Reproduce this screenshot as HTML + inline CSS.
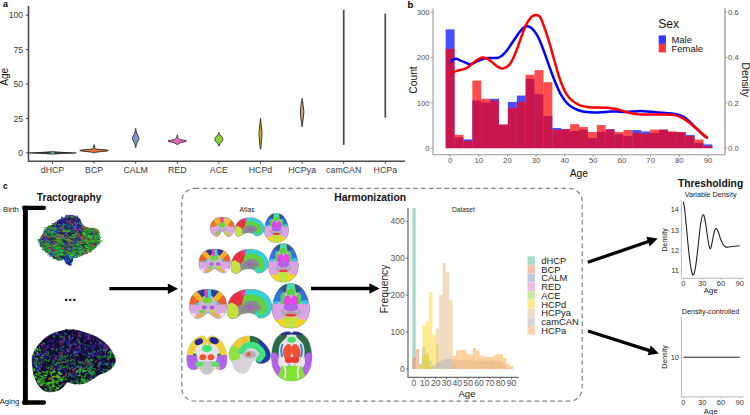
<!DOCTYPE html>
<html><head><meta charset="utf-8"><title>Figure</title>
<style>
html,body{margin:0;padding:0;background:#fff;}
body{width:750px;height:415px;overflow:hidden;}
svg{display:block;}
svg text{font-family:"Liberation Sans",sans-serif;}
</style></head><body>
<svg width="750" height="415" viewBox="0 0 750 415">
<rect width="750" height="415" fill="#ffffff"/>
<g id="panelA">
<text x="3.00" y="7.40" font-size="8.80" text-anchor="start" font-weight="bold" fill="#000" >a</text>
<path d="M28.5,6.0 V161.2 H405.0" fill="none" stroke="#4a4a4a" stroke-width="1.6"/>
<line x1="25.9" x2="28.5" y1="152.90" y2="152.90" stroke="#333" stroke-width="0.9"/>
<text x="23.20" y="156.00" font-size="8.70" text-anchor="end" font-weight="normal" fill="#3a3a3a" >0</text>
<line x1="25.9" x2="28.5" y1="118.47" y2="118.47" stroke="#333" stroke-width="0.9"/>
<text x="23.20" y="121.57" font-size="8.70" text-anchor="end" font-weight="normal" fill="#3a3a3a" >25</text>
<line x1="25.9" x2="28.5" y1="84.05" y2="84.05" stroke="#333" stroke-width="0.9"/>
<text x="23.20" y="87.15" font-size="8.70" text-anchor="end" font-weight="normal" fill="#3a3a3a" >50</text>
<line x1="25.9" x2="28.5" y1="49.62" y2="49.62" stroke="#333" stroke-width="0.9"/>
<text x="23.20" y="52.72" font-size="8.70" text-anchor="end" font-weight="normal" fill="#3a3a3a" >75</text>
<line x1="25.9" x2="28.5" y1="15.20" y2="15.20" stroke="#333" stroke-width="0.9"/>
<text x="23.20" y="18.30" font-size="8.70" text-anchor="end" font-weight="normal" fill="#3a3a3a" >100</text>
<text x="8.30" y="76.90" font-size="10.00" text-anchor="middle" font-weight="normal" fill="#111" transform="rotate(-90 8.30 76.90)" >Age</text>
<line x1="52.50" x2="52.50" y1="161.2" y2="163.8" stroke="#333" stroke-width="0.9"/>
<text x="52.50" y="173.00" font-size="8.80" text-anchor="middle" font-weight="normal" fill="#3a3a3a" >dHCP</text>
<line x1="94.10" x2="94.10" y1="161.2" y2="163.8" stroke="#333" stroke-width="0.9"/>
<text x="94.10" y="173.00" font-size="8.80" text-anchor="middle" font-weight="normal" fill="#3a3a3a" >BCP</text>
<line x1="135.70" x2="135.70" y1="161.2" y2="163.8" stroke="#333" stroke-width="0.9"/>
<text x="135.70" y="173.00" font-size="8.80" text-anchor="middle" font-weight="normal" fill="#3a3a3a" >CALM</text>
<line x1="177.30" x2="177.30" y1="161.2" y2="163.8" stroke="#333" stroke-width="0.9"/>
<text x="177.30" y="173.00" font-size="8.80" text-anchor="middle" font-weight="normal" fill="#3a3a3a" >RED</text>
<line x1="218.90" x2="218.90" y1="161.2" y2="163.8" stroke="#333" stroke-width="0.9"/>
<text x="218.90" y="173.00" font-size="8.80" text-anchor="middle" font-weight="normal" fill="#3a3a3a" >ACE</text>
<line x1="260.50" x2="260.50" y1="161.2" y2="163.8" stroke="#333" stroke-width="0.9"/>
<text x="260.50" y="173.00" font-size="8.80" text-anchor="middle" font-weight="normal" fill="#3a3a3a" >HCPd</text>
<line x1="302.10" x2="302.10" y1="161.2" y2="163.8" stroke="#333" stroke-width="0.9"/>
<text x="302.10" y="173.00" font-size="8.80" text-anchor="middle" font-weight="normal" fill="#3a3a3a" >HCPya</text>
<line x1="343.70" x2="343.70" y1="161.2" y2="163.8" stroke="#333" stroke-width="0.9"/>
<text x="343.70" y="173.00" font-size="8.80" text-anchor="middle" font-weight="normal" fill="#3a3a3a" >camCAN</text>
<line x1="385.30" x2="385.30" y1="161.2" y2="163.8" stroke="#333" stroke-width="0.9"/>
<text x="385.30" y="173.00" font-size="8.80" text-anchor="middle" font-weight="normal" fill="#3a3a3a" >HCPa</text>
<path d="M52.40,151.90 C51.08,151.98 48.45,152.23 44.50,152.40 C40.55,152.57 28.70,152.73 28.70,152.90 C28.70,153.07 40.55,153.23 44.50,153.40 C48.45,153.57 51.08,153.82 52.40,153.90 L52.60,153.90 C53.92,153.82 56.55,153.57 60.50,153.40 C64.45,153.23 76.30,153.07 76.30,152.90 C76.30,152.73 64.45,152.57 60.50,152.40 C56.55,152.23 53.92,151.98 52.60,151.90 Z" fill="#3c4a46" stroke="#333" stroke-width="1.30" stroke-linejoin="round"/>
<ellipse cx="52.5" cy="152.9" rx="2.2" ry="0.9" fill="#5fb79c"/>
<path d="M94.00,144.70 C93.92,145.13 93.82,146.58 93.50,147.30 C93.18,148.02 94.20,148.53 92.10,149.00 C90.00,149.47 82.70,149.77 80.90,150.10 C79.10,150.43 79.67,150.68 81.30,151.00 C82.93,151.32 88.58,151.68 90.70,152.00 C92.82,152.32 93.45,152.75 94.00,152.90 L94.20,152.90 C94.75,152.75 95.38,152.32 97.50,152.00 C99.62,151.68 105.27,151.32 106.90,151.00 C108.53,150.68 109.10,150.43 107.30,150.10 C105.50,149.77 98.20,149.47 96.10,149.00 C94.00,148.53 95.02,148.02 94.70,147.30 C94.38,146.58 94.28,145.13 94.20,144.70 Z" fill="#f0703c" stroke="#333" stroke-width="1.00" stroke-linejoin="round"/>
<path d="M135.60,128.40 C135.52,129.00 135.45,130.82 135.10,132.00 C134.75,133.18 133.95,134.47 133.50,135.50 C133.05,136.53 132.42,137.28 132.40,138.20 C132.38,139.12 132.98,140.03 133.40,141.00 C133.82,141.97 134.53,142.90 134.90,144.00 C135.27,145.10 135.48,147.00 135.60,147.60 L135.80,147.60 C135.92,147.00 136.13,145.10 136.50,144.00 C136.87,142.90 137.58,141.97 138.00,141.00 C138.42,140.03 139.02,139.12 139.00,138.20 C138.98,137.28 138.35,136.53 137.90,135.50 C137.45,134.47 136.65,133.18 136.30,132.00 C135.95,130.82 135.88,129.00 135.80,128.40 Z" fill="#7d94ce" stroke="#333" stroke-width="0.95" stroke-linejoin="round"/>
<path d="M177.20,134.90 C177.12,135.33 177.18,136.72 176.70,137.50 C176.22,138.28 175.67,139.07 174.30,139.60 C172.93,140.13 169.37,140.37 168.50,140.70 C167.63,141.03 168.13,141.25 169.10,141.60 C170.07,141.95 172.95,142.28 174.30,142.80 C175.65,143.32 176.72,144.38 177.20,144.70 L177.40,144.70 C177.88,144.38 178.95,143.32 180.30,142.80 C181.65,142.28 184.53,141.95 185.50,141.60 C186.47,141.25 186.97,141.03 186.10,140.70 C185.23,140.37 181.67,140.13 180.30,139.60 C178.93,139.07 178.38,138.28 177.90,137.50 C177.42,136.72 177.48,135.33 177.40,134.90 Z" fill="#e66bbb" stroke="#333" stroke-width="0.95" stroke-linejoin="round"/>
<path d="M218.80,132.50 C218.62,132.92 218.28,134.17 217.70,135.00 C217.12,135.83 215.75,136.75 215.30,137.50 C214.85,138.25 214.90,138.82 215.00,139.50 C215.10,140.18 215.42,140.88 215.90,141.60 C216.38,142.32 217.42,143.05 217.90,143.80 C218.38,144.55 218.65,145.72 218.80,146.10 L219.00,146.10 C219.15,145.72 219.42,144.55 219.90,143.80 C220.38,143.05 221.42,142.32 221.90,141.60 C222.38,140.88 222.70,140.18 222.80,139.50 C222.90,138.82 222.95,138.25 222.50,137.50 C222.05,136.75 220.68,135.83 220.10,135.00 C219.52,134.17 219.18,132.92 219.00,132.50 Z" fill="#8dd030" stroke="#333" stroke-width="0.95" stroke-linejoin="round"/>
<path d="M260.40,118.40 C260.32,119.33 260.07,122.23 259.90,124.00 C259.73,125.77 259.55,127.40 259.40,129.00 C259.25,130.60 259.02,131.93 259.00,133.60 C258.98,135.27 259.17,137.27 259.30,139.00 C259.43,140.73 259.62,142.30 259.80,144.00 C259.98,145.70 260.30,148.33 260.40,149.20 L260.60,149.20 C260.70,148.33 261.02,145.70 261.20,144.00 C261.38,142.30 261.57,140.73 261.70,139.00 C261.83,137.27 262.02,135.27 262.00,133.60 C261.98,131.93 261.75,130.60 261.60,129.00 C261.45,127.40 261.27,125.77 261.10,124.00 C260.93,122.23 260.68,119.33 260.60,118.40 Z" fill="#d8b025" stroke="#333" stroke-width="1.00" stroke-linejoin="round"/>
<path d="M302.00,98.40 C301.90,99.17 301.62,101.40 301.40,103.00 C301.18,104.60 300.87,106.50 300.70,108.00 C300.53,109.50 300.40,110.67 300.40,112.00 C300.40,113.33 300.55,114.50 300.70,116.00 C300.85,117.50 301.08,119.23 301.30,121.00 C301.52,122.77 301.88,125.67 302.00,126.60 L302.20,126.60 C302.32,125.67 302.68,122.77 302.90,121.00 C303.12,119.23 303.35,117.50 303.50,116.00 C303.65,114.50 303.80,113.33 303.80,112.00 C303.80,110.67 303.67,109.50 303.50,108.00 C303.33,106.50 303.02,104.60 302.80,103.00 C302.58,101.40 302.30,99.17 302.20,98.40 Z" fill="#d4a878" stroke="#333" stroke-width="1.00" stroke-linejoin="round"/>
<line x1="343.70" x2="343.70" y1="9.8" y2="144.9" stroke="#484848" stroke-width="1.7"/>
<line x1="385.30" x2="385.30" y1="13.7" y2="117.6" stroke="#484848" stroke-width="1.7"/>
</g>
<g id="panelB">
<text x="407.60" y="8.20" font-size="9.60" text-anchor="start" font-weight="bold" fill="#000" >b</text>
<path d="M433.0,8.4 V154.7 H725.0" fill="none" stroke="#9a9a9a" stroke-width="1.1"/>
<path d="M725.0,154.7 V8.4" fill="none" stroke="#6a6a6a" stroke-width="0.9"/>
<line x1="430.8" x2="433.0" y1="148.20" y2="148.20" stroke="#8a8a8a" stroke-width="0.8"/>
<text x="429.60" y="150.90" font-size="7.70" text-anchor="end" font-weight="normal" fill="#505050" >0</text>
<line x1="430.8" x2="433.0" y1="102.83" y2="102.83" stroke="#8a8a8a" stroke-width="0.8"/>
<text x="429.60" y="105.53" font-size="7.70" text-anchor="end" font-weight="normal" fill="#505050" >100</text>
<line x1="430.8" x2="433.0" y1="57.46" y2="57.46" stroke="#8a8a8a" stroke-width="0.8"/>
<text x="429.60" y="60.16" font-size="7.70" text-anchor="end" font-weight="normal" fill="#505050" >200</text>
<line x1="430.8" x2="433.0" y1="12.09" y2="12.09" stroke="#8a8a8a" stroke-width="0.8"/>
<text x="429.60" y="14.79" font-size="7.70" text-anchor="end" font-weight="normal" fill="#505050" >300</text>
<line x1="725.0" x2="727.2" y1="148.20" y2="148.20" stroke="#8a8a8a" stroke-width="0.8"/>
<text x="728.00" y="150.90" font-size="7.70" text-anchor="start" font-weight="normal" fill="#505050" >0.0</text>
<line x1="725.0" x2="727.2" y1="102.80" y2="102.80" stroke="#8a8a8a" stroke-width="0.8"/>
<text x="728.00" y="105.50" font-size="7.70" text-anchor="start" font-weight="normal" fill="#505050" >0.2</text>
<line x1="725.0" x2="727.2" y1="57.40" y2="57.40" stroke="#8a8a8a" stroke-width="0.8"/>
<text x="728.00" y="60.10" font-size="7.70" text-anchor="start" font-weight="normal" fill="#505050" >0.4</text>
<line x1="725.0" x2="727.2" y1="12.00" y2="12.00" stroke="#8a8a8a" stroke-width="0.8"/>
<text x="728.00" y="14.70" font-size="7.70" text-anchor="start" font-weight="normal" fill="#505050" >0.6</text>
<line x1="450.10" x2="450.10" y1="154.7" y2="156.9" stroke="#8a8a8a" stroke-width="0.8"/>
<text x="450.10" y="163.20" font-size="7.70" text-anchor="middle" font-weight="normal" fill="#505050" >0</text>
<line x1="478.75" x2="478.75" y1="154.7" y2="156.9" stroke="#8a8a8a" stroke-width="0.8"/>
<text x="478.75" y="163.20" font-size="7.70" text-anchor="middle" font-weight="normal" fill="#505050" >10</text>
<line x1="507.40" x2="507.40" y1="154.7" y2="156.9" stroke="#8a8a8a" stroke-width="0.8"/>
<text x="507.40" y="163.20" font-size="7.70" text-anchor="middle" font-weight="normal" fill="#505050" >20</text>
<line x1="536.05" x2="536.05" y1="154.7" y2="156.9" stroke="#8a8a8a" stroke-width="0.8"/>
<text x="536.05" y="163.20" font-size="7.70" text-anchor="middle" font-weight="normal" fill="#505050" >30</text>
<line x1="564.70" x2="564.70" y1="154.7" y2="156.9" stroke="#8a8a8a" stroke-width="0.8"/>
<text x="564.70" y="163.20" font-size="7.70" text-anchor="middle" font-weight="normal" fill="#505050" >40</text>
<line x1="593.35" x2="593.35" y1="154.7" y2="156.9" stroke="#8a8a8a" stroke-width="0.8"/>
<text x="593.35" y="163.20" font-size="7.70" text-anchor="middle" font-weight="normal" fill="#505050" >50</text>
<line x1="622.00" x2="622.00" y1="154.7" y2="156.9" stroke="#8a8a8a" stroke-width="0.8"/>
<text x="622.00" y="163.20" font-size="7.70" text-anchor="middle" font-weight="normal" fill="#505050" >60</text>
<line x1="650.65" x2="650.65" y1="154.7" y2="156.9" stroke="#8a8a8a" stroke-width="0.8"/>
<text x="650.65" y="163.20" font-size="7.70" text-anchor="middle" font-weight="normal" fill="#505050" >70</text>
<line x1="679.30" x2="679.30" y1="154.7" y2="156.9" stroke="#8a8a8a" stroke-width="0.8"/>
<text x="679.30" y="163.20" font-size="7.70" text-anchor="middle" font-weight="normal" fill="#505050" >80</text>
<line x1="707.95" x2="707.95" y1="154.7" y2="156.9" stroke="#8a8a8a" stroke-width="0.8"/>
<text x="707.95" y="163.20" font-size="7.70" text-anchor="middle" font-weight="normal" fill="#505050" >90</text>
<text x="416.60" y="80.00" font-size="10.30" text-anchor="middle" font-weight="normal" fill="#111" transform="rotate(-90 416.60 80.00)" >Count</text>
<text x="742.00" y="79.70" font-size="10.30" text-anchor="middle" font-weight="normal" fill="#111" transform="rotate(90 742.00 79.70)" >Density</text>
<text x="578.80" y="177.00" font-size="10.30" text-anchor="middle" font-weight="normal" fill="#111" >Age</text>
<g fill="#0000ff" fill-opacity="0.7">
<rect x="445.66" y="29.33" width="8.89" height="118.87"/>
<rect x="454.55" y="137.31" width="8.89" height="10.89"/>
<rect x="463.44" y="139.35" width="8.89" height="8.85"/>
<rect x="472.33" y="100.56" width="8.89" height="47.64"/>
<rect x="481.22" y="102.38" width="8.89" height="45.82"/>
<rect x="490.11" y="98.75" width="8.89" height="49.45"/>
<rect x="499.00" y="124.61" width="8.89" height="23.59"/>
<rect x="507.89" y="101.92" width="8.89" height="46.28"/>
<rect x="516.78" y="95.57" width="8.89" height="52.63"/>
<rect x="525.66" y="78.78" width="8.89" height="69.42"/>
<rect x="534.56" y="94.21" width="8.89" height="53.99"/>
<rect x="543.45" y="115.99" width="8.89" height="32.21"/>
<rect x="552.34" y="127.96" width="8.89" height="20.24"/>
<rect x="561.23" y="129.14" width="8.89" height="19.06"/>
<rect x="570.12" y="130.96" width="8.89" height="17.24"/>
<rect x="579.00" y="129.60" width="8.89" height="18.60"/>
<rect x="587.89" y="137.99" width="8.89" height="10.21"/>
<rect x="596.79" y="132.00" width="8.89" height="16.20"/>
<rect x="605.68" y="129.14" width="8.89" height="19.06"/>
<rect x="614.57" y="134.14" width="8.89" height="14.06"/>
<rect x="623.46" y="135.95" width="8.89" height="12.25"/>
<rect x="632.35" y="130.05" width="8.89" height="18.15"/>
<rect x="641.24" y="131.41" width="8.89" height="16.79"/>
<rect x="650.12" y="133.00" width="8.89" height="15.20"/>
<rect x="659.02" y="129.60" width="8.89" height="18.60"/>
<rect x="667.90" y="132.00" width="8.89" height="16.20"/>
<rect x="676.80" y="132.32" width="8.89" height="15.88"/>
<rect x="685.69" y="135.04" width="8.89" height="13.16"/>
<rect x="694.58" y="142.98" width="8.89" height="5.22"/>
<rect x="703.47" y="144.39" width="8.89" height="3.81"/>
</g>
<g fill="#ff0000" fill-opacity="0.7">
<rect x="445.66" y="48.84" width="8.89" height="99.36"/>
<rect x="454.55" y="134.82" width="8.89" height="13.38"/>
<rect x="463.44" y="141.12" width="8.89" height="7.08"/>
<rect x="472.33" y="80.60" width="8.89" height="67.60"/>
<rect x="481.22" y="98.75" width="8.89" height="49.45"/>
<rect x="490.11" y="100.56" width="8.89" height="47.64"/>
<rect x="499.00" y="124.61" width="8.89" height="23.59"/>
<rect x="507.89" y="107.82" width="8.89" height="40.38"/>
<rect x="516.78" y="101.92" width="8.89" height="46.28"/>
<rect x="525.66" y="74.70" width="8.89" height="73.50"/>
<rect x="534.56" y="70.16" width="8.89" height="78.04"/>
<rect x="543.45" y="82.19" width="8.89" height="66.01"/>
<rect x="552.34" y="129.73" width="8.89" height="18.47"/>
<rect x="561.23" y="129.14" width="8.89" height="19.06"/>
<rect x="570.12" y="124.15" width="8.89" height="24.05"/>
<rect x="579.00" y="127.01" width="8.89" height="21.19"/>
<rect x="587.89" y="132.00" width="8.89" height="16.20"/>
<rect x="596.79" y="125.06" width="8.89" height="23.14"/>
<rect x="605.68" y="129.60" width="8.89" height="18.60"/>
<rect x="614.57" y="132.00" width="8.89" height="16.20"/>
<rect x="623.46" y="130.05" width="8.89" height="18.15"/>
<rect x="632.35" y="133.00" width="8.89" height="15.20"/>
<rect x="641.24" y="133.68" width="8.89" height="14.52"/>
<rect x="650.12" y="129.60" width="8.89" height="18.60"/>
<rect x="659.02" y="129.60" width="8.89" height="18.60"/>
<rect x="667.90" y="131.41" width="8.89" height="16.79"/>
<rect x="676.80" y="132.00" width="8.89" height="16.20"/>
<rect x="685.69" y="135.95" width="8.89" height="12.25"/>
<rect x="694.58" y="139.58" width="8.89" height="8.62"/>
<rect x="703.47" y="146.02" width="8.89" height="2.18"/>
</g>
<path d="M450.50,62.40 C450.92,61.97 452.03,60.40 453.00,59.80 C453.97,59.20 454.80,58.57 456.30,58.80 C457.80,59.03 459.75,60.30 462.00,61.20 C464.25,62.10 467.47,64.07 469.80,64.20 C472.13,64.33 473.73,62.90 476.00,62.00 C478.27,61.10 480.90,59.47 483.40,58.80 C485.90,58.13 488.58,58.15 491.00,58.00 C493.42,57.85 495.98,58.35 497.90,57.90 C499.82,57.45 501.00,56.52 502.50,55.30 C504.00,54.08 505.32,52.65 506.90,50.60 C508.48,48.55 510.18,45.70 512.00,43.00 C513.82,40.30 516.05,36.80 517.80,34.40 C519.55,32.00 521.00,29.97 522.50,28.60 C524.00,27.23 525.47,26.40 526.80,26.20 C528.13,26.00 529.30,26.65 530.50,27.40 C531.70,28.15 532.75,29.13 534.00,30.70 C535.25,32.27 536.58,34.00 538.00,36.80 C539.42,39.60 540.98,43.60 542.50,47.50 C544.02,51.40 545.60,56.03 547.10,60.20 C548.60,64.37 550.00,68.48 551.50,72.50 C553.00,76.52 554.60,80.75 556.10,84.30 C557.60,87.85 558.98,91.03 560.50,93.80 C562.02,96.57 563.70,98.97 565.20,100.90 C566.70,102.83 568.00,104.15 569.50,105.40 C571.00,106.65 572.45,107.50 574.20,108.40 C575.95,109.30 577.98,110.20 580.00,110.80 C582.02,111.40 583.97,111.72 586.30,112.00 C588.63,112.28 591.50,112.45 594.00,112.50 C596.50,112.55 598.63,112.45 601.30,112.30 C603.97,112.15 607.38,111.72 610.00,111.60 C612.62,111.48 614.58,111.53 617.00,111.60 C619.42,111.67 622.00,112.02 624.50,112.00 C627.00,111.98 629.30,111.65 632.00,111.50 C634.70,111.35 638.03,111.10 640.70,111.10 C643.37,111.10 645.58,111.32 648.00,111.50 C650.42,111.68 652.70,112.00 655.20,112.20 C657.70,112.40 660.28,112.48 663.00,112.70 C665.72,112.92 669.17,113.22 671.50,113.50 C673.83,113.78 675.20,113.95 677.00,114.40 C678.80,114.85 680.80,115.53 682.30,116.20 C683.80,116.87 684.78,117.50 686.00,118.40 C687.22,119.30 688.27,120.33 689.60,121.60 C690.93,122.87 692.50,124.50 694.00,126.00 C695.50,127.50 697.10,129.15 698.60,130.60 C700.10,132.05 701.50,133.43 703.00,134.70 C704.50,135.97 706.83,137.62 707.60,138.20" fill="none" stroke="#0000ff" stroke-width="2.5" stroke-linecap="butt" stroke-linejoin="round"/>
<path d="M450.50,74.10 C451.08,73.72 452.75,72.40 454.00,71.80 C455.25,71.20 456.58,70.88 458.00,70.50 C459.42,70.12 461.00,69.95 462.50,69.50 C464.00,69.05 465.50,68.62 467.00,67.80 C468.50,66.98 469.97,65.80 471.50,64.60 C473.03,63.40 474.87,61.62 476.20,60.60 C477.53,59.58 478.45,59.02 479.50,58.50 C480.55,57.98 481.50,57.58 482.50,57.50 C483.50,57.42 484.45,57.63 485.50,58.00 C486.55,58.37 487.50,58.82 488.80,59.70 C490.10,60.58 491.78,62.10 493.30,63.30 C494.82,64.50 496.68,66.10 497.90,66.90 C499.12,67.70 499.70,67.85 500.60,68.10 C501.50,68.35 502.23,68.62 503.30,68.40 C504.37,68.18 505.80,67.65 507.00,66.80 C508.20,65.95 509.33,65.02 510.50,63.30 C511.67,61.58 512.78,59.22 514.00,56.50 C515.22,53.78 516.55,50.33 517.80,47.00 C519.05,43.67 520.30,39.82 521.50,36.50 C522.70,33.18 523.95,29.55 525.00,27.10 C526.05,24.65 526.90,23.30 527.80,21.80 C528.70,20.30 529.53,19.10 530.40,18.10 C531.27,17.10 532.10,16.32 533.00,15.80 C533.90,15.28 534.88,15.02 535.80,15.00 C536.72,14.98 537.72,15.27 538.50,15.70 C539.28,16.13 539.82,16.45 540.50,17.60 C541.18,18.75 541.68,20.20 542.60,22.60 C543.52,25.00 544.75,28.23 546.00,32.00 C547.25,35.77 548.80,40.78 550.10,45.20 C551.40,49.62 552.53,53.98 553.80,58.50 C555.07,63.02 556.45,68.22 557.70,72.30 C558.95,76.38 560.05,79.73 561.30,83.00 C562.55,86.27 563.92,89.48 565.20,91.90 C566.48,94.32 567.75,96.00 569.00,97.50 C570.25,99.00 571.48,99.90 572.70,100.90 C573.92,101.90 575.05,102.75 576.30,103.50 C577.55,104.25 578.58,104.85 580.20,105.40 C581.82,105.95 583.98,106.45 586.00,106.80 C588.02,107.15 589.97,107.37 592.30,107.50 C594.63,107.63 597.50,107.55 600.00,107.60 C602.50,107.65 605.13,107.63 607.30,107.80 C609.47,107.97 611.05,108.27 613.00,108.60 C614.95,108.93 617.17,109.35 619.00,109.80 C620.83,110.25 622.50,110.85 624.00,111.30 C625.50,111.75 626.33,112.10 628.00,112.50 C629.67,112.90 631.88,113.38 634.00,113.70 C636.12,114.02 638.37,114.28 640.70,114.40 C643.03,114.52 645.58,114.40 648.00,114.40 C650.42,114.40 652.70,114.40 655.20,114.40 C657.70,114.40 660.28,114.35 663.00,114.40 C665.72,114.45 669.25,114.50 671.50,114.70 C673.75,114.90 675.00,115.20 676.50,115.60 C678.00,116.00 679.25,116.53 680.50,117.10 C681.75,117.67 682.78,118.25 684.00,119.00 C685.22,119.75 686.47,120.60 687.80,121.60 C689.13,122.60 690.50,123.80 692.00,125.00 C693.50,126.20 695.13,127.38 696.80,128.80 C698.47,130.22 700.20,131.93 702.00,133.50 C703.80,135.07 706.67,137.42 707.60,138.20" fill="none" stroke="#ff0000" stroke-width="2.5" stroke-linecap="butt" stroke-linejoin="round"/>
<text x="658.20" y="28.40" font-size="12.20" text-anchor="start" font-weight="normal" fill="#111" >Sex</text>
<rect x="658.7" y="35.4" width="7.2" height="8.5" fill="#0000ff" fill-opacity="0.8"/>
<rect x="658.7" y="43.9" width="7.2" height="8.5" fill="#ff0000" fill-opacity="0.8"/>
<text x="671.40" y="43.00" font-size="9.50" text-anchor="start" font-weight="normal" fill="#111" >Male</text>
<text x="671.40" y="51.80" font-size="9.50" text-anchor="start" font-weight="normal" fill="#111" >Female</text>
</g>
<defs>
<filter id="blurT" x="-5%" y="-5%" width="110%" height="110%"><feGaussianBlur stdDeviation="0.5"/></filter>
<filter id="blurT2" x="-5%" y="-5%" width="110%" height="110%"><feGaussianBlur stdDeviation="0.55"/></filter>
<filter id="blurA" x="-5%" y="-5%" width="110%" height="110%"><feGaussianBlur stdDeviation="0.6"/></filter>
</defs>
<g id="panelC">
<text x="3.00" y="188.60" font-size="8.50" text-anchor="start" font-weight="bold" fill="#000" >c</text>
<text x="69.10" y="200.50" font-size="10.20" text-anchor="middle" font-weight="bold" fill="#111" >Tractography</text>
<text x="334.20" y="200.60" font-size="10.35" text-anchor="start" font-weight="bold" fill="#111" >Harmonization</text>
<text x="710.60" y="187.30" font-size="10.30" text-anchor="middle" font-weight="bold" fill="#111" >Thresholding</text>
<text x="3.00" y="212.40" font-size="7.70" text-anchor="start" font-weight="normal" fill="#222" >Birth</text>
<text x="-0.30" y="404.00" font-size="7.70" text-anchor="start" font-weight="normal" fill="#222" >Aging</text>
<path d="M25.4,205.65 V404.7" fill="none" stroke="#000" stroke-width="4.9"/>
<path d="M24,207.8 H43.9 M24,402.5 H43.9" fill="none" stroke="#000" stroke-width="4.3" stroke-linecap="round"/>
<text x="70.20" y="301.30" font-size="15.00" text-anchor="middle" font-weight="bold" fill="#111" >...</text>
<defs><marker id="ah" viewBox="0 0 10 10" refX="2" refY="5" markerWidth="3.4" markerHeight="3.4" orient="auto"><path d="M0,0 L10,5 L0,10 Z" fill="#000"/></marker></defs>
<line x1="109.40" y1="288.70" x2="168.30" y2="288.70" stroke="#000" stroke-width="3.3"/>
<path d="M178.00,288.70 L167.80,293.90 L167.80,283.50 Z" fill="#000"/>
<line x1="311.00" y1="288.50" x2="369.90" y2="288.50" stroke="#000" stroke-width="3.3"/>
<path d="M379.60,288.50 L369.40,293.70 L369.40,283.30 Z" fill="#000"/>
<line x1="587.80" y1="262.30" x2="648.42" y2="241.54" stroke="#000" stroke-width="3.3"/>
<path d="M657.60,238.40 L649.63,246.62 L646.27,236.78 Z" fill="#000"/>
<line x1="588.00" y1="331.00" x2="649.65" y2="350.57" stroke="#000" stroke-width="3.3"/>
<path d="M658.90,353.50 L647.60,355.37 L650.75,345.46 Z" fill="#000"/>
<rect x="181.8" y="188.4" width="400.4" height="212.8" rx="13" ry="13" fill="none" stroke="#848484" stroke-width="1.25" stroke-dasharray="4.6 3.2"/>
<text x="247.10" y="212.40" font-size="6.80" text-anchor="middle" font-weight="normal" fill="#222" >Atlas</text>
<text x="463.40" y="212.40" font-size="6.60" text-anchor="middle" font-weight="normal" fill="#222" >Dataset</text>
<g filter="url(#blurT)">
<path d="M72.09,216.45 C73.97,216.40 75.19,216.57 76.55,217.19 C77.91,217.81 79.40,218.80 80.27,220.16 C81.14,221.52 80.64,224.05 81.75,225.37 C82.87,226.68 84.85,227.42 86.96,228.04 C89.06,228.66 92.53,228.29 94.39,229.08 C96.25,229.88 97.24,231.31 98.11,232.80 C98.98,234.29 99.47,236.27 99.60,238.00 C99.72,239.74 99.60,241.72 98.85,243.21 C98.11,244.69 96.37,245.76 95.14,246.92 C93.90,248.09 93.28,249.05 91.42,250.19 C89.56,251.33 86.46,252.67 83.98,253.76 C81.51,254.85 78.38,255.99 76.55,256.73 C74.72,257.48 73.83,257.23 72.98,258.22 C72.14,259.21 72.26,261.62 71.50,262.68 C70.73,263.75 69.37,264.61 68.37,264.61 C67.38,264.61 66.07,263.60 65.55,262.68 C65.03,261.76 66.14,259.71 65.25,259.11 C64.36,258.52 62.03,259.26 60.20,259.11 C58.36,258.96 55.79,258.87 54.25,258.22 C52.71,257.58 52.34,256.39 50.98,255.25 C49.62,254.11 47.51,252.77 46.07,251.38 C44.64,250.00 43.35,248.53 42.36,246.92 C41.37,245.31 40.28,243.45 40.13,241.72 C39.98,239.98 40.75,238.13 41.47,236.52 C42.18,234.91 43.55,233.54 44.44,232.06 C45.33,230.57 45.58,228.74 46.82,227.60 C48.06,226.46 50.26,225.96 51.87,225.22 C53.48,224.47 55.19,224.03 56.48,223.14 C57.77,222.24 58.14,220.81 59.60,219.86 C61.06,218.92 63.17,218.06 65.25,217.49 C67.33,216.92 70.21,216.49 72.09,216.45Z" fill="#1a3040" stroke="#1a3040" stroke-width="0.6" stroke-linejoin="round"/>
<path d="M57.4,222.3l3.1,1.0M69.6,220.3l-2.7,1.4M68.1,223.0l0.1,4.0M73.2,219.9l1.4,1.7M74.9,221.7l-2.5,1.4M63.6,224.6l-2.3,1.5M68.3,219.6l-0.6,1.6" stroke="#1a1650" stroke-width="1.1" stroke-linecap="round" fill="none"/>
<path d="M43.4,235.7l1.2,1.3M63.7,252.7l2.3,1.8M61.5,248.6l2.5,1.0M84.3,226.6l1.3,0.1M48.6,254.3l2.4,1.7M68.6,252.4l2.8,3.0M44.4,243.7l1.7,-0.3M77.4,255.7l1.8,0.2M89.0,235.8l1.8,0.2M47.6,233.1l1.6,0.5M62.3,250.5l2.6,1.5M58.6,257.6l3.6,1.1M75.8,251.1l4.3,0.1M41.8,245.5l3.3,2.1M79.5,247.0l2.2,-0.0M93.5,229.3l2.7,1.2M70.1,256.2l2.7,0.8M93.3,241.5l2.8,-0.6M80.4,255.0l3.4,-1.0M44.7,229.3l4.3,-0.2M81.3,227.8l4.4,0.6M85.2,230.7l4.0,-2.0M78.7,244.4l3.4,2.3M38.9,239.8l0.9,0.0M51.4,233.5l1.7,1.1M96.3,233.2l2.8,0.4M50.8,243.6l4.0,1.2M52.0,233.5l2.8,1.0M50.4,236.4l3.7,-2.0M81.6,252.6l1.5,-1.0M62.9,243.2l2.5,0.4M88.2,249.0l4.3,-0.4M72.1,250.2l2.9,-0.7M78.6,251.1l2.2,0.1M39.1,242.4l3.7,-1.1M54.6,250.7l2.0,0.1M94.0,231.3l2.5,-1.0M65.2,254.9l4.1,-2.0M76.7,243.8l2.5,0.1M44.3,243.0l2.2,1.5M84.6,253.4l1.6,-0.0M44.4,230.3l0.9,0.5M49.8,232.1l3.8,1.6M62.4,243.2l4.0,0.8M92.0,231.4l2.0,0.8M90.1,236.3l2.2,0.7M96.5,243.0l2.3,0.9M87.7,251.4l2.9,-0.8M51.1,232.0l1.8,0.8M92.4,241.4l2.8,-0.1M60.5,248.4l3.9,1.5M91.8,242.5l2.8,0.3M73.7,244.3l3.3,0.0M93.8,233.2l2.1,-1.7M47.4,243.3l2.6,3.2M85.9,251.9l4.2,-0.1M88.8,236.0l2.5,0.5M87.7,246.7l3.9,-1.1M53.8,246.2l2.1,0.4M52.0,245.0l3.3,0.5M42.7,248.5l4.0,0.1M49.0,246.0l2.2,0.7M45.3,242.2l2.3,-0.7M93.4,241.1l2.0,-0.0M79.5,251.1l3.1,-1.1M71.6,256.4l2.3,-0.7M65.9,248.2l2.6,0.1" stroke="#35c535" stroke-width="0.7" stroke-linecap="round" fill="none"/>
<path d="M77.2,244.8l1.7,-0.1M90.9,230.5l3.1,-1.3M70.9,253.7l2.1,1.7M43.3,233.1l3.3,1.0M43.7,231.6l2.6,1.8M77.3,255.8l4.3,-0.1M83.7,248.5l4.1,-1.4M64.5,254.4l3.0,-1.0M50.9,253.1l3.2,1.3M81.9,236.9l2.4,1.8M74.9,257.2l2.7,-0.1M56.5,251.8l3.5,-0.3M54.7,247.3l4.2,-0.9M68.7,244.1l4.4,0.7M89.5,241.3l2.1,0.6M96.8,238.7l4.0,-0.1M66.4,243.1l3.7,0.5M78.9,256.5l0.9,0.2M89.4,246.0l3.0,0.1M40.8,235.8l0.7,0.1M54.2,246.1l2.8,-0.2M87.8,227.5l2.6,1.9M89.2,248.4l3.7,-0.5M71.9,255.5l2.2,0.8M64.3,256.0l3.8,-1.4M53.5,248.6l4.1,-1.6M46.0,247.9l4.1,-1.6M84.1,233.0l3.8,1.3M48.2,241.0l2.6,0.7M64.4,245.2l2.3,1.5M64.6,249.3l1.9,0.6M93.4,234.9l2.7,0.0M88.7,240.7l4.2,-0.8M89.2,243.7l2.4,0.4M51.2,247.8l2.8,-1.5M72.9,252.6l2.2,0.7M56.1,247.6l4.3,-1.3M87.2,228.1l1.4,-0.3M54.8,254.6l2.8,1.2M88.6,245.5l1.8,0.9M48.2,244.0l1.7,1.6M51.9,250.9l2.4,3.0M42.8,243.9l3.5,2.0M89.3,239.5l2.0,-0.8M83.4,226.3l1.2,0.1M57.0,254.9l1.5,-0.9M70.8,250.4l2.0,0.6M88.0,231.9l3.0,0.9M86.7,241.9l2.0,1.2M91.5,248.7l2.3,0.9M87.1,229.6l1.9,0.0M49.8,252.2l3.1,-0.3M79.5,247.2l3.3,-0.7M79.3,249.5l4.0,-0.1M98.8,243.3l1.3,-0.3M84.6,236.1l3.8,1.2M41.9,240.7l4.1,-1.4M55.0,249.8l3.5,-1.8M80.4,252.6l1.9,0.9M71.6,253.7l3.0,-0.5M46.4,241.4l2.9,1.1M74.3,254.3l3.2,0.3M96.7,229.6l1.5,0.2M74.8,244.9l3.8,0.2M69.5,249.4l4.0,0.8M52.1,254.0l2.3,1.4" stroke="#35c535" stroke-width="0.9" stroke-linecap="round" fill="none"/>
<path d="M75.4,223.4l-2.0,2.6M60.9,220.8l1.5,3.1M60.1,226.5l-3.0,0.9M61.2,221.3l-2.5,2.0M71.3,226.9l1.5,0.9M67.6,218.2l-2.5,2.7M76.5,220.1l3.1,1.4M66.4,222.9l-0.8,2.8" stroke="#2a1fa0" stroke-width="0.9" stroke-linecap="round" fill="none"/>
<path d="M82.1,225.4l0.6,4.2M77.0,224.1l0.2,4.4M82.9,225.2l-3.8,0.9M68.8,216.3l-0.6,1.0M68.9,216.3l-0.2,3.3M58.6,221.3l-0.5,3.2M66.5,215.4l0.8,1.3M61.0,228.7l3.2,-0.6" stroke="#1a1650" stroke-width="1.4" stroke-linecap="round" fill="none"/>
<path d="M57.7,249.7l1.2,1.4M90.1,250.5l1.2,1.1M92.6,234.6l4.5,0.1M62.1,245.1l2.0,-0.5M95.7,246.0l1.2,0.1M85.8,235.7l2.5,1.6M65.4,245.3l2.4,-0.0M45.7,250.8l2.5,0.5M81.1,233.9l4.2,0.2M69.5,256.2l2.4,1.5M81.2,252.4l3.4,0.2M94.0,234.8l3.2,2.4M56.4,259.5l3.4,-0.1M53.0,251.8l4.3,1.2M68.9,243.4l2.4,1.8M44.7,250.7l3.7,-1.5M99.3,243.0l1.0,-0.7M55.3,253.7l2.1,-1.1M81.9,252.3l4.2,1.3M86.4,240.7l3.3,2.6M70.6,255.7l3.1,-1.1" stroke="#1f8a2a" stroke-width="0.7" stroke-linecap="round" fill="none"/>
<path d="M66.7,249.6l3.2,-1.4M83.6,241.1l3.7,-0.9M77.3,243.4l3.4,0.5M81.9,239.4l4.1,-0.1M57.7,259.6l2.7,0.3M54.4,251.2l3.9,0.6M45.4,245.0l4.1,1.5M52.2,254.1l2.0,1.0M71.4,254.1l3.1,0.9M55.6,244.4l2.3,0.1M59.8,250.1l3.8,1.7M93.1,230.7l3.2,-0.6M88.5,241.3l3.7,-0.3M90.8,237.6l4.3,1.2M67.9,255.5l2.1,-0.3M66.6,255.9l2.5,-0.8M54.3,253.9l2.4,0.9M55.3,256.5l2.8,0.2M57.3,253.9l2.5,1.4M48.1,232.8l2.0,-0.1M47.5,231.1l2.7,-1.9M86.0,242.2l2.9,-0.4M94.2,247.2l1.2,0.4M96.6,241.7l1.6,0.3M82.9,252.7l2.5,-0.5M50.8,253.9l4.4,-1.4M81.7,232.8l3.6,0.1M88.5,235.6l3.6,0.3M38.1,240.0l1.5,-0.1M42.0,246.5l2.6,0.6M78.6,253.0l4.2,0.8M93.8,237.8l2.0,-1.0M78.6,243.8l4.0,-0.6M60.6,252.9l3.7,2.1M44.0,234.5l1.7,-0.4M44.8,242.6l1.3,1.4M96.6,243.7l2.1,1.4M57.3,248.4l1.6,0.7M52.3,248.9l4.1,0.3M79.3,246.9l3.4,2.8M88.3,247.7l2.1,-1.3M99.4,237.1l1.0,0.3M59.4,250.5l3.7,0.9M57.5,253.3l2.0,0.5M68.1,255.8l2.7,2.8M92.6,246.0l1.8,-0.1M86.1,246.3l1.5,1.6M48.2,249.2l1.9,-0.2M86.3,240.6l2.8,0.8M65.9,245.4l3.2,0.2M80.4,249.0l4.2,0.4M96.3,240.8l3.3,0.6M100.2,240.8l1.4,0.4M82.7,232.6l2.5,2.5M45.0,237.7l1.9,2.0M74.4,247.8l1.9,0.8M74.2,251.8l2.5,-0.2M49.4,231.5l3.9,1.4M84.4,230.5l4.3,0.5M94.0,234.6l3.1,1.8M44.2,234.5l3.4,1.6M51.1,229.8l3.3,2.1M73.1,247.0l2.5,0.6M65.4,250.8l3.1,1.4M38.9,242.7l3.1,0.3M85.7,249.7l3.2,1.5M68.4,249.1l2.8,-0.5M48.4,231.1l3.1,-1.1M58.3,258.7l1.8,0.6" stroke="#35c535" stroke-width="1.4" stroke-linecap="round" fill="none"/>
<path d="M51.4,228.6l1.7,2.2M63.7,252.2l3.0,3.4M51.2,226.1l0.7,3.9M81.6,250.9l0.7,3.4M40.5,241.5l0.4,4.2M69.1,245.0l-0.2,2.1M43.0,244.2l2.0,4.1M49.9,227.9l1.7,2.7M65.2,242.2l0.3,3.9M77.0,246.6l0.0,4.3M45.1,229.7l0.6,1.6" stroke="#2a2ad0" stroke-width="1.4" stroke-linecap="round" fill="none"/>
<path d="M68.7,242.3l-3.9,1.5M42.3,237.2l-1.6,3.5M77.5,236.4l-3.8,1.8M66.0,230.0l4.2,1.7M80.6,242.5l3.0,1.0M60.1,241.1l2.8,0.6" stroke="#c0306a" stroke-width="1.1" stroke-linecap="round" fill="none"/>
<path d="M60.8,226.1l3.2,1.6M60.5,225.7l1.8,1.2M59.7,219.3l0.6,1.0M72.6,216.8l0.6,3.2M57.9,226.1l1.8,1.9M77.8,220.2l-1.3,1.3M79.7,224.7l-2.1,1.8M77.3,226.2l2.1,2.4M65.8,224.0l-3.9,0.8M79.6,220.0l0.6,3.3M74.0,223.4l-1.8,0.2M77.3,223.1l0.4,1.6" stroke="#2a1fa0" stroke-width="0.7" stroke-linecap="round" fill="none"/>
<path d="M74.5,227.3l2.1,2.4M53.4,233.3l3.1,0.9M63.9,234.1l1.6,0.2M77.0,239.3l2.5,0.2M71.0,232.0l2.4,2.4M58.4,237.8l2.1,0.2M79.9,236.5l3.9,0.0M54.4,229.8l2.7,2.1M53.4,229.3l3.4,-1.3M75.8,239.3l2.7,2.3M68.1,240.9l3.7,-0.1M61.6,230.1l2.2,-0.1" stroke="#2fb52f" stroke-width="1.1" stroke-linecap="round" fill="none"/>
<path d="M82.2,240.5l-0.8,1.6M56.7,229.6l-1.2,1.8M57.9,233.8l0.7,2.2M57.7,233.7l-2.4,0.9" stroke="#2a2ac0" stroke-width="1.4" stroke-linecap="round" fill="none"/>
<path d="M61.1,239.0l4.4,1.2M65.1,235.3l3.1,1.9M60.4,233.7l-3.1,2.4M78.9,237.2l-0.3,1.9M54.7,233.9l-1.4,1.9M59.0,230.5l3.5,2.4M57.1,231.4l-1.7,1.2M58.1,239.3l-1.1,2.8M79.1,237.7l0.0,2.7M75.5,237.4l1.9,1.9M63.3,231.4l1.2,3.5M58.9,235.8l-1.6,1.0M80.8,241.0l-4.1,1.9M70.9,227.6l-0.0,4.3M79.8,227.0l2.1,3.7" stroke="#16263e" stroke-width="1.4" stroke-linecap="round" fill="none"/>
<path d="M70.2,222.2l3.1,0.9M73.9,219.6l-0.3,2.8M61.4,221.3l-2.7,2.9M62.0,218.3l-2.6,3.2M75.4,225.5l-1.7,0.8M82.0,222.4l-0.5,1.4M78.1,221.4l1.4,1.5M57.9,220.7l1.9,0.6" stroke="#1a1650" stroke-width="0.7" stroke-linecap="round" fill="none"/>
<path d="M77.1,254.1l-0.2,2.2M47.0,227.1l1.6,1.9M44.5,238.0l1.8,4.1M75.3,246.2l0.1,3.6M44.5,238.7l0.0,2.0M46.7,228.9l1.2,4.0M55.5,247.7l-0.4,1.8M58.4,259.0l0.4,1.1M48.9,234.6l1.5,2.9M79.2,242.8l1.2,4.1M40.9,238.9l0.4,2.8M44.5,248.4l1.7,4.3M47.9,240.6l0.4,2.6M44.1,231.2l1.0,3.2M51.5,234.1l0.6,3.5" stroke="#2a2ad0" stroke-width="0.9" stroke-linecap="round" fill="none"/>
<path d="M79.0,232.6l1.5,0.7M55.7,232.4l-1.4,2.0M52.5,242.0l3.0,-0.2M59.1,228.5l-1.2,3.8M72.8,235.0l1.1,1.6M59.4,237.1l-1.8,-0.2M63.5,232.4l3.0,2.9M68.2,230.5l-2.1,2.3M64.0,231.6l0.8,1.6" stroke="#2a2ac0" stroke-width="0.7" stroke-linecap="round" fill="none"/>
<path d="M97.8,236.3l-1.5,1.7" stroke="#3a3ab0" stroke-width="1.1" stroke-linecap="round" fill="none"/>
<path d="M62.1,238.0l-2.8,0.8M70.6,238.5l1.4,1.7M68.5,236.9l-1.4,1.3" stroke="#2a2ac0" stroke-width="0.9" stroke-linecap="round" fill="none"/>
<path d="M70.6,215.9l1.6,0.4M65.3,217.0l0.8,1.3M71.8,217.8l0.1,1.7M66.6,219.6l0.1,2.7M67.7,220.9l2.8,2.3M60.9,224.4l1.3,1.5M72.8,226.5l3.6,1.2M77.6,226.9l-3.9,2.3M68.6,220.0l-1.2,3.6" stroke="#4a2290" stroke-width="0.9" stroke-linecap="round" fill="none"/>
<path d="M66.4,251.8l3.6,0.3M95.3,243.1l4.4,-0.2M82.9,239.8l3.8,-1.2M41.7,246.5l2.1,-0.5M60.0,259.2l2.3,0.6M87.5,232.5l2.0,2.3M69.6,245.6l3.9,-0.5M42.4,249.3l0.9,0.5M75.3,247.2l4.3,1.3M56.3,253.9l2.7,-0.0M82.0,238.3l4.0,-0.2M40.7,246.6l0.9,-0.1M47.8,251.2l3.7,1.3M52.9,247.6l2.9,0.3M44.7,249.2l2.0,2.2M96.2,235.9l2.6,-0.7M91.0,248.5l3.4,-0.3M87.5,248.9l3.2,1.6M50.0,245.1l1.4,-1.0M92.2,247.4l3.5,-0.2M86.4,231.5l4.0,-1.9M62.6,247.9l3.5,-2.2" stroke="#1f8a2a" stroke-width="1.4" stroke-linecap="round" fill="none"/>
<path d="M73.8,252.0l-0.0,3.4M67.7,255.6l-0.6,2.3M66.0,230.7l1.9,2.6M74.0,231.5l1.2,3.8M64.1,235.5l1.5,1.9M65.9,250.7l-1.7,3.0M39.2,240.0l0.7,0.8M53.8,250.5l2.1,2.0M66.6,244.0l4.1,1.2M66.2,237.7l0.5,1.9" stroke="#5a28a8" stroke-width="0.9" stroke-linecap="round" fill="none"/>
<path d="M68.7,242.6l-3.6,-0.9M62.6,236.1l2.5,0.9M58.3,234.7l-3.1,-1.4M76.3,232.6l-4.4,1.3M66.7,241.4l0.1,3.7M79.6,230.5l-0.1,1.9M76.1,232.6l1.0,3.6M72.8,233.4l0.9,2.8M53.6,225.2l-0.1,4.4M69.9,239.9l1.7,3.7M68.2,230.1l0.6,3.9M62.7,234.0l1.9,2.5M79.0,232.0l2.4,0.4M67.9,240.4l2.7,-0.5" stroke="#16263e" stroke-width="1.1" stroke-linecap="round" fill="none"/>
<path d="M78.7,254.7l3.7,0.5M43.3,246.4l2.1,2.0M62.9,248.5l2.6,0.9M58.8,244.3l-3.4,2.8M41.3,243.8l2.1,0.8" stroke="#7a4a28" stroke-width="1.1" stroke-linecap="round" fill="none"/>
<path d="M64.6,239.8l-2.1,0.1M76.3,232.2l0.1,1.7M60.9,238.9l-4.1,-0.7M58.5,235.0l0.1,2.8" stroke="#c07030" stroke-width="1.4" stroke-linecap="round" fill="none"/>
<path d="M66.2,215.5l-0.0,1.1M62.1,217.3l3.1,2.5M65.8,216.4l0.6,3.8" stroke="#4a2290" stroke-width="0.7" stroke-linecap="round" fill="none"/>
<path d="M49.3,251.5l1.3,3.9M76.0,256.6l0.7,1.1M44.2,239.2l1.0,2.0M44.2,236.0l0.6,2.9M52.2,253.8l1.5,1.8M50.2,255.7l0.1,0.9" stroke="#2a2ad0" stroke-width="1.1" stroke-linecap="round" fill="none"/>
<path d="M71.5,240.3l1.4,2.0M69.8,232.6l-0.6,3.9M59.8,230.7l-1.3,1.3M76.8,233.0l1.6,1.9M54.0,240.6l2.1,0.5M71.2,234.8l-0.8,3.5M65.4,239.8l-3.5,1.4M61.1,235.8l-0.3,2.9M55.4,240.0l1.2,2.9M81.4,234.3l-0.6,2.2M82.3,239.7l-0.5,3.2M55.5,222.3l0.9,1.3M66.1,235.8l0.7,2.2" stroke="#16263e" stroke-width="0.9" stroke-linecap="round" fill="none"/>
<path d="M59.6,242.3l0.6,1.9M69.4,230.0l3.3,0.0M55.6,223.5l-0.5,4.1M63.3,237.4l2.1,1.7M81.9,227.8l-3.3,2.7" stroke="#30a0a0" stroke-width="0.9" stroke-linecap="round" fill="none"/>
<path d="M76.5,241.8l3.1,0.5M74.5,234.9l1.8,0.6M60.4,238.1l3.5,-0.0M63.3,230.0l2.6,-1.1M55.7,242.7l2.6,0.4M55.6,235.0l3.9,-0.7M65.4,239.5l3.5,0.2M76.4,232.9l4.0,1.4M54.2,227.6l3.3,1.2M53.4,224.1l4.5,0.0M65.4,231.5l4.1,0.0M52.1,232.0l3.0,0.6M61.6,236.8l4.4,0.6M77.8,241.1l4.3,-0.0M60.0,239.7l3.7,-0.4M70.3,237.4l4.2,0.5M54.7,237.1l2.7,1.3M56.7,242.1l1.5,1.5M71.8,241.6l4.5,0.7M67.6,239.3l3.7,1.6" stroke="#2fb52f" stroke-width="0.9" stroke-linecap="round" fill="none"/>
<path d="M70.0,264.4l0.5,0.7M72.3,256.9l0.1,4.1M66.6,259.3l0.6,2.0M64.6,257.7l2.0,4.0M69.3,264.0l0.4,0.7M67.4,256.7l0.6,1.6M68.1,261.5l-0.1,1.9M69.7,260.6l-0.5,4.1" stroke="#1a22e0" stroke-width="1.4" stroke-linecap="round" fill="none"/>
<path d="M88.0,235.8l3.8,2.5M91.9,236.0l3.7,2.0M48.2,229.8l4.0,-2.0M80.6,249.9l1.5,0.8M78.8,248.1l2.5,-1.4M44.3,244.4l4.4,-0.8M50.4,245.1l4.4,1.2M99.9,237.6l0.9,-0.1M90.5,249.3l2.3,-0.8M80.1,252.6l2.9,-1.8M48.4,252.8l2.5,0.1M80.8,237.9l4.2,0.2M38.2,239.6l1.3,0.9M43.9,248.1l3.2,-1.4M92.3,238.0l3.4,1.3M59.4,247.4l3.5,1.1M86.1,243.3l3.2,1.3M91.8,240.0l2.0,0.3M72.8,248.3l3.0,-0.3M70.2,250.1l1.7,-0.4M75.3,256.7l3.4,-1.3M96.6,239.9l3.2,1.7M75.7,256.5l3.4,-0.5M91.7,245.8l3.1,0.6M59.1,253.6l3.8,1.6M46.9,248.3l2.4,0.8M46.5,228.4l3.5,-0.9M70.6,256.0l1.5,-0.5M48.6,251.4l2.3,0.3M91.9,228.0l0.7,0.3M39.3,241.6l2.7,-0.8M87.3,250.1l3.4,-1.3M49.9,250.8l2.2,0.1M82.5,251.4l2.8,0.6M47.5,254.6l1.5,-0.0M84.2,228.9l3.2,0.4M94.7,236.7l1.8,0.2M96.2,242.0l3.1,-0.4M40.4,237.3l0.9,0.2M95.6,236.8l4.1,-1.9M89.2,250.0l1.7,1.4M80.2,254.5l1.5,0.5M82.2,234.1l3.1,1.4M58.1,255.7l4.1,-1.2M87.8,237.3l2.6,0.4M50.9,227.1l3.5,2.5M76.1,247.9l3.2,0.7M86.6,253.6l0.9,-0.4M51.1,234.6l2.8,1.5M73.9,252.6l2.4,-1.4M66.9,251.5l3.9,1.5M82.4,252.0l2.5,1.0M60.2,244.2l4.0,0.6M78.6,255.4l1.3,0.7M90.1,231.4l1.7,-1.1M84.6,245.6l1.9,0.0M96.4,229.2l1.0,0.1M85.5,234.9l1.4,1.5M60.3,250.0l1.6,1.2M44.7,229.9l1.4,0.7M92.1,231.9l3.5,-1.3" stroke="#35c535" stroke-width="1.1" stroke-linecap="round" fill="none"/>
<path d="M61.0,238.9l3.0,0.7M64.0,234.9l1.0,2.4M54.3,233.8l-0.3,2.1M57.1,231.2l-2.1,1.2M60.7,233.7l2.4,1.0M68.6,228.3l2.4,3.9M71.9,228.5l-3.5,0.9M62.6,232.2l0.9,3.9M70.9,227.8l-0.2,2.0M70.3,234.8l3.5,1.6M62.4,242.2l-1.4,1.8M81.7,233.8l-2.1,3.9M63.8,240.6l-3.0,2.5M57.0,231.0l0.1,1.9M54.4,241.4l2.4,2.3M78.1,232.5l3.7,-0.0M57.4,221.5l-3.8,2.4" stroke="#16263e" stroke-width="0.7" stroke-linecap="round" fill="none"/>
<path d="M61.1,231.7l3.8,0.0M70.1,236.5l2.2,1.3M67.7,238.9l1.5,4.3M59.6,235.5l0.4,2.0" stroke="#c07030" stroke-width="0.9" stroke-linecap="round" fill="none"/>
<path d="M78.0,251.4l-0.2,2.0M68.7,254.6l-0.7,4.3M64.2,243.0l1.8,3.9M44.9,246.3l0.8,1.9M77.3,246.3l0.8,1.5M58.8,252.1l0.8,4.2M67.0,248.1l0.2,1.7M48.2,232.1l-0.1,1.8M50.2,230.5l0.3,3.0" stroke="#2a2ad0" stroke-width="0.7" stroke-linecap="round" fill="none"/>
<path d="M78.9,250.7l3.6,-0.9M76.3,251.1l4.0,-1.2M40.0,244.4l3.1,-1.1M84.2,236.9l2.1,-0.6M88.5,246.8l3.7,-0.7M58.0,244.9l4.4,-0.4M81.7,226.6l4.0,1.8M95.5,235.5l3.2,1.6M82.6,230.7l2.1,0.5M50.8,252.3l3.5,0.7M52.8,258.3l3.6,0.7M73.6,247.8l4.4,1.1M83.9,253.1l1.5,0.5M45.0,251.0l3.7,-0.3M42.1,243.7l3.7,-0.2M94.6,239.3l3.7,-1.6M77.5,246.9l2.6,0.8M98.0,230.6l0.7,0.5M86.3,237.1l2.1,1.4M79.4,247.9l3.1,-1.1M57.7,246.1l3.8,0.6M87.6,240.7l3.6,-0.2M71.1,251.7l2.0,-0.4M89.2,249.6l3.2,-0.7M57.2,249.2l2.1,1.2M85.7,228.6l2.2,-0.0M72.0,251.2l2.4,-0.2M92.5,232.0l2.9,2.2" stroke="#1f8a2a" stroke-width="1.1" stroke-linecap="round" fill="none"/>
<path d="M65.6,220.9l4.5,0.6" stroke="#b0306a" stroke-width="1.4" stroke-linecap="round" fill="none"/>
<path d="M69.2,215.9l-0.2,1.0M69.9,226.1l-3.1,2.0M77.3,216.3l-0.6,2.4M73.0,215.7l-2.3,-0.3M62.6,219.7l1.9,1.0M79.0,226.4l-3.2,2.7M66.7,225.0l2.1,0.8M67.8,223.6l-0.6,3.1M69.5,225.2l0.3,3.1" stroke="#2a1fa0" stroke-width="1.1" stroke-linecap="round" fill="none"/>
<path d="M72.6,235.0l1.8,0.4M52.8,227.7l2.6,-0.3M63.0,231.3l3.0,-1.8M67.1,230.3l1.8,1.3M70.1,240.7l2.0,0.7M60.6,242.5l1.3,-0.9M66.7,231.0l3.5,-0.1M56.5,240.0l3.8,1.5M74.2,234.6l2.3,-0.6M59.4,235.5l3.6,0.0M59.7,229.5l3.1,-0.9M54.2,240.1l4.6,-0.0M53.1,227.7l2.0,0.0M67.6,239.4l3.5,1.0" stroke="#2fb52f" stroke-width="1.4" stroke-linecap="round" fill="none"/>
<path d="M71.8,248.1l-1.0,3.4M49.8,252.1l2.6,2.2M47.5,228.3l1.7,1.3M75.7,228.3l-1.9,1.6M52.5,243.6l-2.3,1.2M62.8,228.8l-1.3,3.1M46.4,239.4l-1.5,3.2M78.3,229.6l-2.2,2.9M58.1,259.4l0.8,0.9M40.8,240.7l-1.6,-0.2M58.2,228.3l2.7,0.7M65.0,249.1l1.8,0.5M66.6,233.1l-2.8,2.2M75.8,239.3l-0.7,1.9M54.5,226.8l-1.6,2.6" stroke="#5a28a8" stroke-width="1.4" stroke-linecap="round" fill="none"/>
<path d="M78.3,218.2l1.8,2.1M65.7,219.5l-0.8,2.1M67.0,221.7l0.9,3.4M59.1,227.0l1.8,1.9M73.2,216.3l-4.2,-0.2M65.1,227.2l1.1,2.5M78.9,227.3l1.2,1.2M74.7,216.1l1.6,2.6M67.7,225.9l-3.2,-1.2M64.3,223.6l-3.6,-0.3M74.2,223.4l-2.8,1.5M79.7,225.7l-0.1,1.7M75.3,224.9l-1.6,2.9M60.4,220.0l2.4,2.4M68.1,222.0l-1.4,1.1" stroke="#2a1fa0" stroke-width="1.4" stroke-linecap="round" fill="none"/>
<path d="M57.9,235.9l3.8,1.3M62.6,248.6l3.2,1.6M65.0,245.8l2.3,2.2M77.5,239.9l4.2,0.5M49.8,244.0l-0.7,2.2M70.4,248.1l1.7,2.0M67.5,242.4l-2.6,3.5M78.2,255.8l-0.6,1.1M54.4,250.7l1.7,1.0M52.6,223.8l4.3,0.2M53.3,243.2l1.8,1.9M56.8,233.4l0.7,2.2" stroke="#5a28a8" stroke-width="0.7" stroke-linecap="round" fill="none"/>
<path d="M74.9,235.2l2.0,2.1M53.2,254.5l3.4,0.2M45.9,237.7l1.2,1.8M51.2,240.8l1.1,2.5M74.8,242.7l-4.2,0.7M40.0,245.1l1.3,0.9M67.6,245.0l1.5,3.3M52.3,247.1l0.1,4.4M66.8,234.8l-2.1,-0.6M72.4,248.5l-1.8,1.4" stroke="#5a28a8" stroke-width="1.1" stroke-linecap="round" fill="none"/>
<path d="M60.0,224.2l-1.5,0.8M73.0,225.1l1.7,3.1M75.8,226.7l-0.8,2.3M75.8,222.3l0.4,4.0" stroke="#2070b0" stroke-width="1.4" stroke-linecap="round" fill="none"/>
<path d="M93.9,241.7l0.2,3.9M88.1,241.1l-1.8,0.1M93.9,228.3l-0.4,0.8M81.8,225.3l3.4,2.4" stroke="#8a4a28" stroke-width="1.1" stroke-linecap="round" fill="none"/>
<path d="M60.7,228.1l-1.7,1.7M58.3,234.9l-2.1,-0.6" stroke="#c07030" stroke-width="1.1" stroke-linecap="round" fill="none"/>
<path d="M56.5,252.1l1.5,-0.6M95.0,230.6l1.6,1.0M90.3,246.2l4.0,0.9M97.4,242.1l1.9,0.2M85.3,253.3l1.2,0.2M75.6,255.0l2.2,-0.4M69.9,252.3l2.3,0.7M83.2,242.8l3.2,0.7M82.8,228.1l1.8,-0.2M52.3,255.3l2.0,0.1M47.4,248.8l2.1,-0.5M49.4,244.5l3.7,0.6M57.7,249.6l1.7,0.5M77.7,253.3l2.6,0.5M47.2,248.3l3.0,3.1M54.3,254.2l3.2,0.0M88.8,243.3l3.7,-0.2M93.4,231.3l2.8,-0.0M85.4,230.1l4.2,1.3M98.3,232.7l1.5,-0.3" stroke="#1f8a2a" stroke-width="0.9" stroke-linecap="round" fill="none"/>
<path d="M84.5,236.9l-2.2,3.7M93.2,228.9l3.1,0.5M86.5,249.6l-1.8,1.6M87.8,228.0l-2.5,1.0M83.7,253.0l0.9,0.8M96.0,232.2l-2.6,2.1" stroke="#8a4a28" stroke-width="1.4" stroke-linecap="round" fill="none"/>
<path d="M69.4,215.0l0.6,1.1M78.2,222.8l-1.2,1.2M73.7,221.8l-1.9,4.0M62.7,217.8l-0.0,1.2M65.5,224.2l3.3,1.9" stroke="#2070b0" stroke-width="0.9" stroke-linecap="round" fill="none"/>
<path d="M47.0,235.7l3.3,0.2M52.2,240.4l2.0,0.1M38.7,239.0l1.0,0.4M49.6,233.5l3.4,1.0" stroke="#228a2c" stroke-width="1.1" stroke-linecap="round" fill="none"/>
<path d="M64.0,227.6l-0.9,2.7M63.2,234.7l-0.2,2.1M80.1,242.4l2.9,0.7M68.9,237.6l-2.0,3.7M70.1,236.8l-1.1,1.9M83.2,236.4l-4.4,0.6" stroke="#c07030" stroke-width="0.7" stroke-linecap="round" fill="none"/>
<path d="M70.6,226.5l-2.8,1.1M77.1,218.2l-1.7,2.0M72.0,224.0l1.2,3.2M71.6,223.1l-1.9,1.1M64.8,224.3l-1.0,1.6M66.8,217.8l2.3,-1.0" stroke="#2e8b3a" stroke-width="0.9" stroke-linecap="round" fill="none"/>
<path d="M70.0,236.8l3.8,-2.0M55.8,230.6l3.4,-0.8M57.7,231.9l2.4,-0.5M51.5,229.4l4.1,-0.6M65.2,234.2l3.2,1.1M73.1,231.0l3.6,2.1M64.5,238.2l3.1,-1.9M58.1,242.0l2.9,-1.2M53.4,243.0l2.8,-0.1M80.5,230.8l3.2,-0.4M74.3,236.2l2.1,0.6M60.8,242.9l2.0,-0.4M72.9,237.5l1.8,0.7M80.8,241.6l1.9,-1.0M66.9,232.6l3.1,-1.5M69.8,241.7l2.6,-0.7" stroke="#2fb52f" stroke-width="0.7" stroke-linecap="round" fill="none"/>
<path d="M77.2,240.0l-1.1,1.8M81.6,229.6l-1.2,1.5M76.2,242.3l-1.5,2.1M54.4,231.4l3.8,1.0M73.9,229.8l-2.9,0.9M61.5,227.3l-3.3,3.0" stroke="#2a2ac0" stroke-width="1.1" stroke-linecap="round" fill="none"/>
<path d="M78.3,223.0l2.8,2.2M59.5,223.9l-0.8,1.7M71.3,215.7l1.9,1.1M67.7,215.1l-0.2,1.6M68.7,215.2l0.2,0.7" stroke="#2070b0" stroke-width="0.7" stroke-linecap="round" fill="none"/>
<path d="M71.5,223.5l-2.1,0.6M81.3,226.4l2.2,2.7M75.5,223.0l-2.4,0.2M68.7,221.6l-1.0,1.5M74.6,221.3l1.8,4.1M73.9,216.5l-2.6,1.4" stroke="#b0306a" stroke-width="0.9" stroke-linecap="round" fill="none"/>
<path d="M77.2,216.1l0.3,1.3M61.4,227.7l1.5,0.7M60.1,225.1l-0.5,4.5M61.9,216.7l-0.1,1.3M73.5,216.9l3.3,2.9M74.0,221.7l-0.5,4.3" stroke="#4a2290" stroke-width="1.1" stroke-linecap="round" fill="none"/>
<path d="M69.3,264.0l0.0,1.1M68.0,255.8l-0.4,3.8" stroke="#1a22e0" stroke-width="0.9" stroke-linecap="round" fill="none"/>
<path d="M85.6,236.4l-1.1,2.1M84.2,248.7l-2.9,1.1M93.1,231.1l-2.2,1.8" stroke="#3a3ab0" stroke-width="0.9" stroke-linecap="round" fill="none"/>
<path d="M76.9,231.1l1.8,2.4M56.6,241.3l1.6,2.2M67.3,236.8l-2.0,-0.2M50.5,230.5l-0.9,1.4M52.5,235.8l1.4,2.5M46.1,239.9l-1.7,2.6M79.2,228.8l2.7,1.8M55.1,240.6l-0.7,2.8" stroke="#c0306a" stroke-width="0.9" stroke-linecap="round" fill="none"/>
<path d="M79.3,238.1l2.1,0.5M63.4,235.2l-1.0,2.6M52.6,226.9l-1.8,2.9M73.5,239.8l-2.6,1.2" stroke="#c0306a" stroke-width="0.7" stroke-linecap="round" fill="none"/>
<path d="M79.8,222.1l0.2,1.8M62.9,227.2l-3.9,0.8M70.7,216.8l3.1,-0.1M64.1,223.4l-1.6,4.0" stroke="#2e8b3a" stroke-width="1.4" stroke-linecap="round" fill="none"/>
<path d="M82.2,247.4l1.7,1.2" stroke="#c83a4a" stroke-width="0.7" stroke-linecap="round" fill="none"/>
<path d="M52.3,223.9l1.4,0.4M50.9,235.6l4.2,0.6M46.7,232.0l2.4,0.4M49.1,228.3l3.1,0.5M43.2,233.2l1.5,0.5M48.8,226.7l1.4,1.4" stroke="#228a2c" stroke-width="1.4" stroke-linecap="round" fill="none"/>
<path d="M71.7,256.6l-1.0,2.4M65.2,258.9l1.8,2.3" stroke="#2aa030" stroke-width="1.1" stroke-linecap="round" fill="none"/>
<path d="M85.8,227.2l-1.8,2.4M98.5,231.5l-4.5,0.2M83.9,252.1l-0.3,2.1M97.3,239.7l-0.7,3.5M94.8,235.9l-0.9,3.1" stroke="#8a4a28" stroke-width="0.9" stroke-linecap="round" fill="none"/>
<path d="M45.4,240.5l1.8,-0.6M45.3,240.7l3.5,-0.1M44.5,227.4l1.3,0.4M49.3,230.4l1.7,-0.9M52.3,225.9l1.8,0.6M38.8,241.3l3.0,-1.2" stroke="#228a2c" stroke-width="0.7" stroke-linecap="round" fill="none"/>
<path d="M45.5,245.0l3.3,0.4M61.3,248.6l1.6,-0.3M51.0,248.5l-3.7,-0.6M68.8,244.0l0.3,3.2M53.3,249.3l1.7,1.1" stroke="#7a4a28" stroke-width="1.4" stroke-linecap="round" fill="none"/>
<path d="M70.6,263.4l0.8,0.6M68.5,259.5l-0.5,1.8" stroke="#2aa030" stroke-width="0.7" stroke-linecap="round" fill="none"/>
<path d="M67.8,217.8l-1.6,-0.6" stroke="#2070b0" stroke-width="1.1" stroke-linecap="round" fill="none"/>
<path d="M43.5,236.1l3.1,-0.3M47.3,229.7l2.1,0.5M48.9,225.6l0.9,1.1M44.9,229.8l3.0,-0.5M47.8,236.9l4.4,1.0M52.0,232.5l1.9,0.1" stroke="#228a2c" stroke-width="0.9" stroke-linecap="round" fill="none"/>
<path d="M58.9,222.7l2.3,0.8M58.5,222.9l-2.8,3.4M55.9,225.8l2.3,2.4M58.5,226.8l-1.4,1.1M63.6,222.2l1.2,1.6" stroke="#1a1650" stroke-width="0.9" stroke-linecap="round" fill="none"/>
<path d="M48.0,237.4l1.7,0.4M77.7,234.6l2.7,1.8M45.2,234.2l-2.2,2.0M74.1,228.9l2.3,0.5" stroke="#c0306a" stroke-width="1.4" stroke-linecap="round" fill="none"/>
<path d="M65.4,259.5l-0.3,1.4M65.6,258.6l1.8,2.3M70.9,263.8l0.1,1.3" stroke="#1a22e0" stroke-width="0.7" stroke-linecap="round" fill="none"/>
<path d="M85.9,230.5l-1.2,3.9M96.6,242.3l-2.0,1.7" stroke="#8a4a28" stroke-width="0.7" stroke-linecap="round" fill="none"/>
<path d="M61.3,226.5l3.4,-1.2M72.2,219.0l-3.1,3.0M60.7,228.3l2.9,-0.9" stroke="#2e8b3a" stroke-width="0.7" stroke-linecap="round" fill="none"/>
<path d="M71.1,257.4l1.4,0.7" stroke="#2aa030" stroke-width="0.9" stroke-linecap="round" fill="none"/>
<path d="M81.7,236.8l1.5,0.9" stroke="#c83a4a" stroke-width="1.4" stroke-linecap="round" fill="none"/>
<path d="M75.7,241.5l-0.6,4.4M68.4,252.5l-3.5,1.5" stroke="#7a4a28" stroke-width="0.7" stroke-linecap="round" fill="none"/>
<path d="M55.7,232.3l0.4,2.4M63.6,237.9l-3.5,-0.2M73.4,236.5l3.9,0.6M67.0,239.6l-0.2,2.1M69.3,229.6l1.1,1.5" stroke="#30a0a0" stroke-width="0.7" stroke-linecap="round" fill="none"/>
<path d="M91.7,232.9l1.3,1.9M93.4,236.8l-0.3,1.9" stroke="#3a3ab0" stroke-width="1.4" stroke-linecap="round" fill="none"/>
<path d="M56.7,236.6l-1.9,-0.7" stroke="#30a0a0" stroke-width="1.1" stroke-linecap="round" fill="none"/>
<path d="M91.4,250.7l-2.1,1.5M85.3,238.2l2.3,1.5" stroke="#c83a4a" stroke-width="1.1" stroke-linecap="round" fill="none"/>
<path d="M64.6,259.4l0.1,0.8" stroke="#1a22e0" stroke-width="1.1" stroke-linecap="round" fill="none"/>
<path d="M51.2,244.8l1.9,1.6M59.2,257.0l-3.1,-0.6" stroke="#7a4a28" stroke-width="0.9" stroke-linecap="round" fill="none"/>
<path d="M93.4,242.8l-1.2,4.3M87.4,252.9l-2.5,0.5" stroke="#c83a4a" stroke-width="0.9" stroke-linecap="round" fill="none"/>
<path d="M63.7,223.8l-1.1,1.6" stroke="#2e8b3a" stroke-width="1.1" stroke-linecap="round" fill="none"/>
<path d="M71.7,219.8l0.0,2.3M61.6,224.1l-1.3,3.3M57.5,221.1l1.4,0.7" stroke="#4a2290" stroke-width="1.4" stroke-linecap="round" fill="none"/>
<path d="M97.1,241.6l-0.6,4.5" stroke="#3a3ab0" stroke-width="0.7" stroke-linecap="round" fill="none"/>
<path d="M66.0,257.4l0.8,3.7" stroke="#3a3ad0" stroke-width="1.1" stroke-linecap="round" fill="none"/>
<path d="M70.9,263.9l0.4,0.5" stroke="#3a3ad0" stroke-width="0.7" stroke-linecap="round" fill="none"/>
</g>
<g filter="url(#blurT2)">
<path d="M70.10,329.80 C66.77,329.92 62.53,330.53 59.00,331.50 C55.47,332.47 51.98,333.77 48.90,335.60 C45.82,337.43 42.87,339.97 40.50,342.50 C38.13,345.03 36.08,348.13 34.70,350.80 C33.32,353.47 32.53,355.93 32.20,358.50 C31.87,361.07 32.47,363.78 32.70,366.20 C32.93,368.62 33.12,370.75 33.60,373.00 C34.08,375.25 34.62,377.45 35.60,379.70 C36.58,381.95 37.93,384.62 39.50,386.50 C41.07,388.38 42.75,390.15 45.00,391.00 C47.25,391.85 50.42,391.90 53.00,391.60 C55.58,391.30 58.58,390.22 60.50,389.20 C62.42,388.18 63.33,386.70 64.50,385.50 C65.67,384.30 65.75,382.28 67.50,382.00 C69.25,381.72 72.32,383.57 75.00,383.80 C77.68,384.03 81.02,384.00 83.60,383.40 C86.18,382.80 88.25,381.45 90.50,380.20 C92.75,378.95 95.18,377.03 97.10,375.90 C99.02,374.77 100.40,374.08 102.00,373.40 C103.60,372.72 105.07,372.73 106.70,371.80 C108.33,370.87 110.38,369.37 111.80,367.80 C113.22,366.23 114.70,364.20 115.20,362.40 C115.70,360.60 115.25,358.60 114.80,357.00 C114.35,355.40 113.55,354.55 112.50,352.80 C111.45,351.05 110.10,348.43 108.50,346.50 C106.90,344.57 105.07,342.85 102.90,341.20 C100.73,339.55 98.08,337.88 95.50,336.60 C92.92,335.32 90.15,334.47 87.40,333.50 C84.65,332.53 81.88,331.42 79.00,330.80 C76.12,330.18 73.43,329.68 70.10,329.80Z" fill="#121030" stroke="#121030" stroke-width="0.6" stroke-linejoin="round"/>
<path d="M79.3,352.0l-1.9,0.4M43.4,367.8l-1.5,1.2M48.9,344.2l1.1,0.8M49.3,360.7l2.2,0.3M89.7,335.4l0.6,2.1M82.7,363.6l2.0,-0.5M72.3,379.7l1.8,-1.2M59.6,337.6l-0.2,1.3M76.7,339.1l0.6,1.2M84.0,336.4l2.2,0.0M63.6,363.6l1.0,0.9M48.7,351.2l-1.0,0.1M49.5,362.6l1.0,1.0M73.3,341.5l-0.2,1.6M80.6,345.0l1.2,1.7M74.7,381.9l-0.7,1.1M41.7,345.2l0.7,1.3M47.7,360.1l0.2,0.8M43.6,365.3l1.2,-0.1M67.3,330.3l-0.1,0.4M55.5,351.8l-1.3,1.4M46.6,346.4l-0.0,0.9M40.9,358.4l0.9,0.1M57.3,336.5l-1.2,-0.2M94.4,373.6l1.5,-0.4M71.2,342.9l1.9,0.2M67.1,361.2l0.7,-1.0M61.1,349.9l-1.6,1.1M93.4,357.4l1.3,-1.2M96.2,352.4l-1.2,0.4M75.6,340.6l1.4,1.6M73.5,329.9l-0.0,0.4M103.7,352.2l-0.3,1.5M75.6,381.1l0.9,-0.9M73.3,330.1l-0.0,2.0M88.8,353.6l1.9,0.3M87.3,342.2l1.8,1.2M47.1,370.2l1.3,0.8M49.9,348.5l-1.9,1.0M74.0,367.3l0.8,-1.0M90.0,359.1l1.1,-0.8M81.5,338.8l0.6,0.7M85.0,336.5l-1.0,0.6M74.6,361.2l1.3,-0.6M43.2,370.5l1.7,0.4M66.3,349.4l-0.6,0.8M48.3,360.4l-1.2,1.1M65.3,348.7l-1.9,0.1M51.0,343.2l0.9,0.5M81.6,345.9l0.6,2.1M71.5,331.2l1.0,0.4M80.8,332.7l-0.3,1.0M77.5,344.0l2.0,0.1M63.9,337.0l2.0,0.2M50.3,351.8l0.9,1.5M76.9,358.8l1.2,0.3M92.2,347.0l1.0,1.6M50.5,349.3l0.7,0.9M46.2,339.8l0.8,1.9M66.2,356.9l1.8,0.6M54.4,356.0l1.0,0.3M96.6,371.9l0.7,-0.9" stroke="#0e0c28" stroke-width="1.4" stroke-linecap="round" fill="none"/>
<path d="M89.5,370.7l0.7,-0.4M79.4,369.4l1.1,-0.9M85.1,382.5l0.8,-0.7M39.4,349.6l1.0,0.9M107.0,370.9l1.6,-1.2M78.0,375.8l1.8,-0.5M82.0,382.1l1.0,-0.3M77.9,367.1l1.0,-0.8M33.4,353.9l0.9,1.4M109.4,357.8l1.4,-1.5M112.3,365.1l1.6,-0.7M81.0,367.7l0.8,-0.3M85.7,381.6l1.3,-1.7M90.1,367.8l1.4,-0.5M107.3,358.0l0.8,-1.1M76.4,382.0l1.3,-1.7M89.7,379.5l1.7,-1.2M36.3,358.8l0.8,1.8M90.8,366.9l1.4,-0.7M38.6,362.2l0.6,1.4M88.5,371.6l1.1,-0.4M89.6,370.3l1.5,-0.8M107.2,360.1l0.9,-0.3M88.1,380.5l1.8,-0.9M84.3,376.6l1.4,-1.1M85.8,374.1l1.4,-0.4M33.8,369.5l1.0,1.2" stroke="#2fb52f" stroke-width="1.4" stroke-linecap="round" fill="none"/>
<path d="M76.1,354.7l1.9,0.9M60.0,337.2l-0.6,1.4M104.3,345.0l0.4,2.0M102.2,357.8l-1.3,1.4M65.5,334.4l0.6,2.1M61.8,355.3l1.0,0.9M86.5,350.7l-1.6,1.1M61.9,339.9l1.4,0.4M97.8,363.8l1.4,-0.3M66.7,353.1l-1.3,0.6M39.8,365.3l1.5,0.2M66.7,350.8l-1.3,0.7M52.7,348.4l-0.4,1.0M88.1,348.0l-0.8,0.6M89.1,353.6l1.1,0.5M53.5,362.7l1.8,-0.6M52.4,370.5l1.6,-1.4M41.1,369.4l0.0,0.8M57.7,335.8l1.6,1.1M57.0,347.9l0.4,0.9M91.7,346.4l2.0,0.2M79.2,356.2l0.6,1.5M106.2,355.4l-0.6,1.0M99.6,365.3l1.7,-1.0M64.9,348.1l-0.5,1.2M83.0,351.8l-2.1,0.3" stroke="#2a22a0" stroke-width="0.9" stroke-linecap="round" fill="none"/>
<path d="M110.6,357.4l1.9,-0.3M87.6,369.0l1.2,-0.6M111.5,356.8l1.6,-0.3M107.3,366.1l1.0,-1.2M78.0,369.6l1.2,-0.5M110.4,353.7l0.7,-0.4M84.8,366.5l1.1,-0.5" stroke="#1d7a2a" stroke-width="0.9" stroke-linecap="round" fill="none"/>
<path d="M51.1,378.1l1.5,-0.1M56.7,383.1l1.1,0.9M49.5,390.2l1.2,1.0M39.8,380.9l1.8,0.4M51.6,386.7l0.9,0.9M47.0,384.2l1.7,0.8M52.2,372.4l1.0,0.0M55.0,388.4l0.7,0.7M55.2,389.0l1.1,1.1M34.8,373.7l1.3,0.7M51.9,377.4l1.2,0.1M42.2,371.5l1.8,1.1M39.3,384.1l0.9,0.3M57.7,384.6l1.5,1.0M45.2,377.5l0.8,-0.1M58.8,371.0l0.9,0.1M50.2,372.6l0.8,-0.1M34.6,376.5l0.6,0.0M52.5,387.3l1.7,0.4M45.9,383.8l1.1,-0.1M61.5,374.1l1.5,-0.1M47.0,371.2l0.8,0.6M60.3,379.9l1.7,1.3" stroke="#3ad032" stroke-width="1.1" stroke-linecap="round" fill="none"/>
<path d="M93.8,353.5l1.1,1.9M77.9,337.0l-0.8,1.5M88.8,335.3l-0.1,0.9M83.6,343.3l0.2,1.2M92.8,363.5l0.9,-0.3M69.1,350.7l-0.1,1.3M73.6,341.8l1.1,1.0M69.4,335.4l0.5,1.8M96.2,370.0l1.5,-0.2M66.5,353.8l1.0,1.9M106.4,344.7l-1.4,-0.3M93.0,340.0l0.8,-0.2M55.3,350.7l-0.7,0.5M46.6,347.1l-0.3,1.3M51.6,334.5l-0.8,0.9M80.3,346.0l0.2,1.2M92.0,347.6l-0.1,1.7M54.2,338.5l0.3,1.8M79.1,335.9l-1.0,0.5M78.2,339.1l-0.1,1.1M63.1,330.6l-0.1,0.7M67.4,368.2l1.4,-0.7M72.6,370.2l-0.8,1.0M94.3,376.4l-0.6,0.8M84.5,339.8l1.1,0.7M54.8,339.2l-0.4,1.1M69.0,340.4l-0.5,1.8M85.2,345.6l-1.0,0.8M72.4,350.2l1.9,1.0M69.5,347.7l0.7,2.0M86.2,336.7l-0.5,0.6M91.0,352.1l0.6,0.8M51.8,350.6l-0.3,1.1M66.7,370.0l1.3,-0.3M80.0,362.3l1.6,0.8M43.0,349.7l0.7,0.6M97.9,356.5l1.6,0.2" stroke="#2a22a0" stroke-width="1.1" stroke-linecap="round" fill="none"/>
<path d="M56.5,374.9l1.9,0.4M42.5,383.0l2.0,0.7M49.1,378.7l1.1,0.8M52.9,387.2l1.3,0.7M53.5,375.8l1.6,1.0M54.4,380.8l1.4,1.2M57.2,381.1l1.7,0.1M34.7,377.1l1.6,0.2M36.0,374.1l0.9,0.6M41.1,376.0l1.8,1.3M51.8,388.3l1.7,0.1M37.9,380.9l1.1,0.9M40.0,379.7l1.1,0.2M55.7,388.4l1.3,0.0M40.4,383.8l1.4,0.0M38.9,373.1l1.4,0.2M45.4,388.9l1.2,0.9M39.8,378.9l1.4,0.1M55.3,389.9l0.8,0.2" stroke="#3ad032" stroke-width="1.4" stroke-linecap="round" fill="none"/>
<path d="M91.2,360.2l0.8,-0.1M63.4,337.2l-0.9,1.1M93.8,347.0l-0.1,1.4M106.5,363.3l-1.0,0.7M47.6,346.0l1.2,0.4M72.5,344.5l1.4,-0.1M86.4,338.5l-0.9,0.6M62.6,383.7l1.5,0.9M57.4,333.1l-1.6,0.9M101.9,343.9l1.9,0.2M75.4,369.3l0.9,1.2M84.9,341.6l1.6,0.7M46.1,350.6l-1.1,0.9M92.3,352.6l-0.3,1.3M107.9,346.6l-1.1,0.3M98.0,344.5l1.9,-0.1M75.2,369.8l0.9,-0.0M66.8,364.0l1.4,-0.3M79.9,333.5l-0.7,0.8M70.6,348.0l-0.5,1.6M54.9,360.5l1.2,-1.1M83.0,346.7l0.1,0.8M63.6,341.1l-0.4,0.9M79.1,360.4l1.0,1.1M81.7,332.7l-1.4,0.1" stroke="#46228a" stroke-width="1.7" stroke-linecap="round" fill="none"/>
<path d="M100.9,352.5l-0.4,0.8M69.4,343.2l1.3,0.7M93.0,349.9l0.3,0.8M90.0,342.5l1.2,1.8M76.3,344.7l0.5,1.2M58.7,352.6l0.9,0.3" stroke="#384cbc" stroke-width="0.9" stroke-linecap="round" fill="none"/>
<path d="M39.1,353.8l0.7,1.6M110.0,354.6l1.9,-1.0M106.9,364.2l1.2,-1.3M34.7,358.0l1.2,1.5M35.0,357.2l0.4,1.8M91.6,376.0l1.1,-0.1M89.1,377.3l0.7,-0.7M108.3,367.8l1.9,-0.7M112.1,363.4l1.0,-0.6M75.7,376.0l0.9,-1.6M76.6,367.3l0.8,-0.9M86.7,374.3l0.7,-0.9M35.0,360.6l0.6,0.7M38.8,347.0l1.1,1.0M81.0,369.2l0.6,-0.7M80.2,366.9l1.0,-0.7M76.6,379.5l1.3,-0.7M93.0,372.8l1.3,-0.3M38.2,370.1l0.1,1.0M90.5,372.2l1.0,-0.2M80.8,369.9l1.1,-1.4M87.5,380.3l0.9,-0.9" stroke="#2fb52f" stroke-width="0.9" stroke-linecap="round" fill="none"/>
<path d="M76.4,382.6l1.3,-0.9M79.7,367.4l1.4,-1.3M112.3,354.6l0.6,-0.2M107.7,353.1l1.0,-1.2M79.0,373.9l1.5,-1.4M87.8,373.7l1.0,-0.9M109.1,355.9l0.9,-0.6" stroke="#3a3ab0" stroke-width="1.4" stroke-linecap="round" fill="none"/>
<path d="M50.5,355.9l-0.6,1.1M58.7,360.1l1.6,-1.5M98.2,356.9l1.8,-1.2M64.9,360.0l0.9,-0.9M56.4,359.3l1.4,0.9M81.0,362.5l0.9,-0.4M67.0,365.2l1.7,0.9M41.1,366.6l1.1,-0.7M68.4,356.5l1.8,1.2M69.2,368.3l0.7,1.3M65.8,375.7l-1.1,1.5M85.4,360.4l0.9,-1.4M66.4,373.1l-0.1,0.9M66.9,360.7l1.5,-0.3M69.3,372.4l-0.3,1.3M66.3,366.8l1.0,1.6M50.9,368.8l0.7,-0.6" stroke="#2a9a36" stroke-width="1.1" stroke-linecap="round" fill="none"/>
<path d="M76.5,347.7l-0.7,1.5M51.8,352.2l-0.8,0.9M52.8,340.7l-2.1,0.3M60.3,354.4l-0.4,2.0M80.2,333.2l0.8,1.5M53.0,342.8l1.4,1.6M91.8,363.2l0.0,1.0M72.1,362.6l1.1,-0.8M72.8,337.5l-0.5,1.9M52.0,368.5l0.2,1.1M77.4,350.9l2.0,0.7M85.1,349.8l0.6,0.9M62.8,373.1l1.7,-0.6M74.5,353.3l-0.7,2.0M44.5,345.4l-1.3,1.6M64.9,373.1l1.0,-0.1M68.3,361.0l0.8,2.0M71.2,344.5l-1.0,1.3M55.6,358.1l0.4,2.0M76.0,330.4l-0.4,0.2M48.3,344.4l-0.3,1.1M43.2,355.0l-0.3,1.8M75.3,355.9l-0.1,1.2M90.1,337.0l0.8,1.0M82.8,353.4l0.9,0.5M77.7,338.2l0.1,1.5M98.1,353.5l-0.3,0.7M73.7,357.2l1.7,1.3" stroke="#46228a" stroke-width="1.4" stroke-linecap="round" fill="none"/>
<path d="M58.0,369.4l2.0,-0.3M90.4,359.7l1.6,0.9M40.6,357.7l1.7,-0.1M105.4,355.6l-1.3,1.3M75.3,375.4l-0.9,0.7M70.6,360.7l1.8,-0.8M74.7,363.4l-0.1,2.1M51.3,366.0l1.6,-0.1M100.2,363.1l1.3,-1.2M63.0,362.1l2.2,-0.1M75.4,366.9l-0.5,1.5" stroke="#2a9a36" stroke-width="1.7" stroke-linecap="round" fill="none"/>
<path d="M63.8,376.1l1.1,0.6M64.4,333.1l1.9,1.0M63.6,376.7l-0.6,0.5M52.8,361.7l1.2,-0.2M60.1,333.7l-0.5,1.9M79.5,336.5l1.8,0.2M92.4,359.3l-0.0,1.1M61.5,351.2l-0.6,1.4M99.1,369.8l1.0,1.5" stroke="#1a6272" stroke-width="1.4" stroke-linecap="round" fill="none"/>
<path d="M43.0,378.5l1.9,0.5M50.3,384.0l0.8,0.4M37.4,381.6l1.9,-0.2M49.3,371.6l1.4,0.5M56.9,387.5l2.0,-0.2M37.3,372.8l1.6,0.4M53.5,385.0l1.5,1.5M46.5,383.4l1.7,1.2M50.9,373.2l1.2,0.9M47.1,382.8l1.8,1.2M59.7,386.1l1.9,-0.1M45.4,386.1l0.7,0.5M40.7,381.9l0.8,0.3M47.9,383.5l2.0,-0.3M56.1,383.3l1.5,-0.3M53.7,388.5l1.9,0.7M34.8,377.8l0.5,0.2M44.3,372.6l1.4,-0.1" stroke="#3ad032" stroke-width="0.9" stroke-linecap="round" fill="none"/>
<path d="M79.9,352.3l-2.1,-0.4M68.2,330.9l-0.4,1.0M83.5,334.5l1.4,1.2M64.5,374.5l1.5,0.1M69.6,363.9l1.1,0.8M78.1,341.8l-2.1,0.2M80.5,332.3l-0.8,1.4M52.8,348.5l-0.6,1.1M67.1,350.5l-0.8,1.9M74.6,367.2l2.1,0.4M54.9,364.4l-0.5,0.8M94.5,344.8l0.2,1.8M57.2,363.2l1.0,0.1M53.8,341.2l0.6,0.9M90.2,344.7l-0.3,1.1M84.7,336.1l1.6,0.5M76.8,351.7l0.4,0.8M55.0,365.6l1.9,0.1M64.5,337.1l-0.4,0.8M50.4,338.0l-2.1,0.3M106.1,350.3l-1.0,0.6M55.5,334.9l-1.5,0.8M43.0,352.1l-1.0,0.5M63.7,340.8l-0.4,1.0M49.7,341.0l-1.7,1.3M85.6,353.9l0.6,1.4M83.1,361.8l0.8,0.6M90.3,337.4l0.9,0.2M44.3,343.1l0.9,1.6M48.8,347.0l-1.4,1.0M63.0,368.4l1.8,0.9M61.4,342.8l1.7,1.1M90.1,356.1l1.0,0.7M99.4,372.9l0.9,-0.1M55.6,365.0l1.0,-0.0M61.9,357.7l-1.2,1.7M92.0,350.1l0.8,0.1M96.1,354.6l-0.9,0.3M73.8,381.6l-0.5,1.6M56.8,351.5l0.5,2.0M101.6,352.7l0.2,1.2M60.4,347.0l-1.5,0.1M68.5,367.6l1.1,-0.7M68.5,343.3l0.5,0.8M93.3,349.2l-1.0,0.5M84.3,340.3l-0.0,0.9M110.4,349.9l1.1,1.4M40.0,361.8l1.2,0.5" stroke="#2a22a0" stroke-width="1.4" stroke-linecap="round" fill="none"/>
<path d="M95.0,350.9l0.4,0.7M65.7,382.3l0.8,0.0M102.5,349.1l0.3,1.1M61.5,351.4l-2.1,0.1M94.0,342.9l1.3,1.7M60.9,353.4l-1.1,0.8M58.4,336.6l-0.7,1.7M73.9,358.1l1.5,-0.8M71.3,375.2l1.9,1.2M48.8,362.1l0.9,1.1M68.7,368.1l0.6,1.2M58.4,370.5l1.3,0.9M83.3,340.4l-1.2,1.5M58.1,354.9l-0.3,2.0M102.4,362.7l1.0,0.6M67.3,370.3l0.7,0.5M89.3,363.3l1.3,1.1M46.7,343.1l1.1,1.9M81.9,342.9l-0.4,1.4M42.9,343.1l-0.0,1.2M76.2,353.2l0.3,1.3M45.0,354.8l1.0,0.8M59.7,347.4l-1.6,-0.2M59.7,348.6l0.9,-0.1M60.7,364.6l0.9,1.1M67.9,331.6l2.1,-0.0M74.0,375.7l2.1,0.4M42.0,366.1l0.8,0.6M66.7,381.9l1.2,-0.8M67.2,381.2l0.8,0.5M80.5,354.3l1.0,0.5M67.1,330.0l0.3,0.2M45.1,352.7l1.6,0.6M87.5,357.4l-0.6,0.6M53.0,362.2l1.8,-0.6M77.9,350.5l-0.1,2.2M69.4,371.7l-0.9,1.0M80.9,362.9l1.6,-0.4M53.8,355.8l0.9,-0.1M60.5,345.6l-1.1,0.2M94.3,340.3l-0.4,1.0M68.1,381.9l1.8,-0.8M84.2,363.5l1.6,-0.1M75.2,355.4l-0.7,0.7M75.1,337.2l1.5,1.3M50.9,335.5l1.4,1.3M87.4,341.1l-1.9,1.1M91.1,356.0l1.2,0.9M58.4,348.7l1.1,1.7M65.2,368.3l0.6,-0.8M101.3,366.6l0.7,0.7M71.9,351.9l-0.2,2.2M69.9,374.1l2.0,-0.4M72.3,339.9l0.5,0.7M85.0,351.3l-1.0,1.7M59.8,359.6l1.3,-0.7M79.0,355.0l1.6,0.6M63.1,370.3l1.7,1.4M93.9,377.8l0.7,-0.0M55.8,335.0l1.1,0.4M64.3,343.9l0.1,0.8M67.1,349.0l-0.8,0.3M56.3,348.3l-0.4,1.6M47.2,369.2l1.9,-0.9" stroke="#0e0c28" stroke-width="0.9" stroke-linecap="round" fill="none"/>
<path d="M51.4,373.8l0.9,-0.1M45.7,372.3l1.7,0.5M44.5,382.3l0.6,0.6M42.3,380.0l1.4,0.1M42.9,381.1l1.7,0.4M43.1,375.8l0.8,0.4M51.3,382.3l2.1,-0.0M49.8,381.9l1.4,1.4M51.1,377.1l2.0,1.0M40.6,383.4l0.8,0.3M52.2,380.4l1.0,0.9" stroke="#1f8a25" stroke-width="1.4" stroke-linecap="round" fill="none"/>
<path d="M89.1,351.2l2.2,0.4M59.0,334.1l1.4,0.1M71.7,382.1l0.7,-0.9M62.9,349.6l-1.7,0.6M48.2,354.4l0.7,0.9M49.2,363.3l0.8,-0.7M73.2,370.2l1.2,0.2M75.4,382.3l-0.7,1.3M102.2,342.5l1.4,1.3M70.6,371.3l1.4,-0.8M67.1,351.8l-1.6,0.8M74.3,335.9l1.3,0.7M78.6,355.8l0.4,2.1M99.8,345.9l-0.8,0.6M55.1,357.4l1.6,1.0M48.6,350.4l0.3,0.9M56.7,363.7l0.7,0.5M101.0,371.0l-1.0,1.9M102.4,366.2l0.6,-0.6M71.8,381.9l1.3,-0.2M88.8,359.3l-1.2,1.4M45.7,355.4l-0.4,1.4M63.5,360.5l0.9,0.4M86.4,342.9l-0.5,1.0M94.2,363.9l0.7,-0.5M84.0,344.7l-0.8,0.3M75.2,338.5l0.6,0.6M77.8,351.5l0.9,1.0M72.7,333.8l-1.3,0.5M56.8,351.8l0.3,1.7M87.6,354.6l1.3,0.5M66.0,376.6l-0.4,1.4M63.8,378.5l1.1,0.0M90.1,356.0l0.6,1.0M67.9,358.1l1.1,-0.5M78.2,352.0l1.5,1.1M53.4,368.0l0.6,1.9M77.8,356.2l0.2,0.9M76.0,336.4l1.0,1.1M56.2,360.9l1.4,0.7M97.2,367.3l1.2,-0.6M106.7,359.5l0.4,0.9M50.7,352.5l1.5,0.8M61.2,337.6l0.6,0.7M81.6,346.1l0.9,1.0M44.1,344.5l-0.3,1.5M100.6,348.6l0.1,1.7M54.2,348.3l-1.4,1.2M67.2,346.0l1.6,1.1M44.6,349.3l0.7,1.3M78.2,353.4l-1.4,1.0M49.8,337.9l-1.3,0.1M91.7,339.4l1.7,0.0M87.1,337.6l-1.1,0.4M96.6,337.6l0.1,0.7M101.2,371.7l1.1,-1.0M86.9,361.4l1.2,-0.9M63.0,374.6l1.4,-0.1M52.3,365.7l1.6,0.7M58.1,362.9l1.9,-0.1M96.6,365.1l0.4,-0.7M62.4,374.0l1.9,-1.1M75.1,365.4l1.2,0.0M101.9,348.2l2.0,-0.3M76.9,335.9l-1.0,-0.2M105.0,359.5l-0.5,1.1M66.7,330.2l-1.1,-0.0M83.8,357.8l0.5,1.7M54.5,342.4l-1.1,1.3M93.8,356.9l1.8,-0.4M60.2,359.3l0.7,-0.8M74.0,373.8l1.7,-0.8M96.2,351.6l-0.9,0.8M95.4,349.6l0.9,0.7M55.2,350.8l-0.9,0.8" stroke="#0e0c28" stroke-width="1.7" stroke-linecap="round" fill="none"/>
<path d="M92.6,371.9l0.7,-1.2M89.0,379.7l0.9,-0.4M90.4,366.5l0.9,-0.6M85.8,373.1l0.7,-0.6" stroke="#131340" stroke-width="1.1" stroke-linecap="round" fill="none"/>
<path d="M113.4,363.7l0.6,-0.6M89.3,379.9l0.8,-0.1M76.3,367.4l0.8,-1.3" stroke="#3a3ab0" stroke-width="1.7" stroke-linecap="round" fill="none"/>
<path d="M97.9,358.2l1.0,1.6M78.8,349.3l-0.6,1.7M97.9,340.5l1.1,1.3M64.0,357.7l1.0,-0.1M44.8,340.7l-0.9,0.9M76.0,369.5l-1.1,1.0M73.2,339.2l0.5,0.8M53.2,354.6l-0.6,0.6M97.7,350.5l1.8,0.3M102.9,347.9l-0.7,1.4M64.3,373.5l-0.9,0.7M43.5,356.2l-0.2,1.1M90.6,344.1l1.3,-0.1M91.1,349.1l-0.5,0.7M83.1,359.2l1.3,-0.0M48.3,348.7l0.3,1.5M101.3,350.9l1.6,1.0M60.6,341.2l0.5,0.9M83.2,355.4l-1.0,0.5M66.4,356.9l1.7,-0.0M67.9,364.3l1.1,0.7M100.9,368.8l0.9,1.5M46.3,352.2l0.6,1.7M54.3,368.4l1.3,-0.4M75.3,340.7l2.0,0.2M84.5,349.6l1.9,0.9M59.3,345.5l0.4,0.8M72.0,361.1l1.7,-0.3M54.5,344.8l0.5,0.8M52.5,367.5l1.4,-0.4M69.0,372.2l1.6,-0.4M93.8,367.0l1.5,1.6M55.6,338.9l-0.1,1.5M56.3,352.0l0.5,0.8M68.9,355.9l-0.3,1.8M41.3,358.5l1.2,0.8M78.6,348.7l-1.5,1.6M50.3,358.5l1.3,1.4M100.8,359.8l0.6,0.6M80.5,359.7l0.1,1.4M95.2,366.9l1.7,-0.9M92.8,352.2l-1.5,0.4M101.2,349.7l-1.7,-0.0M71.0,333.2l1.0,0.1M103.2,363.3l1.1,-1.0M69.8,356.1l1.2,0.4M71.1,365.6l1.0,-0.2M79.4,360.3l0.9,-0.9M75.1,377.1l0.6,1.3M97.1,349.3l1.1,0.7M70.4,351.6l0.9,1.3M64.6,378.8l0.4,1.5M49.5,353.8l0.4,1.6M98.8,371.8l1.1,-1.0M76.1,361.3l-0.4,0.9M94.1,357.0l0.8,0.9M53.5,365.9l1.9,0.9M77.0,355.9l-0.7,0.9M84.1,334.8l0.8,1.1M73.5,330.4l-0.5,0.7M93.7,342.2l-1.8,0.5M61.0,345.8l-0.9,1.1M97.2,359.9l1.3,-0.3M67.2,370.3l1.2,0.1M53.7,368.0l1.0,-0.2M49.8,354.1l-1.6,0.3" stroke="#0e0c28" stroke-width="1.1" stroke-linecap="round" fill="none"/>
<path d="M73.5,360.4l1.1,0.0M65.2,355.5l-1.4,1.3M60.4,356.7l1.9,-0.1M69.3,374.7l-1.0,1.9M75.5,372.6l0.9,-0.1M64.8,379.1l2.2,0.1M43.2,357.5l-1.1,1.5" stroke="#1f6e2c" stroke-width="1.4" stroke-linecap="round" fill="none"/>
<path d="M93.5,352.1l1.6,-0.5M111.5,350.6l-0.6,0.4M69.3,336.3l-0.4,0.8M79.1,341.1l-0.1,1.9M56.4,349.3l-0.0,1.0M77.1,355.0l0.6,0.9M43.2,343.7l1.1,0.0" stroke="#268236" stroke-width="1.7" stroke-linecap="round" fill="none"/>
<path d="M87.9,369.4l0.6,-1.0M36.9,358.7l0.9,1.4M84.8,380.9l0.8,-0.8M36.1,365.0l-0.1,1.8M36.0,362.4l-0.1,1.4M35.4,349.7l0.1,0.9M38.8,367.3l1.0,1.3M83.1,380.5l1.6,-1.5M76.5,371.8l1.1,-0.8M114.5,357.0l0.1,-0.3M37.2,352.4l0.3,1.6M84.6,371.2l1.5,-0.5M91.7,374.5l1.4,-0.3M80.3,379.2l2.0,-0.4M84.4,382.8l0.9,-0.4M80.2,379.5l1.3,-0.3M37.2,366.1l0.4,1.1M83.0,372.1l0.9,-1.6M110.5,355.5l1.3,-1.2M89.6,373.5l1.8,-1.1M37.0,348.7l0.8,0.9M79.9,383.7l0.2,-0.2M34.3,368.7l1.0,1.6M79.3,372.0l1.2,-1.5M110.5,352.9l0.8,-1.4" stroke="#2fb52f" stroke-width="1.7" stroke-linecap="round" fill="none"/>
<path d="M74.6,344.0l1.1,0.7M46.2,349.4l-1.3,-0.3M74.8,372.1l-0.5,0.7M98.5,368.3l1.3,-0.9M84.4,361.7l-0.0,1.3M59.8,353.8l-1.1,1.4M41.0,362.1l0.8,-0.2" stroke="#9a2658" stroke-width="0.9" stroke-linecap="round" fill="none"/>
<path d="M75.4,372.0l-0.0,1.6M53.1,368.9l1.9,0.6M74.1,359.5l0.8,-0.4M43.9,360.8l-0.6,1.4M55.2,364.2l1.7,-1.2M54.9,356.0l1.7,-0.0M84.3,355.0l-1.6,0.0M41.7,361.2l-0.1,0.9M101.0,371.7l1.6,0.2M52.8,360.1l0.6,-0.7M68.9,343.7l-1.9,1.0M63.6,383.7l1.2,0.6M67.9,353.6l0.6,1.5M75.9,354.4l-0.4,0.7M59.8,348.0l-0.3,1.8" stroke="#1a6272" stroke-width="0.9" stroke-linecap="round" fill="none"/>
<path d="M86.6,360.8l1.8,-0.1M48.0,365.4l0.9,-0.1M90.8,340.0l-1.9,-0.4M75.9,335.6l-0.8,0.5M72.4,342.8l0.9,0.4M63.2,335.9l1.3,0.3M57.2,356.0l-1.6,1.2M64.2,371.1l1.0,-0.4M87.0,334.3l1.1,1.7M96.3,352.2l1.0,1.8M59.8,361.4l1.3,-0.4M100.4,342.1l-1.2,0.3M100.5,369.9l-0.4,1.1M50.8,354.0l0.2,1.1M57.3,341.1l-0.3,1.3M87.9,353.3l0.9,0.7M76.3,361.3l1.6,-0.3M44.3,362.5l-1.4,1.2M54.3,358.1l0.9,-0.5M71.9,363.7l1.0,-0.6M98.0,355.0l0.8,0.4M72.1,337.1l-0.3,1.4M73.1,331.0l-0.9,1.6M87.4,344.7l-0.2,0.9M65.2,338.4l0.3,0.9M70.0,373.6l0.5,1.5M93.0,335.4l-0.7,0.3M72.7,376.2l-0.8,1.3M62.5,343.6l-0.9,1.0M98.8,344.0l-0.4,1.3" stroke="#46228a" stroke-width="0.9" stroke-linecap="round" fill="none"/>
<path d="M59.9,357.8l1.0,0.6M101.1,348.6l-1.0,1.9M85.3,348.0l0.4,1.4M70.8,381.1l1.4,-0.4M60.8,368.5l0.8,-1.0M99.0,363.4l0.7,-1.0M75.1,351.1l-0.1,1.3M87.6,360.8l0.5,1.7M46.8,355.1l1.6,-0.1M99.8,342.7l1.3,0.8M73.7,352.9l1.3,0.0M80.2,362.4l2.2,0.0M103.7,363.9l1.8,-0.6M71.5,367.6l1.1,-0.1M45.8,353.1l-0.8,0.6M104.9,349.7l1.1,0.1" stroke="#1a6272" stroke-width="1.7" stroke-linecap="round" fill="none"/>
<path d="M57.8,362.5l-0.9,1.4M63.1,367.5l1.5,-0.7M103.0,371.5l0.9,0.7M47.7,368.0l1.6,-0.3M50.8,368.7l-0.4,0.7M71.1,382.5l0.2,0.6M102.3,357.3l1.0,-0.9M87.7,359.1l-0.3,1.1M99.4,364.1l-0.4,1.4M54.6,364.6l1.5,0.3M59.9,366.0l1.1,1.1M46.5,359.9l0.0,1.1M98.2,365.7l-0.4,0.8M88.4,361.2l1.1,-0.4" stroke="#2a9a36" stroke-width="1.4" stroke-linecap="round" fill="none"/>
<path d="M99.4,360.1l1.9,-0.8M72.2,334.3l1.9,1.1M98.8,359.7l1.0,-0.4M68.3,358.0l0.2,1.9M59.7,339.6l0.4,0.7M92.0,351.7l-0.3,0.9M88.1,339.2l1.6,0.8M67.7,374.1l1.8,-0.4M91.9,347.0l-0.7,0.5M89.5,335.7l-1.3,-0.2M74.6,354.2l-0.2,1.2M61.6,334.8l-1.3,0.5M79.4,336.7l2.1,-0.2M88.7,334.1l1.1,0.9M80.8,343.2l1.7,1.3M103.2,356.0l0.3,1.8M64.1,351.7l1.8,1.0M105.9,358.7l0.9,0.7M48.7,353.9l-1.6,-0.4M72.0,354.2l-1.7,0.2M51.9,363.9l1.8,-0.2M93.3,335.8l0.4,0.1M61.9,350.3l0.0,1.3M62.3,367.9l1.8,0.7M52.6,368.1l1.4,-0.4M59.5,341.4l0.1,0.9M90.1,355.6l0.2,1.0M97.0,340.3l1.5,0.9M76.6,352.0l0.6,1.4M53.2,344.1l-0.4,2.1M53.5,346.7l0.8,0.6M103.2,343.3l1.3,0.7M73.9,343.4l-0.8,-0.3M60.2,362.4l1.6,-0.6M78.2,331.9l0.6,1.5" stroke="#46228a" stroke-width="1.1" stroke-linecap="round" fill="none"/>
<path d="M87.0,334.1l-1.5,1.2M95.2,342.7l0.5,1.0M81.1,344.3l-1.2,0.6M58.8,370.3l1.1,1.1M101.7,361.5l2.0,-0.4M42.9,344.6l0.8,0.2M44.2,357.7l1.2,-0.2M101.2,349.1l1.8,0.3M103.0,345.4l0.9,1.3M75.1,375.4l1.2,-0.7M94.7,376.9l0.8,-1.2M101.4,363.5l-0.2,1.6M57.7,356.9l1.4,1.2M72.2,374.0l1.3,-1.2M105.1,354.7l1.2,1.4M97.2,338.0l-1.0,0.8M85.9,347.6l0.6,0.9M41.5,353.8l-1.3,-0.2M72.4,375.5l-0.5,1.8M61.5,348.4l-0.8,1.2M99.3,346.2l1.3,0.5M48.9,360.5l1.4,-1.3M75.8,380.3l-0.8,0.9M78.6,346.9l-0.6,1.6M88.6,338.4l0.9,0.2M71.3,337.8l0.0,2.2M54.3,355.0l-0.9,0.9M58.2,366.5l0.5,0.9M104.0,342.7l-0.4,0.7M106.2,349.7l-1.3,-0.2M79.3,351.4l-1.0,1.0M58.4,363.8l1.4,-0.6" stroke="#2a22a0" stroke-width="1.7" stroke-linecap="round" fill="none"/>
<path d="M41.9,361.0l0.7,-0.3M51.8,367.6l0.7,-0.6M72.6,376.5l1.1,0.2M56.3,362.6l1.4,-0.5M53.8,360.3l-1.3,1.5M62.6,357.9l0.7,0.6M44.6,360.1l1.2,-0.5M99.6,357.5l1.5,-1.3" stroke="#1f6e2c" stroke-width="1.1" stroke-linecap="round" fill="none"/>
<path d="M61.6,341.5l-1.4,1.4M51.3,367.7l0.7,1.1M67.7,350.3l1.4,1.1M79.4,346.5l-0.6,1.4M65.2,376.1l1.3,-0.6M41.6,344.6l0.2,1.1M60.7,362.5l-1.1,0.9M66.9,349.6l1.3,1.4M72.6,370.5l1.6,-0.5" stroke="#9a2658" stroke-width="1.7" stroke-linecap="round" fill="none"/>
<path d="M60.8,384.8l0.9,-0.1M49.4,390.4l1.6,1.2M38.1,378.4l1.2,1.0M51.1,373.0l1.0,0.8M54.2,381.9l2.1,0.0M49.2,388.9l0.8,0.1M43.1,378.1l0.8,0.5M45.9,386.3l1.9,0.6M57.6,383.4l0.8,0.2M44.0,377.1l1.1,0.6M40.8,378.3l1.6,0.7M51.1,377.8l2.0,-0.1M53.4,386.0l0.8,0.5" stroke="#1f8a25" stroke-width="1.1" stroke-linecap="round" fill="none"/>
<path d="M87.4,365.7l1.8,-0.6M88.4,370.8l1.0,-0.5M87.6,370.5l0.8,-1.2" stroke="#3a3ab0" stroke-width="0.9" stroke-linecap="round" fill="none"/>
<path d="M51.5,366.1l1.3,0.3M48.4,361.1l1.0,-1.0M52.9,361.8l1.1,-0.7M70.1,375.2l1.2,-0.5M86.1,361.8l1.4,-1.1M95.5,368.8l-1.2,0.9M105.9,364.3l1.1,0.7M89.2,362.3l1.8,0.0M83.5,363.8l1.7,0.1M61.3,365.7l1.2,-0.1M73.3,382.4l1.2,-1.1M78.7,361.9l1.6,1.5M66.2,361.8l1.8,-0.7" stroke="#1f6e2c" stroke-width="1.7" stroke-linecap="round" fill="none"/>
<path d="M53.1,371.0l2.0,0.6M40.9,385.1l1.9,-0.2M51.5,382.5l1.9,0.7M38.9,380.4l1.0,0.5M51.1,374.2l1.0,1.0M58.4,372.6l1.2,-0.2M49.2,387.0l1.1,1.1M52.4,387.4l1.4,0.2M57.1,388.0l1.1,0.5M52.5,384.7l1.0,0.2M48.2,382.8l1.8,0.4M53.1,386.0l1.2,0.5M56.7,376.5l1.6,1.4M45.0,375.2l1.3,0.2M60.5,379.4l2.1,0.3M59.7,373.8l1.5,0.1" stroke="#3ad032" stroke-width="1.7" stroke-linecap="round" fill="none"/>
<path d="M81.3,381.3l0.7,-0.5M110.6,366.8l2.0,-0.4M82.8,368.5l1.3,-0.6M92.6,371.5l1.5,-0.2M85.9,380.8l1.1,-0.6M35.0,363.6l0.8,0.7M110.9,368.5l0.6,-0.1M36.1,359.3l0.4,0.9M81.4,376.6l1.2,-0.2M82.5,370.7l0.8,-1.5M34.7,362.6l0.2,2.1M79.8,375.1l0.8,-0.2M79.8,369.3l0.8,-0.2M108.7,352.8l0.7,-1.3M90.6,367.1l0.6,-1.1M86.1,367.2l1.1,-0.2M38.8,369.2l0.5,1.3M37.1,348.3l-0.1,1.5M36.9,369.6l0.5,0.9" stroke="#2fb52f" stroke-width="1.1" stroke-linecap="round" fill="none"/>
<path d="M105.6,352.6l-1.0,0.1M98.8,340.3l0.8,1.0M93.5,338.3l-0.2,1.4M51.2,348.5l1.4,1.0M69.7,338.8l-0.5,1.8M44.5,354.6l-1.3,1.5M61.1,344.6l-0.3,0.9M65.2,337.8l-1.9,0.9M72.7,369.4l1.7,-0.3M101.2,341.8l0.2,2.0M106.5,347.7l1.5,1.0M91.8,342.9l-1.3,0.1" stroke="#9a2658" stroke-width="1.1" stroke-linecap="round" fill="none"/>
<path d="M84.9,368.6l1.7,-1.3M108.0,363.9l1.9,-0.9M110.4,364.5l0.7,-0.5M87.5,370.3l1.3,-0.9M89.4,365.1l1.2,-0.4" stroke="#3a3ab0" stroke-width="1.1" stroke-linecap="round" fill="none"/>
<path d="M43.4,373.9l0.9,0.8M61.7,378.6l1.6,-0.1M41.6,378.6l1.3,0.7M58.2,378.7l1.8,0.5M45.1,385.2l1.6,1.0M58.5,377.1l1.7,1.2M48.3,384.6l1.0,0.8M42.1,382.1l1.6,1.0M45.3,385.4l1.4,-0.1M58.7,379.9l0.9,0.8M58.5,378.9l1.0,-0.1" stroke="#1f8a25" stroke-width="0.9" stroke-linecap="round" fill="none"/>
<path d="M110.9,355.0l1.4,-0.5M82.2,368.5l0.8,-1.3M113.2,361.5l0.9,-1.0M91.9,374.9l0.9,-1.1M109.8,363.2l1.6,-0.8M88.7,373.5l0.8,-0.4M85.2,375.0l1.4,-0.6" stroke="#131340" stroke-width="0.9" stroke-linecap="round" fill="none"/>
<path d="M79.3,342.5l1.2,0.4M61.5,347.2l1.9,-0.5M61.8,359.6l1.2,-1.1M104.8,369.6l1.2,-0.0M84.2,344.7l1.4,-0.2M94.3,372.6l0.8,1.9M102.3,369.8l1.4,-0.8M80.7,361.0l0.1,0.9" stroke="#1a6272" stroke-width="1.1" stroke-linecap="round" fill="none"/>
<path d="M108.3,359.4l0.6,-1.0M77.5,383.1l0.7,-0.6M80.5,383.2l0.9,-1.4M89.0,369.7l0.8,-0.7M93.2,374.3l1.5,-1.3" stroke="#1d7a2a" stroke-width="1.7" stroke-linecap="round" fill="none"/>
<path d="M111.9,355.8l0.5,-0.9M75.2,376.8l1.5,-0.6M85.6,380.3l0.9,-1.4M82.6,376.0l0.7,-0.8M110.5,367.1l0.8,-0.3" stroke="#131340" stroke-width="1.4" stroke-linecap="round" fill="none"/>
<path d="M37.2,363.5l0.4,1.6M33.0,355.7l0.4,0.7M39.0,344.2l0.5,0.5" stroke="#5a239a" stroke-width="0.9" stroke-linecap="round" fill="none"/>
<path d="M58.6,375.8l1.6,1.3M42.4,385.5l1.0,0.2" stroke="#c83a3a" stroke-width="0.9" stroke-linecap="round" fill="none"/>
<path d="M90.3,369.0l0.9,-1.5M113.1,356.0l1.0,-0.2M90.8,366.6l1.9,-0.2M91.8,368.8l1.8,-0.6M86.0,366.4l0.8,-0.9M91.8,365.3l1.7,-0.7M84.3,374.9l1.7,-0.6M91.8,374.9l1.5,-1.6M88.1,368.3l1.7,-1.0M81.5,377.0l1.0,-0.9M79.4,383.7l1.8,-0.6M108.4,355.5l1.1,-0.2" stroke="#1d7a2a" stroke-width="1.1" stroke-linecap="round" fill="none"/>
<path d="M55.7,380.1l2.0,0.1M40.4,380.6l1.3,-0.1M50.9,384.0l2.1,0.0M33.9,374.1l0.3,0.3M45.3,381.9l0.9,0.8M60.5,388.0l1.2,-0.2" stroke="#0e2612" stroke-width="1.1" stroke-linecap="round" fill="none"/>
<path d="M88.9,355.8l-1.0,1.0M106.2,365.1l0.9,-0.6M74.3,378.0l2.0,-0.5M58.6,362.1l0.5,2.0M45.2,367.2l1.5,-0.4M65.9,366.5l1.3,-0.1M97.8,358.3l1.6,-0.6M48.7,369.5l-0.8,1.1M39.9,363.9l1.8,-0.5M62.2,357.1l2.1,-0.3" stroke="#1f6e2c" stroke-width="0.9" stroke-linecap="round" fill="none"/>
<path d="M90.0,363.0l-0.4,2.0M74.2,362.7l0.3,1.0M71.5,363.2l0.7,1.3M90.9,360.4l2.1,-0.5M69.0,368.0l1.5,1.0M87.9,356.5l1.4,0.4M65.8,356.4l1.9,-0.4M96.5,356.8l1.2,-1.0M64.6,357.6l1.5,-0.3M59.7,359.7l1.9,0.8M64.8,379.4l1.5,-0.4M62.0,363.5l1.3,-1.6M98.7,358.3l1.0,-0.7" stroke="#2a9a36" stroke-width="0.9" stroke-linecap="round" fill="none"/>
<path d="M47.1,387.4l1.2,0.5M56.6,373.3l1.7,1.2M42.6,372.7l1.9,0.8M45.6,381.3l0.9,-0.1M50.8,376.0l1.6,0.4M44.5,387.4l1.5,0.2M46.8,388.4l1.2,0.1" stroke="#0e2612" stroke-width="0.9" stroke-linecap="round" fill="none"/>
<path d="M35.3,352.0l0.9,1.3M33.5,356.4l0.5,0.9M36.2,369.9l0.6,1.5" stroke="#2a22b8" stroke-width="1.1" stroke-linecap="round" fill="none"/>
<path d="M95.2,362.2l1.1,-1.5M47.8,336.4l-0.7,0.7M77.9,338.9l-0.8,1.2M87.7,337.8l0.9,0.1M105.5,345.4l-1.1,1.1M53.9,368.3l1.1,-0.1M88.9,337.0l-1.5,1.0M80.3,335.6l-2.1,0.2M88.4,362.9l-1.0,1.4M69.4,372.7l1.1,0.6M54.7,358.3l1.7,-0.7M62.3,352.8l0.1,0.9" stroke="#9a2658" stroke-width="1.4" stroke-linecap="round" fill="none"/>
<path d="M50.4,380.1l0.9,0.5M56.8,384.6l1.2,1.0M54.5,379.4l1.7,-0.1M52.3,379.2l2.0,0.4M51.5,387.8l0.8,0.8M38.5,383.1l1.6,0.5M43.4,384.4l0.9,0.6" stroke="#0e2612" stroke-width="1.4" stroke-linecap="round" fill="none"/>
<path d="M53.5,376.0l1.6,0.9M57.7,388.5l0.8,-0.1M51.0,389.3l1.4,0.7" stroke="#8aa020" stroke-width="0.9" stroke-linecap="round" fill="none"/>
<path d="M111.8,359.6l0.8,-1.3M108.9,368.7l1.4,-1.1M78.4,380.4l0.7,-0.7M79.0,379.3l1.3,-0.6M88.7,378.7l1.1,-0.9" stroke="#131340" stroke-width="1.7" stroke-linecap="round" fill="none"/>
<path d="M32.6,357.2l0.3,0.3M37.7,365.8l0.9,1.9M36.3,354.5l1.5,1.3" stroke="#5a239a" stroke-width="1.7" stroke-linecap="round" fill="none"/>
<path d="M53.6,335.4l1.1,1.8M63.2,349.9l-1.2,0.5M63.9,346.2l-0.8,0.9M53.1,336.4l1.7,0.4M71.7,344.9l-1.4,1.3M41.7,341.9l-0.7,0.6M71.3,355.2l-0.9,0.7M75.6,343.8l-0.1,1.2" stroke="#268236" stroke-width="1.1" stroke-linecap="round" fill="none"/>
<path d="M50.6,378.5l1.0,0.0M37.4,372.3l1.0,0.3M56.5,381.8l1.0,0.4" stroke="#8aa020" stroke-width="1.1" stroke-linecap="round" fill="none"/>
<path d="M35.7,369.0l-0.0,0.8M38.4,360.9l0.3,0.9M35.1,367.2l0.9,1.4M32.7,365.1l0.3,0.3" stroke="#14123a" stroke-width="1.4" stroke-linecap="round" fill="none"/>
<path d="M43.5,355.4l-1.4,0.5M91.0,353.5l-1.7,0.3M67.7,349.7l0.1,1.6M69.3,345.4l0.5,1.3M106.6,349.6l-1.1,1.2" stroke="#384cbc" stroke-width="1.7" stroke-linecap="round" fill="none"/>
<path d="M64.9,339.5l-1.1,1.3M56.3,332.4l1.3,1.6M77.7,351.4l-1.2,1.1M97.6,350.6l0.8,0.9M73.8,352.2l2.0,0.3M92.4,354.8l0.7,1.6M80.2,349.3l0.0,0.9M53.7,349.1l-1.3,-0.3" stroke="#384cbc" stroke-width="1.4" stroke-linecap="round" fill="none"/>
<path d="M38.3,366.0l0.6,0.6M38.6,369.7l0.9,1.6M33.5,363.4l0.5,1.4M34.6,366.1l0.9,1.2" stroke="#2a22b8" stroke-width="1.7" stroke-linecap="round" fill="none"/>
<path d="M40.4,380.2l1.0,0.6M37.8,378.7l1.2,-0.1M62.2,377.3l0.9,0.1M38.4,374.9l1.7,1.2M38.2,383.0l2.1,-0.1M52.4,379.8l1.1,0.4M46.0,371.9l1.1,0.7M58.3,380.1l1.1,0.3" stroke="#1f8a25" stroke-width="1.7" stroke-linecap="round" fill="none"/>
<path d="M52.5,380.0l1.3,1.2M58.4,376.9l1.3,0.5" stroke="#8aa020" stroke-width="1.7" stroke-linecap="round" fill="none"/>
<path d="M73.3,337.1l-0.8,1.5M68.9,338.2l1.0,0.6M62.5,336.6l-0.9,-0.1M105.6,348.1l-1.9,0.7M67.2,341.5l-0.4,1.4" stroke="#384cbc" stroke-width="1.1" stroke-linecap="round" fill="none"/>
<path d="M88.4,351.9l0.4,1.7M68.1,348.2l-0.1,1.2M88.1,345.8l1.1,0.1" stroke="#268236" stroke-width="0.9" stroke-linecap="round" fill="none"/>
<path d="M35.1,356.4l0.6,0.8M35.5,363.1l0.2,1.1" stroke="#14123a" stroke-width="1.1" stroke-linecap="round" fill="none"/>
<path d="M52.2,374.2l0.9,0.9M46.8,373.7l1.0,0.4M39.0,382.1l1.1,0.9M49.5,383.9l1.9,-0.2" stroke="#c83a3a" stroke-width="1.1" stroke-linecap="round" fill="none"/>
<path d="M110.5,353.6l1.2,-0.2" stroke="#1d7a2a" stroke-width="1.4" stroke-linecap="round" fill="none"/>
<path d="M44.9,386.2l1.1,0.4M55.9,384.5l2.0,0.1M52.5,374.8l1.7,-0.3M53.5,387.6l1.9,1.0M33.9,373.2l0.6,0.1M36.1,372.0l0.8,0.7" stroke="#0e2612" stroke-width="1.7" stroke-linecap="round" fill="none"/>
<path d="M52.4,376.7l1.7,-0.0" stroke="#8aa020" stroke-width="1.4" stroke-linecap="round" fill="none"/>
<path d="M47.8,351.4l0.6,2.0M61.0,354.7l1.4,1.6M60.3,336.9l2.1,0.1M105.4,350.2l-2.0,0.3" stroke="#268236" stroke-width="1.4" stroke-linecap="round" fill="none"/>
<path d="M32.5,357.6l0.5,0.5M39.3,365.4l0.9,1.4" stroke="#2a22b8" stroke-width="1.4" stroke-linecap="round" fill="none"/>
<path d="M38.7,365.4l0.3,1.1M39.0,357.8l1.3,1.5M38.9,360.2l0.5,1.2" stroke="#2a22b8" stroke-width="0.9" stroke-linecap="round" fill="none"/>
<path d="M39.2,367.2l1.2,1.4M35.8,359.2l1.0,0.9M33.2,360.9l0.4,0.9" stroke="#5a239a" stroke-width="1.4" stroke-linecap="round" fill="none"/>
<path d="M49.2,378.4l1.1,0.2" stroke="#c83a3a" stroke-width="1.7" stroke-linecap="round" fill="none"/>
</g>
</g>
<g id="histC">
<g fill="#66c2a5" fill-opacity="0.60">
<rect x="412.32" y="208.00" width="3.36" height="161.00"/>
</g>
<g fill="#fc8d62" fill-opacity="0.55">
<rect x="412.32" y="357.19" width="3.36" height="11.81"/>
<rect x="415.68" y="349.07" width="3.36" height="19.93"/>
<rect x="419.04" y="366.79" width="3.36" height="2.21"/>
</g>
<g fill="#8da0cb" fill-opacity="0.45">
<rect x="419.04" y="363.83" width="3.36" height="5.17"/>
<rect x="422.40" y="346.86" width="3.36" height="22.14"/>
<rect x="425.76" y="352.76" width="3.36" height="16.24"/>
<rect x="429.12" y="360.88" width="3.36" height="8.12"/>
</g>
<g fill="#e78ac3" fill-opacity="0.40">
<rect x="419.04" y="366.79" width="3.36" height="2.21"/>
<rect x="422.40" y="354.24" width="3.36" height="14.76"/>
<rect x="425.76" y="362.36" width="3.36" height="6.64"/>
</g>
<g fill="#a6d854" fill-opacity="0.60">
<rect x="419.04" y="366.05" width="3.36" height="2.95"/>
<rect x="422.40" y="354.98" width="3.36" height="14.02"/>
<rect x="425.76" y="355.72" width="3.36" height="13.28"/>
<rect x="429.12" y="366.05" width="3.36" height="2.95"/>
</g>
<g fill="#ffd92f" fill-opacity="0.55">
<rect x="419.04" y="365.31" width="3.36" height="3.69"/>
<rect x="422.40" y="325.09" width="3.36" height="43.91"/>
<rect x="425.76" y="321.40" width="3.36" height="47.60"/>
<rect x="429.12" y="292.25" width="3.36" height="76.75"/>
<rect x="432.48" y="334.68" width="3.36" height="34.32"/>
<rect x="435.84" y="343.91" width="3.36" height="25.09"/>
</g>
<g fill="#e5c494" fill-opacity="0.60">
<rect x="435.84" y="328.41" width="3.36" height="40.59"/>
<rect x="439.20" y="295.20" width="3.36" height="73.80"/>
<rect x="442.56" y="263.10" width="3.36" height="105.90"/>
<rect x="445.92" y="271.95" width="3.36" height="97.05"/>
<rect x="449.28" y="300.00" width="3.36" height="69.00"/>
<rect x="452.64" y="364.57" width="3.36" height="4.43"/>
</g>
<g fill="#b3b3b3" fill-opacity="0.55">
<rect x="432.48" y="365.31" width="3.36" height="3.69"/>
<rect x="435.84" y="363.10" width="3.36" height="5.90"/>
<rect x="439.20" y="360.88" width="3.36" height="8.12"/>
<rect x="442.56" y="359.41" width="3.36" height="9.59"/>
<rect x="445.92" y="358.67" width="3.36" height="10.33"/>
<rect x="449.28" y="359.04" width="3.36" height="9.96"/>
<rect x="452.64" y="360.14" width="3.36" height="8.86"/>
<rect x="456.00" y="359.41" width="3.36" height="9.59"/>
<rect x="459.36" y="360.14" width="3.36" height="8.86"/>
<rect x="462.72" y="360.88" width="3.36" height="8.12"/>
<rect x="466.08" y="360.14" width="3.36" height="8.86"/>
<rect x="469.44" y="359.77" width="3.36" height="9.23"/>
<rect x="472.80" y="360.88" width="3.36" height="8.12"/>
<rect x="476.16" y="360.51" width="3.36" height="8.49"/>
<rect x="479.52" y="360.88" width="3.36" height="8.12"/>
<rect x="482.88" y="360.14" width="3.36" height="8.86"/>
<rect x="486.24" y="360.88" width="3.36" height="8.12"/>
<rect x="489.60" y="360.14" width="3.36" height="8.86"/>
<rect x="492.96" y="360.88" width="3.36" height="8.12"/>
<rect x="496.32" y="360.88" width="3.36" height="8.12"/>
<rect x="499.68" y="361.62" width="3.36" height="7.38"/>
<rect x="503.04" y="364.57" width="3.36" height="4.43"/>
<rect x="506.40" y="367.15" width="3.36" height="1.85"/>
</g>
<g fill="#fdb462" fill-opacity="0.62">
<rect x="452.64" y="355.72" width="3.36" height="13.28"/>
<rect x="456.00" y="350.55" width="3.36" height="18.45"/>
<rect x="459.36" y="350.18" width="3.36" height="18.82"/>
<rect x="462.72" y="349.81" width="3.36" height="19.19"/>
<rect x="466.08" y="353.50" width="3.36" height="15.50"/>
<rect x="469.44" y="354.24" width="3.36" height="14.76"/>
<rect x="472.80" y="347.97" width="3.36" height="21.03"/>
<rect x="476.16" y="350.55" width="3.36" height="18.45"/>
<rect x="479.52" y="355.72" width="3.36" height="13.28"/>
<rect x="482.88" y="356.45" width="3.36" height="12.55"/>
<rect x="486.24" y="356.82" width="3.36" height="12.18"/>
<rect x="489.60" y="357.19" width="3.36" height="11.81"/>
<rect x="492.96" y="355.72" width="3.36" height="13.28"/>
<rect x="496.32" y="353.87" width="3.36" height="15.13"/>
<rect x="499.68" y="354.24" width="3.36" height="14.76"/>
<rect x="503.04" y="357.93" width="3.36" height="11.07"/>
<rect x="506.40" y="363.83" width="3.36" height="5.17"/>
<rect x="509.76" y="366.05" width="3.36" height="2.95"/>
</g>
<path d="M408.0,208.0 V377.3 H518.6" fill="none" stroke="#6e6e6e" stroke-width="1.3"/>
<line x1="405.8" x2="408.0" y1="369.00" y2="369.00" stroke="#555" stroke-width="0.8"/>
<text x="404.60" y="371.90" font-size="8.40" text-anchor="end" font-weight="normal" fill="#555" >0</text>
<line x1="405.8" x2="408.0" y1="332.10" y2="332.10" stroke="#555" stroke-width="0.8"/>
<text x="404.60" y="335.00" font-size="8.40" text-anchor="end" font-weight="normal" fill="#555" >100</text>
<line x1="405.8" x2="408.0" y1="295.20" y2="295.20" stroke="#555" stroke-width="0.8"/>
<text x="404.60" y="298.10" font-size="8.40" text-anchor="end" font-weight="normal" fill="#555" >200</text>
<line x1="405.8" x2="408.0" y1="258.30" y2="258.30" stroke="#555" stroke-width="0.8"/>
<text x="404.60" y="261.20" font-size="8.40" text-anchor="end" font-weight="normal" fill="#555" >300</text>
<line x1="405.8" x2="408.0" y1="221.40" y2="221.40" stroke="#555" stroke-width="0.8"/>
<text x="404.60" y="224.30" font-size="8.40" text-anchor="end" font-weight="normal" fill="#555" >400</text>
<line x1="414.00" x2="414.00" y1="377.3" y2="379.3" stroke="#555" stroke-width="0.8"/>
<text x="414.00" y="386.30" font-size="8.60" text-anchor="middle" font-weight="normal" fill="#555" >0</text>
<line x1="424.83" x2="424.83" y1="377.3" y2="379.3" stroke="#555" stroke-width="0.8"/>
<text x="424.83" y="386.30" font-size="8.60" text-anchor="middle" font-weight="normal" fill="#555" >10</text>
<line x1="435.66" x2="435.66" y1="377.3" y2="379.3" stroke="#555" stroke-width="0.8"/>
<text x="435.66" y="386.30" font-size="8.60" text-anchor="middle" font-weight="normal" fill="#555" >20</text>
<line x1="446.49" x2="446.49" y1="377.3" y2="379.3" stroke="#555" stroke-width="0.8"/>
<text x="446.49" y="386.30" font-size="8.60" text-anchor="middle" font-weight="normal" fill="#555" >30</text>
<line x1="457.32" x2="457.32" y1="377.3" y2="379.3" stroke="#555" stroke-width="0.8"/>
<text x="457.32" y="386.30" font-size="8.60" text-anchor="middle" font-weight="normal" fill="#555" >40</text>
<line x1="468.15" x2="468.15" y1="377.3" y2="379.3" stroke="#555" stroke-width="0.8"/>
<text x="468.15" y="386.30" font-size="8.60" text-anchor="middle" font-weight="normal" fill="#555" >50</text>
<line x1="478.98" x2="478.98" y1="377.3" y2="379.3" stroke="#555" stroke-width="0.8"/>
<text x="478.98" y="386.30" font-size="8.60" text-anchor="middle" font-weight="normal" fill="#555" >60</text>
<line x1="489.81" x2="489.81" y1="377.3" y2="379.3" stroke="#555" stroke-width="0.8"/>
<text x="489.81" y="386.30" font-size="8.60" text-anchor="middle" font-weight="normal" fill="#555" >70</text>
<line x1="500.64" x2="500.64" y1="377.3" y2="379.3" stroke="#555" stroke-width="0.8"/>
<text x="500.64" y="386.30" font-size="8.60" text-anchor="middle" font-weight="normal" fill="#555" >80</text>
<line x1="511.47" x2="511.47" y1="377.3" y2="379.3" stroke="#555" stroke-width="0.8"/>
<text x="511.47" y="386.30" font-size="8.60" text-anchor="middle" font-weight="normal" fill="#555" >90</text>
<text x="388.30" y="288.90" font-size="10.30" text-anchor="middle" font-weight="normal" fill="#222" transform="rotate(-90 388.30 288.90)" >Frequency</text>
<text x="467.00" y="397.00" font-size="9.60" text-anchor="middle" font-weight="normal" fill="#222" >Age</text>
<rect x="527.5" y="256.40" width="7.4" height="8.4" fill="#a6dcce"/>
<text x="541.30" y="263.90" font-size="9.40" text-anchor="start" font-weight="normal" fill="#222" >dHCP</text>
<rect x="527.5" y="265.13" width="7.4" height="8.4" fill="#fcc0ab"/>
<text x="541.30" y="272.63" font-size="9.40" text-anchor="start" font-weight="normal" fill="#222" >BCP</text>
<rect x="527.5" y="273.86" width="7.4" height="8.4" fill="#bcc8e3"/>
<text x="541.30" y="281.36" font-size="9.40" text-anchor="start" font-weight="normal" fill="#222" >CALM</text>
<rect x="527.5" y="282.59" width="7.4" height="8.4" fill="#f0bbdc"/>
<text x="541.30" y="290.09" font-size="9.40" text-anchor="start" font-weight="normal" fill="#222" >RED</text>
<rect x="527.5" y="291.32" width="7.4" height="8.4" fill="#cde7a0"/>
<text x="541.30" y="298.82" font-size="9.40" text-anchor="start" font-weight="normal" fill="#222" >ACE</text>
<rect x="527.5" y="300.05" width="7.4" height="8.4" fill="#ffe98c"/>
<text x="541.30" y="307.55" font-size="9.40" text-anchor="start" font-weight="normal" fill="#222" >HCPd</text>
<rect x="527.5" y="308.78" width="7.4" height="8.4" fill="#f0dfc6"/>
<text x="541.30" y="316.28" font-size="9.40" text-anchor="start" font-weight="normal" fill="#222" >HCPya</text>
<rect x="527.5" y="317.51" width="7.4" height="8.4" fill="#d6d6d6"/>
<text x="541.30" y="325.01" font-size="9.40" text-anchor="start" font-weight="normal" fill="#222" >camCAN</text>
<rect x="527.5" y="326.24" width="7.4" height="8.4" fill="#fdd0a5"/>
<text x="541.30" y="333.74" font-size="9.40" text-anchor="start" font-weight="normal" fill="#222" >HCPa</text>
</g>
<g id="thresh">
<text x="710.60" y="197.30" font-size="7.20" text-anchor="middle" font-weight="normal" fill="#222" >Variable Density</text>
<path d="M681.4,199.7 V278.4 H743.6" fill="none" stroke="#b4b4b4" stroke-width="0.9"/>
<line x1="679.8" x2="681.4" y1="270.10" y2="270.10" stroke="#b4b4b4" stroke-width="0.7"/>
<text x="679.00" y="272.70" font-size="7.50" text-anchor="end" font-weight="normal" fill="#333" >11</text>
<line x1="679.8" x2="681.4" y1="250.00" y2="250.00" stroke="#b4b4b4" stroke-width="0.7"/>
<text x="679.00" y="252.60" font-size="7.50" text-anchor="end" font-weight="normal" fill="#333" >12</text>
<line x1="679.8" x2="681.4" y1="229.90" y2="229.90" stroke="#b4b4b4" stroke-width="0.7"/>
<text x="679.00" y="232.50" font-size="7.50" text-anchor="end" font-weight="normal" fill="#333" >13</text>
<line x1="679.8" x2="681.4" y1="209.80" y2="209.80" stroke="#b4b4b4" stroke-width="0.7"/>
<text x="679.00" y="212.40" font-size="7.50" text-anchor="end" font-weight="normal" fill="#333" >14</text>
<line x1="683.40" x2="683.40" y1="278.4" y2="280.0" stroke="#b4b4b4" stroke-width="0.7"/>
<text x="683.40" y="285.90" font-size="7.60" text-anchor="middle" font-weight="normal" fill="#333" >0</text>
<line x1="683.40" x2="683.40" y1="396.9" y2="398.5" stroke="#b4b4b4" stroke-width="0.7"/>
<text x="683.40" y="405.20" font-size="7.60" text-anchor="middle" font-weight="normal" fill="#333" >0</text>
<line x1="702.20" x2="702.20" y1="278.4" y2="280.0" stroke="#b4b4b4" stroke-width="0.7"/>
<text x="702.20" y="285.90" font-size="7.60" text-anchor="middle" font-weight="normal" fill="#333" >30</text>
<line x1="702.20" x2="702.20" y1="396.9" y2="398.5" stroke="#b4b4b4" stroke-width="0.7"/>
<text x="702.20" y="405.20" font-size="7.60" text-anchor="middle" font-weight="normal" fill="#333" >30</text>
<line x1="721.00" x2="721.00" y1="278.4" y2="280.0" stroke="#b4b4b4" stroke-width="0.7"/>
<text x="721.00" y="285.90" font-size="7.60" text-anchor="middle" font-weight="normal" fill="#333" >60</text>
<line x1="721.00" x2="721.00" y1="396.9" y2="398.5" stroke="#b4b4b4" stroke-width="0.7"/>
<text x="721.00" y="405.20" font-size="7.60" text-anchor="middle" font-weight="normal" fill="#333" >60</text>
<line x1="739.80" x2="739.80" y1="278.4" y2="280.0" stroke="#b4b4b4" stroke-width="0.7"/>
<text x="739.80" y="285.90" font-size="7.60" text-anchor="middle" font-weight="normal" fill="#333" >90</text>
<line x1="739.80" x2="739.80" y1="396.9" y2="398.5" stroke="#b4b4b4" stroke-width="0.7"/>
<text x="739.80" y="405.20" font-size="7.60" text-anchor="middle" font-weight="normal" fill="#333" >90</text>
<text x="710.80" y="292.60" font-size="7.80" text-anchor="middle" font-weight="normal" fill="#222" >Age</text>
<text x="667.00" y="239.90" font-size="7.00" text-anchor="middle" font-weight="normal" fill="#222" transform="rotate(-90 667.00 239.90)" >Density</text>
<path d="M683.40,201.70 C683.60,202.92 684.13,205.12 684.60,209.00 C685.07,212.88 685.60,218.83 686.20,225.00 C686.80,231.17 687.52,239.50 688.20,246.00 C688.88,252.50 689.70,259.67 690.30,264.00 C690.90,268.33 691.35,270.18 691.80,272.00 C692.25,273.82 692.58,274.70 693.00,274.90 C693.42,275.10 693.80,275.02 694.30,273.20 C694.80,271.38 695.38,268.37 696.00,264.00 C696.62,259.63 697.33,252.83 698.00,247.00 C698.67,241.17 699.40,233.75 700.00,229.00 C700.60,224.25 701.08,220.88 701.60,218.50 C702.12,216.12 702.62,214.87 703.10,214.70 C703.58,214.53 704.02,215.62 704.50,217.50 C704.98,219.38 705.47,222.58 706.00,226.00 C706.53,229.42 707.20,234.75 707.70,238.00 C708.20,241.25 708.62,243.73 709.00,245.50 C709.38,247.27 709.67,248.28 710.00,248.60 C710.33,248.92 710.58,248.75 711.00,247.40 C711.42,246.05 711.97,243.07 712.50,240.50 C713.03,237.93 713.73,233.88 714.20,232.00 C714.67,230.12 714.98,229.77 715.30,229.20 C715.62,228.63 715.78,228.53 716.10,228.60 C716.42,228.67 716.75,228.78 717.20,229.60 C717.65,230.42 718.20,231.85 718.80,233.50 C719.40,235.15 720.10,237.70 720.80,239.50 C721.50,241.30 722.33,243.13 723.00,244.30 C723.67,245.47 724.25,246.03 724.80,246.50 C725.35,246.97 725.60,247.02 726.30,247.10 C727.00,247.18 727.88,247.10 729.00,247.00 C730.12,246.90 731.75,246.67 733.00,246.50 C734.25,246.33 735.37,246.13 736.50,246.00 C737.63,245.87 739.25,245.75 739.80,245.70" fill="none" stroke="#222" stroke-width="1.1" stroke-linejoin="round"/>
<text x="710.50" y="313.60" font-size="7.20" text-anchor="middle" font-weight="normal" fill="#222" >Density-controlled</text>
<path d="M681.4,316.7 V396.9 H743.6" fill="none" stroke="#b4b4b4" stroke-width="0.9"/>
<line x1="679.8" x2="681.4" y1="357.2" y2="357.2" stroke="#b4b4b4" stroke-width="0.7"/>
<text x="679.00" y="359.80" font-size="7.50" text-anchor="end" font-weight="normal" fill="#333" >10</text>
<line x1="683.4" x2="739.8" y1="357.2" y2="357.2" stroke="#222" stroke-width="1.1"/>
<text x="667.00" y="357.00" font-size="7.00" text-anchor="middle" font-weight="normal" fill="#222" transform="rotate(-90 667.00 357.00)" >Density</text>
<text x="710.80" y="413.60" font-size="7.80" text-anchor="middle" font-weight="normal" fill="#222" >Age</text>
</g>
<g id="atlas">
<clipPath id="cl1"><path d="M222.40,217.40 C220.80,217.40 219.04,217.53 217.60,217.98 C216.16,218.43 214.84,219.10 213.76,220.10 C212.68,221.10 211.68,222.61 211.12,223.96 C210.56,225.31 210.36,226.79 210.40,228.21 C210.44,229.62 210.80,231.26 211.36,232.45 C211.92,233.64 212.84,234.67 213.76,235.35 C214.68,236.02 215.92,236.67 216.88,236.51 C217.84,236.35 218.60,235.38 219.52,234.38 C220.44,233.39 221.44,230.52 222.40,230.52 C223.36,230.52 224.36,233.39 225.28,234.38 C226.20,235.38 226.96,236.35 227.92,236.51 C228.88,236.67 230.12,236.02 231.04,235.35 C231.96,234.67 232.88,233.64 233.44,232.45 C234.00,231.26 234.36,229.62 234.40,228.21 C234.44,226.79 234.24,225.31 233.68,223.96 C233.12,222.61 232.12,221.10 231.04,220.10 C229.96,219.10 228.64,218.43 227.20,217.98 C225.76,217.53 224.00,217.40 222.40,217.40Z"/></clipPath>
<g filter="url(#blurA)">
<path d="M222.40,217.40 C220.80,217.40 219.04,217.53 217.60,217.98 C216.16,218.43 214.84,219.10 213.76,220.10 C212.68,221.10 211.68,222.61 211.12,223.96 C210.56,225.31 210.36,226.79 210.40,228.21 C210.44,229.62 210.80,231.26 211.36,232.45 C211.92,233.64 212.84,234.67 213.76,235.35 C214.68,236.02 215.92,236.67 216.88,236.51 C217.84,236.35 218.60,235.38 219.52,234.38 C220.44,233.39 221.44,230.52 222.40,230.52 C223.36,230.52 224.36,233.39 225.28,234.38 C226.20,235.38 226.96,236.35 227.92,236.51 C228.88,236.67 230.12,236.02 231.04,235.35 C231.96,234.67 232.88,233.64 233.44,232.45 C234.00,231.26 234.36,229.62 234.40,228.21 C234.44,226.79 234.24,225.31 233.68,223.96 C233.12,222.61 232.12,221.10 231.04,220.10 C229.96,219.10 228.64,218.43 227.20,217.98 C225.76,217.53 224.00,217.40 222.40,217.40Z" fill="#bdbdc2" stroke="#808084" stroke-width="0.8"/>
<g clip-path="url(#cl1)">
<polygon points="210.40,226.66 219.04,226.66 219.04,236.70 210.40,236.70" fill="#dca6e2"/>
<polygon points="225.76,226.66 234.40,226.66 234.40,236.70 225.76,236.70" fill="#dca6e2"/>
<polygon points="210.40,221.65 214.24,219.72 217.60,225.12 215.20,227.05 210.40,227.05" fill="#f0702e"/>
<polygon points="234.40,221.65 230.56,219.72 227.20,225.12 229.60,227.05 234.40,227.05" fill="#f0702e"/>
<polygon points="213.28,220.10 220.00,217.01 220.48,223.19 217.60,225.51" fill="#f5b324"/>
<polygon points="231.52,220.10 224.80,217.01 224.32,223.19 227.20,225.51" fill="#f5c030"/>
<polygon points="220.00,217.01 223.84,217.01 223.36,222.80 220.48,222.80" fill="#f03c98"/>
<ellipse cx="221.92" cy="225.12" rx="3.36" ry="2.51" fill="#72d23e"/>
<ellipse cx="215.68" cy="227.05" rx="1.20" ry="0.87" fill="#c8c8cc"/>
<ellipse cx="228.64" cy="227.05" rx="1.20" ry="0.87" fill="#c8c8cc"/>
<ellipse cx="220.00" cy="230.14" rx="1.44" ry="1.16" fill="#b8a0e0"/>
<ellipse cx="224.80" cy="230.14" rx="1.44" ry="1.16" fill="#b8a0e0"/>
<ellipse cx="217.60" cy="232.84" rx="2.40" ry="1.35" fill="#72d23e" transform="rotate(-30 217.60 232.84)"/>
<ellipse cx="226.72" cy="232.84" rx="2.40" ry="1.35" fill="#c8d838" transform="rotate(30 226.72 232.84)"/>
<ellipse cx="216.88" cy="235.54" rx="2.40" ry="0.96" fill="#f0b022" transform="rotate(-25 216.88 235.54)"/>
<ellipse cx="227.92" cy="235.35" rx="2.40" ry="0.96" fill="#f0b022" transform="rotate(25 227.92 235.35)"/>
</g></g>
<clipPath id="cl2"><path d="M235.00,230.14 C235.10,228.79 235.29,227.14 235.87,225.73 C236.45,224.32 237.17,222.85 238.48,221.68 C239.78,220.51 241.86,219.35 243.70,218.74 C245.54,218.12 247.57,218.03 249.50,218.00 C251.43,217.97 253.46,218.00 255.30,218.55 C257.14,219.10 259.17,220.12 260.52,221.31 C261.87,222.51 262.84,224.38 263.42,225.73 C264.00,227.08 264.10,228.24 264.00,229.41 C263.90,230.57 263.52,231.77 262.84,232.72 C262.16,233.67 261.10,234.59 259.94,235.11 C258.78,235.63 256.94,236.06 255.88,235.85 C254.82,235.63 254.38,234.35 253.56,233.82 C252.74,233.30 252.01,232.90 250.95,232.72 C249.89,232.54 248.39,232.60 247.18,232.72 C245.97,232.84 244.76,232.97 243.70,233.46 C242.64,233.95 241.86,235.23 240.80,235.66 C239.74,236.09 238.24,236.34 237.32,236.03 C236.40,235.73 235.68,234.81 235.29,233.82 C234.90,232.84 234.90,231.49 235.00,230.14Z"/></clipPath>
<g filter="url(#blurA)">
<path d="M235.00,230.14 C235.10,228.79 235.29,227.14 235.87,225.73 C236.45,224.32 237.17,222.85 238.48,221.68 C239.78,220.51 241.86,219.35 243.70,218.74 C245.54,218.12 247.57,218.03 249.50,218.00 C251.43,217.97 253.46,218.00 255.30,218.55 C257.14,219.10 259.17,220.12 260.52,221.31 C261.87,222.51 262.84,224.38 263.42,225.73 C264.00,227.08 264.10,228.24 264.00,229.41 C263.90,230.57 263.52,231.77 262.84,232.72 C262.16,233.67 261.10,234.59 259.94,235.11 C258.78,235.63 256.94,236.06 255.88,235.85 C254.82,235.63 254.38,234.35 253.56,233.82 C252.74,233.30 252.01,232.90 250.95,232.72 C249.89,232.54 248.39,232.60 247.18,232.72 C245.97,232.84 244.76,232.97 243.70,233.46 C242.64,233.95 241.86,235.23 240.80,235.66 C239.74,236.09 238.24,236.34 237.32,236.03 C236.40,235.73 235.68,234.81 235.29,233.82 C234.90,232.84 234.90,231.49 235.00,230.14Z" fill="#8e8e92" stroke="#808084" stroke-width="0.8"/>
<g clip-path="url(#cl2)">
<polygon points="243.70,223.52 266.90,223.52 266.90,238.24 243.70,238.24" fill="#8a8a90"/>
<path d="M246.60,218.00 C247.57,218.06 250.47,218.00 252.40,218.37 C254.33,218.74 256.51,219.20 258.20,220.21 C259.89,221.22 261.58,222.97 262.55,224.44 C263.52,225.91 264.14,227.51 264.00,229.04 C263.86,230.57 262.89,232.51 261.68,233.64 C260.47,234.77 257.57,235.48 256.75,235.85" fill="none" stroke="#32d2d6" stroke-width="9.86" stroke-linecap="round"/>
<path d="M243.70,226.46 C244.18,226.00 245.25,224.26 246.60,223.70 C247.95,223.15 250.13,222.91 251.82,223.15 C253.51,223.40 255.54,224.19 256.75,225.18 C257.96,226.16 258.93,227.78 259.07,229.04 C259.21,230.30 258.35,231.80 257.62,232.72 C256.89,233.64 255.20,234.25 254.72,234.56" fill="none" stroke="#5ed43e" stroke-width="4.06" stroke-linecap="round"/>
<ellipse cx="255.30" cy="234.19" rx="2.61" ry="1.66" fill="#30d8c0"/>
<polygon points="235.58,227.20 237.90,221.31 243.70,218.00 245.73,222.60 244.57,227.20 241.96,229.04" fill="#e83242"/>
<polygon points="243.12,218.00 246.89,218.00 246.31,221.68 244.57,222.42" fill="#f03c98"/>
<polygon points="234.42,227.57 237.90,226.10 241.67,228.30 242.54,232.72 240.80,236.40 234.42,236.40" fill="#c6e040"/>
<ellipse cx="249.50" cy="229.41" rx="4.35" ry="2.21" fill="#86868c"/>
<ellipse cx="249.50" cy="229.04" rx="1.59" ry="1.10" fill="#b050e0"/>
</g></g>
<clipPath id="cl3"><path d="M276.40,213.40 C275.28,213.40 274.12,213.57 273.04,213.98 C271.96,214.38 270.92,214.89 269.92,215.85 C268.92,216.81 267.84,218.22 267.04,219.74 C266.24,221.25 265.56,223.19 265.12,224.92 C264.68,226.65 264.36,228.38 264.40,230.10 C264.44,231.83 264.72,233.75 265.36,235.29 C266.00,236.82 267.08,238.24 268.24,239.32 C269.40,240.40 270.96,241.29 272.32,241.77 C273.68,242.25 275.04,242.20 276.40,242.20 C277.76,242.20 279.12,242.25 280.48,241.77 C281.84,241.29 283.40,240.40 284.56,239.32 C285.72,238.24 286.80,236.82 287.44,235.29 C288.08,233.75 288.36,231.83 288.40,230.10 C288.44,228.38 288.12,226.65 287.68,224.92 C287.24,223.19 286.56,221.25 285.76,219.74 C284.96,218.22 283.88,216.81 282.88,215.85 C281.88,214.89 280.84,214.38 279.76,213.98 C278.68,213.57 277.52,213.40 276.40,213.40Z"/></clipPath>
<g filter="url(#blurA)">
<path d="M276.40,213.40 C275.28,213.40 274.12,213.57 273.04,213.98 C271.96,214.38 270.92,214.89 269.92,215.85 C268.92,216.81 267.84,218.22 267.04,219.74 C266.24,221.25 265.56,223.19 265.12,224.92 C264.68,226.65 264.36,228.38 264.40,230.10 C264.44,231.83 264.72,233.75 265.36,235.29 C266.00,236.82 267.08,238.24 268.24,239.32 C269.40,240.40 270.96,241.29 272.32,241.77 C273.68,242.25 275.04,242.20 276.40,242.20 C277.76,242.20 279.12,242.25 280.48,241.77 C281.84,241.29 283.40,240.40 284.56,239.32 C285.72,238.24 286.80,236.82 287.44,235.29 C288.08,233.75 288.36,231.83 288.40,230.10 C288.44,228.38 288.12,226.65 287.68,224.92 C287.24,223.19 286.56,221.25 285.76,219.74 C284.96,218.22 283.88,216.81 282.88,215.85 C281.88,214.89 280.84,214.38 279.76,213.98 C278.68,213.57 277.52,213.40 276.40,213.40Z" fill="#b8b8be" stroke="#808084" stroke-width="0.8"/>
<g clip-path="url(#cl3)">
<polygon points="264.40,224.92 288.40,224.92 288.40,238.17 264.40,238.17" fill="#dca4e4"/>
<polygon points="263.20,211.96 274.48,211.96 273.04,219.16 265.60,219.16" fill="#2b5c84"/>
<polygon points="289.60,211.96 278.32,211.96 279.76,219.16 287.20,219.16" fill="#2b5c84"/>
<polygon points="274.00,211.96 278.80,211.96 278.80,217.43 274.00,217.43" fill="#40e0a8"/>
<ellipse cx="276.40" cy="218.87" rx="2.88" ry="2.16" fill="#54d440"/>
<polygon points="263.20,218.01 270.88,217.43 270.40,224.92 263.20,226.07" fill="#3272e2"/>
<polygon points="289.60,218.01 281.92,217.43 282.40,224.92 289.60,226.07" fill="#3272e2"/>
<polygon points="269.68,220.60 272.32,219.74 272.08,226.94 269.92,226.65" fill="#4cd84a"/>
<polygon points="283.12,220.60 280.48,219.74 280.72,226.94 282.88,226.65" fill="#4cd84a"/>
<ellipse cx="285.52" cy="225.50" rx="1.92" ry="1.44" fill="#30c4e4"/>
<ellipse cx="266.80" cy="225.78" rx="1.68" ry="1.15" fill="#30c4e4"/>
<ellipse cx="274.24" cy="224.92" rx="2.40" ry="3.74" fill="#e444e2"/>
<ellipse cx="278.80" cy="224.92" rx="2.40" ry="3.74" fill="#e444e2"/>
<ellipse cx="276.40" cy="228.95" rx="4.80" ry="2.45" fill="#b064e4"/>
<path d="M270.88,231.26 C271.12,231.64 271.40,233.46 272.32,233.56 C273.24,233.66 275.04,231.83 276.40,231.83 C277.76,231.83 279.56,233.66 280.48,233.56 C281.40,233.46 281.68,231.64 281.92,231.26" fill="none" stroke="#a8a8ac" stroke-width="1.92" stroke-linecap="round"/>
<ellipse cx="276.40" cy="233.99" rx="3.36" ry="0.95" fill="#f23434"/>
<polygon points="271.60,235.00 281.20,235.00 281.68,243.64 271.12,243.64" fill="#c2e242"/>
<polygon points="266.80,237.02 272.56,236.44 274.00,243.64 266.80,243.64" fill="#f2d424"/>
<polygon points="286.00,237.02 280.24,236.44 278.80,243.64 286.00,243.64" fill="#f2d424"/>
</g></g>
<clipPath id="cl4"><path d="M214.70,249.30 C212.63,249.30 210.36,249.30 208.50,249.77 C206.64,250.25 204.94,250.96 203.54,252.14 C202.14,253.33 200.85,255.19 200.13,256.88 C199.41,258.58 199.20,260.44 199.20,262.33 C199.20,264.23 199.51,266.68 200.13,268.26 C200.75,269.84 201.78,271.06 202.92,271.81 C204.06,272.57 205.61,272.96 206.95,272.76 C208.29,272.57 209.69,271.38 210.98,270.63 C212.27,269.88 213.46,268.26 214.70,268.26 C215.94,268.26 217.13,269.88 218.42,270.63 C219.71,271.38 221.11,272.57 222.45,272.76 C223.79,272.96 225.34,272.57 226.48,271.81 C227.62,271.06 228.65,269.84 229.27,268.26 C229.89,266.68 230.20,264.23 230.20,262.33 C230.20,260.44 229.99,258.58 229.27,256.88 C228.55,255.19 227.25,253.33 225.86,252.14 C224.46,250.96 222.76,250.25 220.90,249.77 C219.04,249.30 216.77,249.30 214.70,249.30Z"/></clipPath>
<g filter="url(#blurA)">
<path d="M214.70,249.30 C212.63,249.30 210.36,249.30 208.50,249.77 C206.64,250.25 204.94,250.96 203.54,252.14 C202.14,253.33 200.85,255.19 200.13,256.88 C199.41,258.58 199.20,260.44 199.20,262.33 C199.20,264.23 199.51,266.68 200.13,268.26 C200.75,269.84 201.78,271.06 202.92,271.81 C204.06,272.57 205.61,272.96 206.95,272.76 C208.29,272.57 209.69,271.38 210.98,270.63 C212.27,269.88 213.46,268.26 214.70,268.26 C215.94,268.26 217.13,269.88 218.42,270.63 C219.71,271.38 221.11,272.57 222.45,272.76 C223.79,272.96 225.34,272.57 226.48,271.81 C227.62,271.06 228.65,269.84 229.27,268.26 C229.89,266.68 230.20,264.23 230.20,262.33 C230.20,260.44 229.99,258.58 229.27,256.88 C228.55,255.19 227.25,253.33 225.86,252.14 C224.46,250.96 222.76,250.25 220.90,249.77 C219.04,249.30 216.77,249.30 214.70,249.30Z" fill="#bdbdc2" stroke="#808084" stroke-width="0.8"/>
<g clip-path="url(#cl4)">
<polygon points="199.20,260.68 209.74,260.68 209.74,273.00 199.20,273.00" fill="#dca6e2"/>
<polygon points="219.66,260.68 230.20,260.68 230.20,273.00 219.66,273.00" fill="#dca6e2"/>
<polygon points="199.20,255.23 203.54,254.04 207.26,259.25 205.40,261.62 199.20,261.62" fill="#f0602e"/>
<polygon points="230.20,255.23 225.86,254.04 222.14,259.25 224.00,261.62 230.20,261.62" fill="#f0602e"/>
<polygon points="201.68,253.09 206.02,250.25 210.36,256.41 207.57,259.25 204.16,256.41" fill="#f5b324"/>
<polygon points="227.72,253.09 223.38,250.25 219.04,256.41 221.83,259.25 225.24,256.41" fill="#f5b324"/>
<polygon points="205.40,250.49 211.60,248.83 212.22,254.04 209.74,255.70" fill="#2b3a98"/>
<polygon points="224.00,250.49 217.18,248.83 217.18,254.04 219.66,255.70" fill="#2b3a98"/>
<polygon points="211.60,248.83 214.70,248.83 214.70,256.41 212.22,255.94" fill="#f03c98"/>
<polygon points="214.70,249.30 217.18,249.30 217.80,256.41 214.70,256.88" fill="#34d2e0"/>
<ellipse cx="214.08" cy="258.07" rx="4.03" ry="2.37" fill="#72d23e"/>
<ellipse cx="205.40" cy="261.15" rx="1.55" ry="1.07" fill="#34c8e0"/>
<ellipse cx="223.38" cy="260.91" rx="1.55" ry="1.07" fill="#34c8e0"/>
<ellipse cx="211.60" cy="263.99" rx="2.17" ry="1.66" fill="#b255e2"/>
<ellipse cx="218.11" cy="263.99" rx="2.17" ry="1.66" fill="#b255e2"/>
<ellipse cx="209.43" cy="267.31" rx="2.64" ry="1.18" fill="#72d23e"/>
<ellipse cx="218.42" cy="267.07" rx="2.48" ry="1.07" fill="#c8d838"/>
<ellipse cx="207.88" cy="270.63" rx="3.41" ry="1.18" fill="#f0b022" transform="rotate(-25 207.88 270.63)"/>
<ellipse cx="221.21" cy="270.16" rx="3.41" ry="1.18" fill="#f0b022" transform="rotate(25 221.21 270.16)"/>
<ellipse cx="201.68" cy="270.63" rx="2.48" ry="2.37" fill="#e9e0ea"/>
<ellipse cx="227.10" cy="270.16" rx="2.17" ry="1.90" fill="#efe8ef"/>
</g></g>
<clipPath id="cl5"><path d="M231.20,265.44 C231.32,263.68 231.57,261.52 232.30,259.68 C233.04,257.84 233.96,255.92 235.62,254.40 C237.27,252.88 239.91,251.36 242.24,250.56 C244.57,249.76 247.15,249.64 249.60,249.60 C252.05,249.56 254.63,249.60 256.96,250.32 C259.29,251.04 261.87,252.36 263.58,253.92 C265.30,255.48 266.53,257.92 267.26,259.68 C268.00,261.44 268.12,262.96 268.00,264.48 C267.88,266.00 267.39,267.56 266.53,268.80 C265.67,270.04 264.32,271.24 262.85,271.92 C261.38,272.60 259.05,273.16 257.70,272.88 C256.35,272.60 255.79,270.92 254.75,270.24 C253.71,269.56 252.79,269.04 251.44,268.80 C250.09,268.56 248.19,268.64 246.66,268.80 C245.12,268.96 243.59,269.12 242.24,269.76 C240.89,270.40 239.91,272.08 238.56,272.64 C237.21,273.20 235.31,273.52 234.14,273.12 C232.98,272.72 232.06,271.52 231.57,270.24 C231.08,268.96 231.08,267.20 231.20,265.44Z"/></clipPath>
<g filter="url(#blurA)">
<path d="M231.20,265.44 C231.32,263.68 231.57,261.52 232.30,259.68 C233.04,257.84 233.96,255.92 235.62,254.40 C237.27,252.88 239.91,251.36 242.24,250.56 C244.57,249.76 247.15,249.64 249.60,249.60 C252.05,249.56 254.63,249.60 256.96,250.32 C259.29,251.04 261.87,252.36 263.58,253.92 C265.30,255.48 266.53,257.92 267.26,259.68 C268.00,261.44 268.12,262.96 268.00,264.48 C267.88,266.00 267.39,267.56 266.53,268.80 C265.67,270.04 264.32,271.24 262.85,271.92 C261.38,272.60 259.05,273.16 257.70,272.88 C256.35,272.60 255.79,270.92 254.75,270.24 C253.71,269.56 252.79,269.04 251.44,268.80 C250.09,268.56 248.19,268.64 246.66,268.80 C245.12,268.96 243.59,269.12 242.24,269.76 C240.89,270.40 239.91,272.08 238.56,272.64 C237.21,273.20 235.31,273.52 234.14,273.12 C232.98,272.72 232.06,271.52 231.57,270.24 C231.08,268.96 231.08,267.20 231.20,265.44Z" fill="#8e8e92" stroke="#808084" stroke-width="0.8"/>
<g clip-path="url(#cl5)">
<polygon points="242.24,256.80 271.68,256.80 271.68,276.00 242.24,276.00" fill="#8a8a90"/>
<path d="M245.92,249.60 C247.15,249.68 250.83,249.60 253.28,250.08 C255.73,250.56 258.49,251.16 260.64,252.48 C262.79,253.80 264.93,256.08 266.16,258.00 C267.39,259.92 268.18,262.00 268.00,264.00 C267.82,266.00 266.59,268.52 265.06,270.00 C263.52,271.48 259.84,272.40 258.80,272.88" fill="none" stroke="#32d2d6" stroke-width="12.51" stroke-linecap="round"/>
<path d="M242.24,260.64 C242.85,260.04 244.20,257.76 245.92,257.04 C247.64,256.32 250.40,256.00 252.54,256.32 C254.69,256.64 257.27,257.68 258.80,258.96 C260.33,260.24 261.56,262.36 261.74,264.00 C261.93,265.64 260.82,267.60 259.90,268.80 C258.98,270.00 256.84,270.80 256.22,271.20" fill="none" stroke="#5ed43e" stroke-width="5.15" stroke-linecap="round"/>
<ellipse cx="256.96" cy="270.72" rx="3.31" ry="2.16" fill="#30d8c0"/>
<polygon points="231.94,261.60 234.88,253.92 242.24,249.60 244.82,255.60 243.34,261.60 240.03,264.00" fill="#e83242"/>
<polygon points="241.50,249.60 246.29,249.60 245.55,254.40 243.34,255.36" fill="#f03c98"/>
<polygon points="230.46,262.08 234.88,260.16 239.66,263.04 240.77,268.80 238.56,273.60 230.46,273.60" fill="#c6e040"/>
<ellipse cx="249.60" cy="264.48" rx="5.52" ry="2.88" fill="#86868c"/>
<ellipse cx="249.60" cy="264.00" rx="2.02" ry="1.44" fill="#b050e0"/>
</g></g>
<clipPath id="cl6"><path d="M283.40,243.70 C282.02,243.70 280.59,243.92 279.26,244.46 C277.92,245.01 276.64,245.67 275.41,246.95 C274.17,248.22 272.84,250.10 271.86,252.10 C270.87,254.11 270.03,256.69 269.49,258.98 C268.95,261.27 268.55,263.56 268.60,265.86 C268.65,268.15 268.99,270.69 269.78,272.73 C270.57,274.77 271.91,276.65 273.34,278.08 C274.77,279.51 276.69,280.69 278.37,281.33 C280.05,281.96 281.72,281.90 283.40,281.90 C285.08,281.90 286.75,281.96 288.43,281.33 C290.11,280.69 292.03,279.51 293.46,278.08 C294.89,276.65 296.23,274.77 297.02,272.73 C297.81,270.69 298.15,268.15 298.20,265.86 C298.25,263.56 297.85,261.27 297.31,258.98 C296.77,256.69 295.93,254.11 294.94,252.10 C293.96,250.10 292.63,248.22 291.39,246.95 C290.16,245.67 288.88,245.01 287.54,244.46 C286.21,243.92 284.78,243.70 283.40,243.70Z"/></clipPath>
<g filter="url(#blurA)">
<path d="M283.40,243.70 C282.02,243.70 280.59,243.92 279.26,244.46 C277.92,245.01 276.64,245.67 275.41,246.95 C274.17,248.22 272.84,250.10 271.86,252.10 C270.87,254.11 270.03,256.69 269.49,258.98 C268.95,261.27 268.55,263.56 268.60,265.86 C268.65,268.15 268.99,270.69 269.78,272.73 C270.57,274.77 271.91,276.65 273.34,278.08 C274.77,279.51 276.69,280.69 278.37,281.33 C280.05,281.96 281.72,281.90 283.40,281.90 C285.08,281.90 286.75,281.96 288.43,281.33 C290.11,280.69 292.03,279.51 293.46,278.08 C294.89,276.65 296.23,274.77 297.02,272.73 C297.81,270.69 298.15,268.15 298.20,265.86 C298.25,263.56 297.85,261.27 297.31,258.98 C296.77,256.69 295.93,254.11 294.94,252.10 C293.96,250.10 292.63,248.22 291.39,246.95 C290.16,245.67 288.88,245.01 287.54,244.46 C286.21,243.92 284.78,243.70 283.40,243.70Z" fill="#b8b8be" stroke="#808084" stroke-width="0.8"/>
<g clip-path="url(#cl6)">
<polygon points="268.60,258.98 298.20,258.98 298.20,276.55 268.60,276.55" fill="#dca4e4"/>
<polygon points="267.12,241.79 281.03,241.79 279.26,251.34 270.08,251.34" fill="#2b5c84"/>
<polygon points="299.68,241.79 285.77,241.79 287.54,251.34 296.72,251.34" fill="#2b5c84"/>
<polygon points="280.44,241.79 286.36,241.79 286.36,249.05 280.44,249.05" fill="#40e0a8"/>
<ellipse cx="283.40" cy="250.96" rx="3.55" ry="2.86" fill="#54d440"/>
<polygon points="267.12,249.81 276.59,249.05 276.00,258.98 267.12,260.51" fill="#3272e2"/>
<polygon points="299.68,249.81 290.21,249.05 290.80,258.98 299.68,260.51" fill="#3272e2"/>
<polygon points="275.11,253.25 278.37,252.10 278.07,261.65 275.41,261.27" fill="#4cd84a"/>
<polygon points="291.69,253.25 288.43,252.10 288.73,261.65 291.39,261.27" fill="#4cd84a"/>
<ellipse cx="294.65" cy="259.74" rx="2.37" ry="1.91" fill="#30c4e4"/>
<ellipse cx="271.56" cy="260.13" rx="2.07" ry="1.53" fill="#30c4e4"/>
<ellipse cx="280.74" cy="258.98" rx="2.96" ry="4.97" fill="#e444e2"/>
<ellipse cx="286.36" cy="258.98" rx="2.96" ry="4.97" fill="#e444e2"/>
<ellipse cx="283.40" cy="264.33" rx="5.92" ry="3.25" fill="#b064e4"/>
<path d="M276.59,267.38 C276.89,267.89 277.23,270.31 278.37,270.44 C279.50,270.57 281.72,268.15 283.40,268.15 C285.08,268.15 287.30,270.57 288.43,270.44 C289.57,270.31 289.91,267.89 290.21,267.38" fill="none" stroke="#a8a8ac" stroke-width="2.37" stroke-linecap="round"/>
<ellipse cx="283.40" cy="271.01" rx="4.14" ry="1.26" fill="#f23434"/>
<polygon points="277.48,272.35 289.32,272.35 289.91,283.81 276.89,283.81" fill="#c2e242"/>
<polygon points="271.56,275.02 278.66,274.26 280.44,283.81 271.56,283.81" fill="#f2d424"/>
<polygon points="295.24,275.02 288.14,274.26 286.36,283.81 295.24,283.81" fill="#f2d424"/>
</g></g>
<clipPath id="cl7"><path d="M208.00,289.60 C205.55,289.60 202.85,289.60 200.64,290.18 C198.43,290.75 196.41,291.62 194.75,293.06 C193.10,294.50 191.56,296.75 190.70,298.82 C189.85,300.88 189.60,303.14 189.60,305.44 C189.60,307.74 189.97,310.72 190.70,312.64 C191.44,314.56 192.67,316.05 194.02,316.96 C195.37,317.87 197.21,318.35 198.80,318.11 C200.39,317.87 202.05,316.43 203.58,315.52 C205.12,314.61 206.53,312.64 208.00,312.64 C209.47,312.64 210.88,314.61 212.42,315.52 C213.95,316.43 215.61,317.87 217.20,318.11 C218.79,318.35 220.63,317.87 221.98,316.96 C223.33,316.05 224.56,314.56 225.30,312.64 C226.03,310.72 226.40,307.74 226.40,305.44 C226.40,303.14 226.15,300.88 225.30,298.82 C224.44,296.75 222.90,294.50 221.25,293.06 C219.59,291.62 217.57,290.75 215.36,290.18 C213.15,289.60 210.45,289.60 208.00,289.60Z"/></clipPath>
<g filter="url(#blurA)">
<path d="M208.00,289.60 C205.55,289.60 202.85,289.60 200.64,290.18 C198.43,290.75 196.41,291.62 194.75,293.06 C193.10,294.50 191.56,296.75 190.70,298.82 C189.85,300.88 189.60,303.14 189.60,305.44 C189.60,307.74 189.97,310.72 190.70,312.64 C191.44,314.56 192.67,316.05 194.02,316.96 C195.37,317.87 197.21,318.35 198.80,318.11 C200.39,317.87 202.05,316.43 203.58,315.52 C205.12,314.61 206.53,312.64 208.00,312.64 C209.47,312.64 210.88,314.61 212.42,315.52 C213.95,316.43 215.61,317.87 217.20,318.11 C218.79,318.35 220.63,317.87 221.98,316.96 C223.33,316.05 224.56,314.56 225.30,312.64 C226.03,310.72 226.40,307.74 226.40,305.44 C226.40,303.14 226.15,300.88 225.30,298.82 C224.44,296.75 222.90,294.50 221.25,293.06 C219.59,291.62 217.57,290.75 215.36,290.18 C213.15,289.60 210.45,289.60 208.00,289.60Z" fill="#bdbdc2" stroke="#808084" stroke-width="0.8"/>
<g clip-path="url(#cl7)">
<polygon points="189.60,303.42 202.11,303.42 202.11,318.40 189.60,318.40" fill="#dca6e2"/>
<polygon points="213.89,303.42 226.40,303.42 226.40,318.40 213.89,318.40" fill="#dca6e2"/>
<polygon points="189.60,296.80 194.75,295.36 199.17,301.70 196.96,304.58 189.60,304.58" fill="#f0602e"/>
<polygon points="226.40,296.80 221.25,295.36 216.83,301.70 219.04,304.58 226.40,304.58" fill="#f0602e"/>
<polygon points="192.54,294.21 197.70,290.75 202.85,298.24 199.54,301.70 195.49,298.24" fill="#f5b324"/>
<polygon points="223.46,294.21 218.30,290.75 213.15,298.24 216.46,301.70 220.51,298.24" fill="#f5b324"/>
<polygon points="196.96,291.04 204.32,289.02 205.06,295.36 202.11,297.38" fill="#2b3a98"/>
<polygon points="219.04,291.04 210.94,289.02 210.94,295.36 213.89,297.38" fill="#2b3a98"/>
<polygon points="204.32,289.02 208.00,289.02 208.00,298.24 205.06,297.66" fill="#f03c98"/>
<polygon points="208.00,289.60 210.94,289.60 211.68,298.24 208.00,298.82" fill="#34d2e0"/>
<ellipse cx="207.26" cy="300.26" rx="4.78" ry="2.88" fill="#72d23e"/>
<ellipse cx="196.96" cy="304.00" rx="1.84" ry="1.30" fill="#34c8e0"/>
<ellipse cx="218.30" cy="303.71" rx="1.84" ry="1.30" fill="#34c8e0"/>
<ellipse cx="204.32" cy="307.46" rx="2.58" ry="2.02" fill="#b255e2"/>
<ellipse cx="212.05" cy="307.46" rx="2.58" ry="2.02" fill="#b255e2"/>
<ellipse cx="201.74" cy="311.49" rx="3.13" ry="1.44" fill="#72d23e"/>
<ellipse cx="212.42" cy="311.20" rx="2.94" ry="1.30" fill="#c8d838"/>
<ellipse cx="199.90" cy="315.52" rx="4.05" ry="1.44" fill="#f0b022" transform="rotate(-25 199.90 315.52)"/>
<ellipse cx="215.73" cy="314.94" rx="4.05" ry="1.44" fill="#f0b022" transform="rotate(25 215.73 314.94)"/>
<ellipse cx="192.54" cy="315.52" rx="2.94" ry="2.88" fill="#e9e0ea"/>
<ellipse cx="222.72" cy="314.94" rx="2.58" ry="2.30" fill="#efe8ef"/>
</g></g>
<clipPath id="cl8"><path d="M227.40,308.87 C227.55,306.73 227.84,304.10 228.73,301.86 C229.61,299.63 230.72,297.29 232.70,295.44 C234.69,293.59 237.86,291.74 240.66,290.77 C243.46,289.79 246.55,289.65 249.50,289.60 C252.45,289.55 255.54,289.60 258.34,290.48 C261.14,291.35 264.23,292.96 266.30,294.86 C268.36,296.75 269.83,299.72 270.72,301.86 C271.60,304.01 271.75,305.85 271.60,307.70 C271.45,309.55 270.86,311.45 269.83,312.96 C268.80,314.47 267.18,315.93 265.41,316.76 C263.64,317.58 260.84,318.26 259.22,317.92 C257.60,317.58 256.94,315.54 255.69,314.71 C254.44,313.88 253.33,313.25 251.71,312.96 C250.09,312.67 247.81,312.77 245.96,312.96 C244.12,313.15 242.28,313.35 240.66,314.13 C239.04,314.91 237.86,316.95 236.24,317.63 C234.62,318.31 232.34,318.70 230.94,318.22 C229.54,317.73 228.43,316.27 227.84,314.71 C227.25,313.15 227.25,311.01 227.40,308.87Z"/></clipPath>
<g filter="url(#blurA)">
<path d="M227.40,308.87 C227.55,306.73 227.84,304.10 228.73,301.86 C229.61,299.63 230.72,297.29 232.70,295.44 C234.69,293.59 237.86,291.74 240.66,290.77 C243.46,289.79 246.55,289.65 249.50,289.60 C252.45,289.55 255.54,289.60 258.34,290.48 C261.14,291.35 264.23,292.96 266.30,294.86 C268.36,296.75 269.83,299.72 270.72,301.86 C271.60,304.01 271.75,305.85 271.60,307.70 C271.45,309.55 270.86,311.45 269.83,312.96 C268.80,314.47 267.18,315.93 265.41,316.76 C263.64,317.58 260.84,318.26 259.22,317.92 C257.60,317.58 256.94,315.54 255.69,314.71 C254.44,313.88 253.33,313.25 251.71,312.96 C250.09,312.67 247.81,312.77 245.96,312.96 C244.12,313.15 242.28,313.35 240.66,314.13 C239.04,314.91 237.86,316.95 236.24,317.63 C234.62,318.31 232.34,318.70 230.94,318.22 C229.54,317.73 228.43,316.27 227.84,314.71 C227.25,313.15 227.25,311.01 227.40,308.87Z" fill="#8e8e92" stroke="#808084" stroke-width="0.8"/>
<g clip-path="url(#cl8)">
<polygon points="240.66,298.36 276.02,298.36 276.02,321.72 240.66,321.72" fill="#8a8a90"/>
<path d="M245.08,289.60 C246.55,289.70 250.97,289.60 253.92,290.18 C256.87,290.77 260.18,291.50 262.76,293.10 C265.34,294.71 267.92,297.48 269.39,299.82 C270.86,302.16 271.82,304.69 271.60,307.12 C271.38,309.55 269.91,312.62 268.06,314.42 C266.22,316.22 261.80,317.34 260.55,317.92" fill="none" stroke="#32d2d6" stroke-width="15.03" stroke-linecap="round"/>
<path d="M240.66,303.03 C241.40,302.30 243.02,299.53 245.08,298.65 C247.14,297.78 250.46,297.39 253.04,297.78 C255.61,298.17 258.71,299.43 260.55,300.99 C262.39,302.55 263.87,305.12 264.09,307.12 C264.31,309.12 262.98,311.50 261.88,312.96 C260.77,314.42 258.19,315.39 257.46,315.88" fill="none" stroke="#5ed43e" stroke-width="6.19" stroke-linecap="round"/>
<ellipse cx="258.34" cy="315.30" rx="3.98" ry="2.63" fill="#30d8c0"/>
<polygon points="228.28,304.20 231.82,294.86 240.66,289.60 243.75,296.90 241.99,304.20 238.01,307.12" fill="#e83242"/>
<polygon points="239.78,289.60 245.52,289.60 244.64,295.44 241.99,296.61" fill="#f03c98"/>
<polygon points="226.52,304.78 231.82,302.45 237.57,305.95 238.89,312.96 236.24,318.80 226.52,318.80" fill="#c6e040"/>
<ellipse cx="249.50" cy="307.70" rx="6.63" ry="3.50" fill="#86868c"/>
<ellipse cx="249.50" cy="307.12" rx="2.43" ry="1.75" fill="#b050e0"/>
</g></g>
<clipPath id="cl9"><path d="M290.85,283.60 C289.12,283.60 287.33,283.86 285.66,284.48 C283.99,285.11 282.38,285.88 280.83,287.36 C279.29,288.83 277.62,291.00 276.38,293.32 C275.14,295.64 274.09,298.63 273.41,301.28 C272.73,303.93 272.24,306.58 272.30,309.24 C272.36,311.89 272.79,314.83 273.78,317.19 C274.77,319.55 276.44,321.72 278.24,323.38 C280.03,325.04 282.44,326.40 284.54,327.14 C286.65,327.87 288.75,327.80 290.85,327.80 C292.95,327.80 295.05,327.87 297.16,327.14 C299.26,326.40 301.67,325.04 303.46,323.38 C305.26,321.72 306.93,319.55 307.92,317.19 C308.91,314.83 309.34,311.89 309.40,309.24 C309.46,306.58 308.97,303.93 308.29,301.28 C307.61,298.63 306.56,295.64 305.32,293.32 C304.08,291.00 302.41,288.83 300.87,287.36 C299.32,285.88 297.71,285.11 296.04,284.48 C294.37,283.86 292.58,283.60 290.85,283.60Z"/></clipPath>
<g filter="url(#blurA)">
<path d="M290.85,283.60 C289.12,283.60 287.33,283.86 285.66,284.48 C283.99,285.11 282.38,285.88 280.83,287.36 C279.29,288.83 277.62,291.00 276.38,293.32 C275.14,295.64 274.09,298.63 273.41,301.28 C272.73,303.93 272.24,306.58 272.30,309.24 C272.36,311.89 272.79,314.83 273.78,317.19 C274.77,319.55 276.44,321.72 278.24,323.38 C280.03,325.04 282.44,326.40 284.54,327.14 C286.65,327.87 288.75,327.80 290.85,327.80 C292.95,327.80 295.05,327.87 297.16,327.14 C299.26,326.40 301.67,325.04 303.46,323.38 C305.26,321.72 306.93,319.55 307.92,317.19 C308.91,314.83 309.34,311.89 309.40,309.24 C309.46,306.58 308.97,303.93 308.29,301.28 C307.61,298.63 306.56,295.64 305.32,293.32 C304.08,291.00 302.41,288.83 300.87,287.36 C299.32,285.88 297.71,285.11 296.04,284.48 C294.37,283.86 292.58,283.60 290.85,283.60Z" fill="#b8b8be" stroke="#808084" stroke-width="0.8"/>
<g clip-path="url(#cl9)">
<polygon points="272.30,301.28 309.40,301.28 309.40,321.61 272.30,321.61" fill="#dca4e4"/>
<polygon points="270.44,281.39 287.88,281.39 285.66,292.44 274.16,292.44" fill="#2b5c84"/>
<polygon points="311.25,281.39 293.82,281.39 296.04,292.44 307.54,292.44" fill="#2b5c84"/>
<polygon points="287.14,281.39 294.56,281.39 294.56,289.79 287.14,289.79" fill="#40e0a8"/>
<ellipse cx="290.85" cy="292.00" rx="4.45" ry="3.31" fill="#54d440"/>
<polygon points="270.44,290.67 282.32,289.79 281.57,301.28 270.44,303.05" fill="#3272e2"/>
<polygon points="311.25,290.67 299.38,289.79 300.12,301.28 311.25,303.05" fill="#3272e2"/>
<polygon points="280.46,294.65 284.54,293.32 284.17,304.37 280.83,303.93" fill="#4cd84a"/>
<polygon points="301.24,294.65 297.16,293.32 297.53,304.37 300.87,303.93" fill="#4cd84a"/>
<ellipse cx="304.95" cy="302.16" rx="2.97" ry="2.21" fill="#30c4e4"/>
<ellipse cx="276.01" cy="302.61" rx="2.60" ry="1.77" fill="#30c4e4"/>
<ellipse cx="287.51" cy="301.28" rx="3.71" ry="5.75" fill="#e444e2"/>
<ellipse cx="294.56" cy="301.28" rx="3.71" ry="5.75" fill="#e444e2"/>
<ellipse cx="290.85" cy="307.47" rx="7.42" ry="3.76" fill="#b064e4"/>
<path d="M282.32,311.00 C282.69,311.59 283.12,314.39 284.54,314.54 C285.97,314.69 288.75,311.89 290.85,311.89 C292.95,311.89 295.73,314.69 297.16,314.54 C298.58,314.39 299.01,311.59 299.38,311.00" fill="none" stroke="#a8a8ac" stroke-width="2.97" stroke-linecap="round"/>
<ellipse cx="290.85" cy="315.20" rx="5.19" ry="1.46" fill="#f23434"/>
<polygon points="283.43,316.75 298.27,316.75 299.01,330.01 282.69,330.01" fill="#c2e242"/>
<polygon points="276.01,319.84 284.91,318.96 287.14,330.01 276.01,330.01" fill="#f2d424"/>
<polygon points="305.69,319.84 296.79,318.96 294.56,330.01 305.69,330.01" fill="#f2d424"/>
</g></g>
<clipPath id="cl10"><path d="M206.90,339.80 C205.83,339.80 205.56,336.25 203.68,336.00 C201.81,335.75 198.06,336.51 195.64,338.28 C193.23,340.05 190.69,343.54 189.21,346.64 C187.74,349.74 187.00,353.61 186.80,356.90 C186.60,360.19 187.00,364.25 188.01,366.40 C189.01,368.55 191.02,369.44 192.83,369.82 C194.64,370.20 197.32,368.30 198.86,368.68 C200.40,369.06 201.07,371.21 202.08,372.10 C203.08,372.99 203.75,373.68 204.89,374.00 C206.03,374.32 207.77,374.32 208.91,374.00 C210.05,373.68 210.72,372.99 211.72,372.10 C212.73,371.21 213.40,369.06 214.94,368.68 C216.48,368.30 219.16,370.20 220.97,369.82 C222.78,369.44 224.79,368.55 225.79,366.40 C226.80,364.25 227.20,360.19 227.00,356.90 C226.80,353.61 226.06,349.74 224.59,346.64 C223.11,343.54 220.57,340.05 218.16,338.28 C215.74,336.51 211.99,335.75 210.12,336.00 C208.24,336.25 207.97,339.80 206.90,339.80Z"/></clipPath>
<g filter="url(#blurA)">
<path d="M206.90,339.80 C205.83,339.80 205.56,336.25 203.68,336.00 C201.81,335.75 198.06,336.51 195.64,338.28 C193.23,340.05 190.69,343.54 189.21,346.64 C187.74,349.74 187.00,353.61 186.80,356.90 C186.60,360.19 187.00,364.25 188.01,366.40 C189.01,368.55 191.02,369.44 192.83,369.82 C194.64,370.20 197.32,368.30 198.86,368.68 C200.40,369.06 201.07,371.21 202.08,372.10 C203.08,372.99 203.75,373.68 204.89,374.00 C206.03,374.32 207.77,374.32 208.91,374.00 C210.05,373.68 210.72,372.99 211.72,372.10 C212.73,371.21 213.40,369.06 214.94,368.68 C216.48,368.30 219.16,370.20 220.97,369.82 C222.78,369.44 224.79,368.55 225.79,366.40 C226.80,364.25 227.20,360.19 227.00,356.90 C226.80,353.61 226.06,349.74 224.59,346.64 C223.11,343.54 220.57,340.05 218.16,338.28 C215.74,336.51 211.99,335.75 210.12,336.00 C208.24,336.25 207.97,339.80 206.90,339.80Z" fill="#e6e4e8" stroke="#b0b0b4" stroke-width="0.5"/>
<g clip-path="url(#cl10)">
<path d="M188.41,355.76 C188.68,354.37 188.81,349.93 190.02,347.40 C191.22,344.87 193.50,342.08 195.64,340.56 C197.79,339.04 201.67,338.66 202.88,338.28" fill="none" stroke="#f0d232" stroke-width="10.85" stroke-linecap="round"/>
<path d="M225.39,355.76 C225.12,354.37 224.99,349.93 223.78,347.40 C222.58,344.87 220.30,342.08 218.16,340.56 C216.01,339.04 212.13,338.66 210.92,338.28" fill="none" stroke="#f0d232" stroke-width="10.85" stroke-linecap="round"/>
<polygon points="202.08,334.86 206.90,339.04 205.69,346.64 202.08,344.36" fill="#f0d232"/>
<polygon points="210.92,334.86 207.70,339.04 208.51,345.88 211.72,343.60" fill="#e8c830"/>
<ellipse cx="198.86" cy="341.70" rx="4.42" ry="3.04" fill="#28289a" transform="rotate(-25 198.86 341.70)"/>
<ellipse cx="214.14" cy="340.56" rx="4.82" ry="3.42" fill="#28289a" transform="rotate(22 214.14 340.56)"/>
<ellipse cx="206.90" cy="348.54" rx="5.23" ry="3.61" fill="#42e272"/>
<polygon points="184.79,355.00 196.45,355.00 198.06,362.60 197.25,370.20 184.79,370.20" fill="#b262ea"/>
<polygon points="229.01,355.00 217.35,355.00 215.74,362.60 216.55,370.20 229.01,370.20" fill="#b262ea"/>
<ellipse cx="194.84" cy="354.62" rx="1.81" ry="1.14" fill="#2a7a4a"/>
<ellipse cx="218.96" cy="354.62" rx="1.81" ry="1.14" fill="#2a7a4a"/>
<ellipse cx="202.88" cy="357.28" rx="3.42" ry="3.04" fill="#f05232"/>
<ellipse cx="210.92" cy="357.28" rx="3.42" ry="3.04" fill="#f05232"/>
<polygon points="201.27,361.08 212.53,361.08 214.94,375.90 198.86,375.90" fill="#c6c6ca"/>
<ellipse cx="199.26" cy="364.12" rx="4.02" ry="2.66" fill="#52e264"/>
<ellipse cx="215.34" cy="364.12" rx="4.02" ry="2.66" fill="#52e264"/>
<ellipse cx="198.86" cy="368.30" rx="2.01" ry="1.14" fill="#c4e242"/>
<ellipse cx="218.16" cy="367.92" rx="2.01" ry="1.33" fill="#c4e242"/>
</g></g>
<clipPath id="cl11"><path d="M228.80,353.11 C229.08,350.88 230.35,347.90 231.75,345.67 C233.16,343.44 235.27,341.21 237.24,339.72 C239.21,338.23 241.32,337.36 243.57,336.74 C245.82,336.12 248.28,335.69 250.74,336.00 C253.21,336.31 255.81,337.05 258.34,338.60 C260.87,340.15 263.97,342.94 265.94,345.30 C267.91,347.66 269.52,350.45 270.16,352.74 C270.79,355.03 270.58,357.39 269.73,359.06 C268.89,360.74 266.99,362.10 265.09,362.78 C263.19,363.47 260.17,363.65 258.34,363.16 C256.51,362.66 255.39,359.62 254.12,359.81 C252.85,359.99 251.87,362.35 250.74,364.27 C249.62,366.19 248.77,369.85 247.37,371.34 C245.96,372.83 244.20,373.39 242.30,373.20 C240.41,373.01 237.59,371.84 235.97,370.22 C234.36,368.61 233.58,365.39 232.60,363.53 C231.61,361.67 230.70,360.80 230.07,359.06 C229.43,357.33 228.52,355.34 228.80,353.11Z"/></clipPath>
<g filter="url(#blurA)">
<path d="M228.80,353.11 C229.08,350.88 230.35,347.90 231.75,345.67 C233.16,343.44 235.27,341.21 237.24,339.72 C239.21,338.23 241.32,337.36 243.57,336.74 C245.82,336.12 248.28,335.69 250.74,336.00 C253.21,336.31 255.81,337.05 258.34,338.60 C260.87,340.15 263.97,342.94 265.94,345.30 C267.91,347.66 269.52,350.45 270.16,352.74 C270.79,355.03 270.58,357.39 269.73,359.06 C268.89,360.74 266.99,362.10 265.09,362.78 C263.19,363.47 260.17,363.65 258.34,363.16 C256.51,362.66 255.39,359.62 254.12,359.81 C252.85,359.99 251.87,362.35 250.74,364.27 C249.62,366.19 248.77,369.85 247.37,371.34 C245.96,372.83 244.20,373.39 242.30,373.20 C240.41,373.01 237.59,371.84 235.97,370.22 C234.36,368.61 233.58,365.39 232.60,363.53 C231.61,361.67 230.70,360.80 230.07,359.06 C229.43,357.33 228.52,355.34 228.80,353.11Z" fill="#d9d2da" stroke="#a8a8ac" stroke-width="0.5"/>
<g clip-path="url(#cl11)">
<polygon points="230.91,356.46 258.34,352.74 258.34,375.06 230.91,375.06" fill="#d9d2da"/>
<path d="M255.81,338.98 C256.93,339.72 260.59,341.33 262.56,343.44 C264.53,345.55 266.92,349.14 267.62,351.62 C268.33,354.10 268.05,356.58 266.78,358.32 C265.51,360.06 261.15,361.42 260.03,362.04" fill="none" stroke="#2838a8" stroke-width="8.44" stroke-linecap="round"/>
<polygon points="249.06,334.88 259.18,334.88 259.18,343.44 249.90,343.44" fill="#2a7042"/>
<polygon points="232.18,347.16 237.24,336.00 249.90,334.88 249.90,344.18 242.30,347.16 240.19,352.74" fill="#f0c832"/>
<polygon points="227.53,347.16 235.55,345.67 240.62,352.74 239.35,359.06 230.91,361.30 227.53,358.32" fill="#90e242"/>
<path d="M241.46,350.88 C242.30,350.01 244.41,346.60 246.52,345.67 C248.63,344.74 251.87,344.68 254.12,345.30 C256.37,345.92 258.62,347.84 260.03,349.39 C261.43,350.94 262.70,352.99 262.56,354.60 C262.42,356.21 259.75,358.32 259.18,359.06" fill="none" stroke="#42e282" stroke-width="6.33" stroke-linecap="round"/>
<ellipse cx="249.90" cy="354.60" rx="6.33" ry="3.72" fill="#b4b0b8"/>
<ellipse cx="248.63" cy="354.23" rx="2.11" ry="2.05" fill="#f05232"/>
</g></g>
<clipPath id="cl12"><path d="M291.60,332.89 C290.53,332.89 290.07,331.32 288.40,331.40 C286.73,331.48 283.73,332.06 281.60,333.38 C279.47,334.71 277.13,336.86 275.60,339.34 C274.07,341.82 273.07,345.04 272.40,348.26 C271.73,351.49 271.47,355.29 271.60,358.68 C271.73,362.07 272.13,365.71 273.20,368.60 C274.27,371.49 276.07,374.14 278.00,376.04 C279.93,377.94 282.53,379.18 284.80,380.01 C287.07,380.83 289.33,381.00 291.60,381.00 C293.87,381.00 296.13,380.83 298.40,380.01 C300.67,379.18 303.27,377.94 305.20,376.04 C307.13,374.14 308.93,371.49 310.00,368.60 C311.07,365.71 311.47,362.07 311.60,358.68 C311.73,355.29 311.47,351.49 310.80,348.26 C310.13,345.04 309.13,341.82 307.60,339.34 C306.07,336.86 303.73,334.71 301.60,333.38 C299.47,332.06 296.47,331.48 294.80,331.40 C293.13,331.32 292.67,332.89 291.60,332.89Z"/></clipPath>
<g filter="url(#blurA)">
<path d="M291.60,332.89 C290.53,332.89 290.07,331.32 288.40,331.40 C286.73,331.48 283.73,332.06 281.60,333.38 C279.47,334.71 277.13,336.86 275.60,339.34 C274.07,341.82 273.07,345.04 272.40,348.26 C271.73,351.49 271.47,355.29 271.60,358.68 C271.73,362.07 272.13,365.71 273.20,368.60 C274.27,371.49 276.07,374.14 278.00,376.04 C279.93,377.94 282.53,379.18 284.80,380.01 C287.07,380.83 289.33,381.00 291.60,381.00 C293.87,381.00 296.13,380.83 298.40,380.01 C300.67,379.18 303.27,377.94 305.20,376.04 C307.13,374.14 308.93,371.49 310.00,368.60 C311.07,365.71 311.47,362.07 311.60,358.68 C311.73,355.29 311.47,351.49 310.80,348.26 C310.13,345.04 309.13,341.82 307.60,339.34 C306.07,336.86 303.73,334.71 301.60,333.38 C299.47,332.06 296.47,331.48 294.80,331.40 C293.13,331.32 292.67,332.89 291.60,332.89Z" fill="#e6e4e8" stroke="#8a8a90" stroke-width="0.5"/>
<g clip-path="url(#cl12)">
<path d="M282.00,334.38 C280.93,335.53 277.00,338.84 275.60,341.32 C274.20,343.80 273.93,346.78 273.60,349.26 C273.27,351.74 273.60,355.04 273.60,356.20" fill="none" stroke="#2a6a4a" stroke-width="10.40" stroke-linecap="round"/>
<path d="M301.20,334.38 C302.27,335.53 306.20,338.84 307.60,341.32 C309.00,343.80 309.27,346.78 309.60,349.26 C309.93,351.74 309.60,355.04 309.60,356.20" fill="none" stroke="#2a6a4a" stroke-width="10.40" stroke-linecap="round"/>
<path d="M282.40,333.38 C283.93,333.22 288.53,332.39 291.60,332.39 C294.67,332.39 299.27,333.22 300.80,333.38" fill="none" stroke="#28308c" stroke-width="4.00" stroke-linecap="round"/>
<ellipse cx="291.60" cy="339.83" rx="4.40" ry="2.98" fill="#42e262"/>
<path d="M273.60,357.19 C273.67,358.68 273.00,363.23 274.00,366.12 C275.00,369.01 278.67,373.15 279.60,374.55" fill="none" stroke="#b262ea" stroke-width="9.60" stroke-linecap="round"/>
<path d="M309.60,357.19 C309.53,358.68 310.20,363.23 309.20,366.12 C308.20,369.01 304.53,373.15 303.60,374.55" fill="none" stroke="#b262ea" stroke-width="9.60" stroke-linecap="round"/>
<path d="M282.40,344.79 C282.20,345.70 281.27,348.35 281.20,350.25 C281.13,352.15 281.87,355.21 282.00,356.20" fill="none" stroke="#3282e2" stroke-width="2.00" stroke-linecap="round"/>
<path d="M300.80,344.79 C301.00,345.70 301.93,348.35 302.00,350.25 C302.07,352.15 301.33,355.21 301.20,356.20" fill="none" stroke="#3282e2" stroke-width="2.00" stroke-linecap="round"/>
<ellipse cx="287.60" cy="351.24" rx="4.40" ry="7.44" fill="#f05232" transform="rotate(12 287.60 351.24)"/>
<ellipse cx="296.00" cy="351.24" rx="4.40" ry="7.44" fill="#f05232" transform="rotate(-12 296.00 351.24)"/>
<ellipse cx="288.80" cy="359.67" rx="4.00" ry="3.47" fill="#ee4030"/>
<ellipse cx="295.20" cy="359.67" rx="4.00" ry="3.47" fill="#ee4030"/>
<polygon points="281.60,366.12 301.60,366.12 307.60,383.48 275.60,383.48" fill="#82e232"/>
<path d="M283.60,364.14 C283.93,365.29 285.40,368.85 285.60,371.08 C285.80,373.31 284.93,376.45 284.80,377.53" fill="none" stroke="#ecebee" stroke-width="1.80" stroke-linecap="round"/>
<path d="M299.60,364.14 C299.27,365.29 297.80,368.85 297.60,371.08 C297.40,373.31 298.27,376.45 298.40,377.53" fill="none" stroke="#ecebee" stroke-width="1.80" stroke-linecap="round"/>
<ellipse cx="289.20" cy="365.13" rx="1.20" ry="0.99" fill="#30c8d8"/>
<ellipse cx="294.40" cy="365.62" rx="1.20" ry="0.99" fill="#f0c020"/>
</g></g>
</g>
</svg>
</body></html>
